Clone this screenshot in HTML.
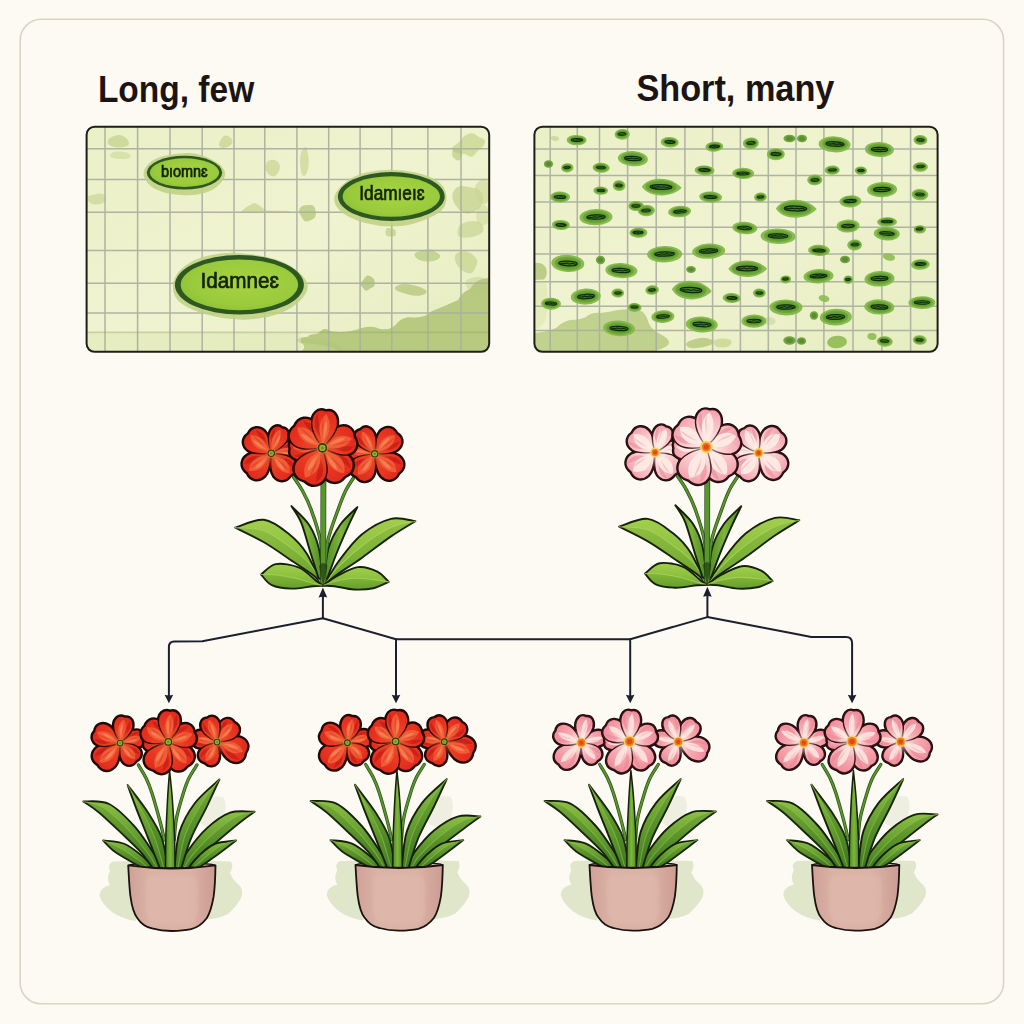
<!DOCTYPE html>
<html><head><meta charset="utf-8"><title>Long, few / Short, many</title>
<style>
html,body{margin:0;padding:0;background:#fdfaf4;}
body{width:1024px;height:1024px;overflow:hidden;font-family:"Liberation Sans",sans-serif;}
svg{display:block}
.ttl{font-family:"Liberation Sans",sans-serif;font-weight:bold;font-size:36px;fill:#1c1412;}
.lbl{font-family:"Liberation Sans",sans-serif;font-weight:normal;fill:#14230c;stroke:#14230c;stroke-width:0.7px;}
</style></head><body>
<svg width="1024" height="1024" viewBox="0 0 1024 1024">
<defs>
<clipPath id="clipL"><rect x="86.6" y="126.7" width="402.6" height="225.1" rx="8" ry="8"/></clipPath>
<clipPath id="clipR"><rect x="534.4" y="126.7" width="403.2" height="225.1" rx="8" ry="8"/></clipPath>
<filter id="soft" x="-20%" y="-20%" width="140%" height="140%"><feGaussianBlur stdDeviation="0.7"/></filter>
<filter id="soft2" x="-20%" y="-20%" width="140%" height="140%"><feGaussianBlur stdDeviation="1.4"/></filter>
<radialGradient id="egrad" cx="0.55" cy="0.45" r="0.75"><stop offset="0" stop-color="#a6d341"/><stop offset="0.6" stop-color="#9acb3c"/><stop offset="1" stop-color="#84b833"/></radialGradient>
<linearGradient id="pgradL" x1="0" y1="0" x2="1" y2="1"><stop offset="0" stop-color="#eaf0c6"/><stop offset="0.5" stop-color="#f0f3d0"/><stop offset="1" stop-color="#e6edc0"/></linearGradient>
<filter id="softS" x="-5%" y="-5%" width="110%" height="110%"><feGaussianBlur stdDeviation="0.35"/></filter>
<linearGradient id="pr" x1="0" y1="1" x2="0" y2="0"><stop offset="0" stop-color="#d92a1b"/><stop offset="0.45" stop-color="#ea3a23"/><stop offset="1" stop-color="#e12a1c"/></linearGradient>
<linearGradient id="pp" x1="0" y1="1" x2="0" y2="0"><stop offset="0" stop-color="#fde6e1"/><stop offset="0.55" stop-color="#f9c5c8"/><stop offset="1" stop-color="#f3a2ad"/></linearGradient>
<linearGradient id="pq" x1="0" y1="1" x2="0" y2="0"><stop offset="0" stop-color="#fbd3d0"/><stop offset="0.5" stop-color="#f6a9b0"/><stop offset="1" stop-color="#f08c9a"/></linearGradient>
<linearGradient id="lfA" x1="0" y1="0" x2="0" y2="1"><stop offset="0" stop-color="#a2cf4d"/><stop offset="0.55" stop-color="#8abf3c"/><stop offset="1" stop-color="#6ea830"/></linearGradient>
<linearGradient id="lfB" x1="0" y1="0" x2="0" y2="1"><stop offset="0" stop-color="#8cc043"/><stop offset="0.5" stop-color="#659f30"/><stop offset="1" stop-color="#447c24"/></linearGradient>
<linearGradient id="lfC" x1="0" y1="0" x2="1" y2="0"><stop offset="0" stop-color="#4d8a27"/><stop offset="0.5" stop-color="#7fb53a"/><stop offset="1" stop-color="#4d8a27"/></linearGradient>
<linearGradient id="potg" x1="0" y1="0" x2="1" y2="0"><stop offset="0" stop-color="#cfa196"/><stop offset="0.25" stop-color="#dbb2a6"/><stop offset="0.7" stop-color="#dbb2a6"/><stop offset="1" stop-color="#cc9c92"/></linearGradient>
<radialGradient id="glowR"><stop offset="0" stop-color="#f47a3e" stop-opacity="0.75"/><stop offset="0.5" stop-color="#f2683a" stop-opacity="0.35"/><stop offset="1" stop-color="#f2683a" stop-opacity="0"/></radialGradient>
<radialGradient id="glowP"><stop offset="0" stop-color="#fdf0d8" stop-opacity="0.85"/><stop offset="0.5" stop-color="#fdeee6" stop-opacity="0.4"/><stop offset="1" stop-color="#fdeee6" stop-opacity="0"/></radialGradient>
</defs>
<rect width="1024" height="1024" fill="#fdfaf4"/>
<rect x="20.2" y="19.2" width="983.4" height="984.6" rx="21" ry="21" fill="none" stroke="#dbd4c4" stroke-width="1.6"/>
<text x="97.9" y="101.8" class="ttl" textLength="156.3" lengthAdjust="spacingAndGlyphs">Long, few</text>
<text x="636.4" y="101.1" class="ttl" textLength="198" lengthAdjust="spacingAndGlyphs">Short, many</text>
<rect x="86.6" y="126.7" width="402.6" height="225.1" rx="8" ry="8" fill="url(#pgradL)"/>
<g clip-path="url(#clipL)">
<g filter="url(#soft)">
<path d="M8.8,-1.6Q10.1,0.0 10.3,2.3Q10.6,4.6 6.5,5.7Q2.3,6.8 -1.5,5.8Q-5.4,4.8 -8.3,3.5Q-11.3,2.1 -11.1,0.0Q-11.0,-2.1 -8.7,-3.9Q-6.4,-5.7 -2.0,-6.3Q2.3,-6.9 4.9,-5.1Q7.5,-3.3 8.8,-1.6Z" transform="translate(118.5,141.5) rotate(-5)" fill="#c9d694" opacity="0.85"/>
<path d="M9.5,-1.5Q11.4,0.0 10.1,1.7Q8.7,3.5 5.0,3.5Q1.3,3.6 -1.3,3.4Q-3.9,3.2 -7.1,2.5Q-10.2,1.8 -10.0,0.0Q-9.9,-1.7 -7.5,-2.9Q-5.1,-4.2 -1.8,-4.1Q1.5,-4.1 4.6,-3.5Q7.6,-3.0 9.5,-1.5Z" transform="translate(120.0,155.5) rotate(0)" fill="#c9d694" opacity="0.55"/>
<path d="M6.3,-1.7Q7.1,0.0 6.7,2.0Q6.2,3.9 3.8,4.8Q1.3,5.6 -1.4,5.5Q-4.2,5.4 -6.1,3.8Q-7.9,2.2 -7.0,0.3Q-6.1,-1.7 -4.6,-2.9Q-3.1,-4.1 -0.8,-5.4Q1.6,-6.8 3.5,-5.1Q5.5,-3.4 6.3,-1.7Z" transform="translate(225.5,141.8) rotate(-20)" fill="#c9d694" opacity="0.80"/>
<path d="M7.4,-3.1Q7.5,0.0 6.4,2.3Q5.4,4.5 3.4,6.2Q1.4,8.0 -1.1,7.1Q-3.6,6.2 -5.0,4.3Q-6.5,2.4 -7.1,-0.2Q-7.6,-2.8 -6.3,-5.7Q-5.0,-8.7 -1.7,-9.1Q1.7,-9.5 4.5,-7.8Q7.3,-6.1 7.4,-3.1Z" transform="translate(272.5,169.0) rotate(0)" fill="#c9d694" opacity="0.75"/>
<path d="M8.9,-2.1Q9.5,0.0 8.6,2.0Q7.6,3.9 4.7,5.0Q1.8,6.1 -1.8,5.9Q-5.4,5.7 -7.4,3.9Q-9.3,2.1 -9.7,-0.1Q-10.0,-2.2 -6.8,-3.0Q-3.6,-3.8 -1.0,-4.6Q1.5,-5.3 4.9,-4.8Q8.2,-4.2 8.9,-2.1Z" transform="translate(97.0,198.5) rotate(0)" fill="#c9d694" opacity="0.70"/>
<path d="M241,211.5 Q247,206 254,203 Q260,204.5 265,210.5 L290,211 L290,212.6 L241,212.6Z" fill="#c9d694" opacity="0.8"/>
<path d="M4.3,-4.6Q5.2,0.0 4.6,5.5Q4.0,11.0 2.4,12.8Q0.8,14.7 -0.6,13.2Q-2.1,11.6 -2.7,7.8Q-3.4,4.0 -4.0,-0.7Q-4.6,-5.5 -3.5,-9.2Q-2.3,-12.8 -0.7,-14.6Q0.9,-16.5 2.1,-12.8Q3.3,-9.1 4.3,-4.6Z" transform="translate(304.0,162.0) rotate(4)" fill="#c9d694" opacity="0.70"/>
<path d="M7.7,-2.4Q9.2,0.0 7.9,2.6Q6.5,5.2 4.2,7.6Q1.9,10.0 -1.1,8.3Q-4.1,6.7 -6.8,5.0Q-9.5,3.3 -9.2,0.1Q-8.8,-3.1 -6.4,-4.8Q-4.0,-6.6 -1.1,-8.0Q1.7,-9.4 3.9,-7.1Q6.1,-4.9 7.7,-2.4Z" transform="translate(308.0,212.5) rotate(30)" fill="#b3c77a" opacity="0.75"/>
<path d="M5.3,-1.6Q5.5,0.0 5.6,1.8Q5.7,3.6 3.3,3.7Q0.9,3.8 -1.2,4.1Q-3.4,4.3 -4.1,2.8Q-4.8,1.3 -5.0,-0.1Q-5.2,-1.4 -4.5,-3.1Q-3.8,-4.9 -1.4,-4.4Q0.9,-4.0 3.0,-3.5Q5.0,-3.1 5.3,-1.6Z" transform="translate(390.5,232.5) rotate(0)" fill="#c9d694" opacity="0.90"/>
<path d="M13.5,-2.2Q16.6,0.0 14.9,2.7Q13.2,5.5 9.4,6.7Q5.5,7.8 1.3,10.6Q-3.0,13.3 -5.4,9.6Q-7.8,5.9 -12.1,4.5Q-16.3,3.1 -18.3,-0.4Q-20.2,-3.8 -14.3,-5.0Q-8.3,-6.2 -5.4,-8.7Q-2.5,-11.2 2.5,-11.0Q7.6,-10.7 9.0,-7.5Q10.4,-4.3 13.5,-2.2Z" transform="translate(470.0,145.0) rotate(-20)" fill="#c9d694" opacity="0.80"/>
<path d="M4.5,-2.3Q5.2,0.0 4.4,2.2Q3.7,4.4 2.3,5.7Q0.9,7.1 -0.6,6.2Q-2.2,5.3 -3.8,4.0Q-5.3,2.7 -5.4,-0.0Q-5.4,-2.7 -4.0,-4.6Q-2.7,-6.5 -1.0,-6.2Q0.7,-5.9 2.3,-5.2Q3.9,-4.5 4.5,-2.3Z" transform="translate(457.5,154.0) rotate(0)" fill="#b3c77a" opacity="0.60"/>
<path d="M14.3,-5.0Q16.5,0.0 14.5,5.1Q12.5,10.3 6.2,13.9Q0.0,17.6 -5.9,13.6Q-11.8,9.7 -14.4,4.8Q-17.1,0.0 -14.9,-5.2Q-12.7,-10.4 -6.3,-10.9Q-0.0,-11.4 6.1,-10.7Q12.1,-10.0 14.3,-5.0Z" transform="translate(468.0,198.0) rotate(10)" fill="#c9d694" opacity="0.85"/>
<path d="M8.2,-4.5Q8.9,0.0 8.1,4.5Q7.4,8.9 4.5,11.3Q1.7,13.7 -1.1,11.6Q-3.8,9.5 -5.2,6.5Q-6.6,3.5 -7.3,-0.4Q-8.0,-4.2 -6.0,-7.2Q-4.1,-10.1 -1.1,-12.3Q1.8,-14.6 4.6,-11.8Q7.5,-9.1 8.2,-4.5Z" transform="translate(482.0,192.0) rotate(0)" fill="#c9d694" opacity="0.60"/>
<path d="M11.6,-2.7Q13.7,0.0 13.1,3.5Q12.6,7.1 6.3,8.5Q0.0,10.0 -6.8,8.8Q-13.7,7.7 -13.3,3.8Q-13.0,0.0 -11.2,-2.7Q-9.5,-5.3 -4.7,-6.2Q-0.0,-7.1 4.7,-6.2Q9.4,-5.3 11.6,-2.7Z" transform="translate(470.0,228.0) rotate(-10)" fill="#c9d694" opacity="0.75"/>
<path d="M6.1,-2.9Q6.6,0.0 6.6,3.5Q6.7,7.0 4.1,8.8Q1.5,10.5 -1.6,10.4Q-4.8,10.3 -5.8,6.7Q-6.8,3.1 -6.7,0.0Q-6.7,-3.1 -5.6,-6.3Q-4.4,-9.6 -1.5,-10.0Q1.5,-10.5 3.5,-8.2Q5.6,-5.9 6.1,-2.9Z" transform="translate(483.0,215.0) rotate(0)" fill="#c9d694" opacity="0.50"/>
<path d="M6.9,-2.8Q8.0,0.0 6.0,1.9Q4.0,3.8 2.6,6.0Q1.3,8.3 -0.8,6.9Q-2.8,5.6 -5.2,4.4Q-7.5,3.2 -6.2,0.6Q-4.9,-2.0 -4.4,-4.9Q-3.9,-7.7 -1.3,-7.9Q1.2,-8.1 3.5,-6.9Q5.9,-5.7 6.9,-2.8Z" transform="translate(367.5,283.5) rotate(20)" fill="#b3c77a" opacity="0.85"/>
<path d="M10.8,-1.7Q13.1,0.0 11.9,2.1Q10.6,4.2 6.5,5.2Q2.3,6.3 -2.2,5.9Q-6.8,5.6 -9.7,3.9Q-12.6,2.2 -13.4,-0.1Q-14.1,-2.4 -10.2,-3.8Q-6.3,-5.1 -1.8,-6.0Q2.6,-6.9 5.5,-5.1Q8.4,-3.3 10.8,-1.7Z" transform="translate(428.0,255.5) rotate(0)" fill="#b3c77a" opacity="0.70"/>
<path d="M12.9,-1.4Q16.2,0.0 15.0,2.0Q13.9,4.1 8.6,5.4Q3.3,6.6 -2.0,5.5Q-7.3,4.4 -12.0,3.3Q-16.8,2.1 -16.6,0.0Q-16.4,-2.1 -12.5,-3.6Q-8.6,-5.2 -3.1,-4.9Q2.3,-4.6 6.0,-3.7Q9.7,-2.9 12.9,-1.4Z" transform="translate(411.5,289.5) rotate(5)" fill="#b3c77a" opacity="0.75"/>
<path d="M10.5,-3.8Q11.3,0.0 11.1,4.3Q10.9,8.5 5.4,9.2Q0.0,9.9 -4.1,8.1Q-8.1,6.4 -11.0,3.2Q-13.9,0.0 -11.9,-3.9Q-9.9,-7.8 -4.9,-9.3Q-0.0,-10.9 4.8,-9.2Q9.7,-7.6 10.5,-3.8Z" transform="translate(466.0,262.0) rotate(30)" fill="#c9d694" opacity="0.80"/>
<path d="M10.6,-2.9Q12.9,0.0 11.6,3.6Q10.3,7.2 6.2,8.6Q2.1,9.9 -2.0,9.3Q-6.0,8.7 -8.4,6.0Q-10.7,3.3 -12.2,-0.5Q-13.7,-4.2 -9.6,-6.0Q-5.4,-7.9 -1.8,-8.1Q1.8,-8.3 5.0,-7.0Q8.2,-5.8 10.6,-2.9Z" transform="translate(478.0,285.0) rotate(0)" fill="#c9d694" opacity="0.60"/>
<path d="M296,340 Q305,335 318,333.5 Q324,326 330,331 Q345,334 362,328 Q372,325 380,329 Q392,331 398,322 Q404,316 414,317.5 Q425,318 432,311 Q445,306 458,300 Q462,292 470,289 Q476,278 489.5,278 L489.5,352 L340,352 Q330,344 300,343Z" fill="#b3c77a" opacity="0.92"/>
<path d="M296,340 Q315,337 332,342 Q345,346 340,352 L300,352 Q310,346 296,340Z" fill="#b3c77a" opacity="0.8"/>
<path d="M8.9,-0.7Q10.6,0.0 9.0,0.8Q7.5,1.5 4.6,2.0Q1.7,2.4 -1.8,2.3Q-5.3,2.2 -6.4,1.5Q-7.6,0.7 -8.3,-0.1Q-9.0,-0.8 -7.1,-1.5Q-5.3,-2.2 -1.7,-2.4Q1.8,-2.5 4.5,-2.0Q7.1,-1.5 8.9,-0.7Z" transform="translate(432.0,306.5) rotate(-8)" fill="#e6edc0" opacity="0.80"/>
<path d="M5.7,-0.5Q6.0,0.0 5.9,0.6Q5.8,1.1 3.5,1.4Q1.3,1.7 -1.1,1.5Q-3.5,1.4 -4.6,0.9Q-5.8,0.5 -6.6,-0.1Q-7.4,-0.6 -5.7,-1.1Q-4.0,-1.6 -1.4,-1.6Q1.2,-1.6 3.3,-1.3Q5.4,-1.0 5.7,-0.5Z" transform="translate(303.0,335.8) rotate(-5)" fill="#eef2cc" opacity="0.90"/>
</g>
<rect x="86" y="332" width="215" height="21" fill="#dfe8b4" opacity="0.55"/>
<g stroke="#aab0a0" stroke-width="1.5" opacity="0.95"><line x1="105.0" y1="126.7" x2="105.0" y2="351.8"/><line x1="137.6" y1="126.7" x2="137.6" y2="351.8"/><line x1="170.0" y1="126.7" x2="170.0" y2="351.8"/><line x1="202.2" y1="126.7" x2="202.2" y2="351.8"/><line x1="234.0" y1="126.7" x2="234.0" y2="351.8"/><line x1="264.8" y1="126.7" x2="264.8" y2="351.8"/><line x1="296.9" y1="126.7" x2="296.9" y2="351.8"/><line x1="328.7" y1="126.7" x2="328.7" y2="351.8"/><line x1="360.1" y1="126.7" x2="360.1" y2="351.8"/><line x1="391.8" y1="126.7" x2="391.8" y2="351.8"/><line x1="427.9" y1="126.7" x2="427.9" y2="351.8"/><line x1="461.0" y1="126.7" x2="461.0" y2="351.8"/><line x1="86.6" y1="148.8" x2="489.2" y2="148.8"/><line x1="86.6" y1="179.5" x2="489.2" y2="179.5"/><line x1="86.6" y1="212.3" x2="489.2" y2="212.3"/><line x1="86.6" y1="250.4" x2="489.2" y2="250.4"/><line x1="86.6" y1="283.2" x2="489.2" y2="283.2"/><line x1="86.6" y1="312.9" x2="489.2" y2="312.9"/></g><line x1="86.6" y1="332.4" x2="489.2" y2="332.4" stroke="#8f9a70" stroke-width="1.6" opacity="0.35"/>
<g filter="url(#soft)"><path d="M39.9,-4.5Q42.5,0.0 39.9,4.5Q37.3,9.0 32.3,13.1Q27.2,17.2 18.5,19.3Q9.7,21.4 0.2,21.1Q-9.4,20.7 -18.0,18.8Q-26.7,16.8 -32.0,13.0Q-37.3,9.1 -39.4,4.5Q-41.5,0.0 -39.5,-4.6Q-37.5,-9.1 -32.1,-13.0Q-26.7,-16.9 -18.0,-18.6Q-9.2,-20.3 0.2,-20.9Q9.7,-21.5 17.7,-18.8Q25.6,-16.2 31.4,-12.6Q37.3,-9.0 39.9,-4.5Z" transform="translate(184.0,174.1) rotate(0)" fill="#bdd082" opacity="0.85"/></g>
<ellipse cx="184.5" cy="172.6" rx="37.7" ry="16.9" fill="#2d581f"/>
<ellipse cx="184.5" cy="172.6" rx="34.7" ry="14.3" fill="url(#egrad)"/>
<text x="160.9" y="176.8" class="lbl" font-size="15.6" textLength="46.8" lengthAdjust="spacingAndGlyphs">bıomnɛ</text>
<g filter="url(#soft)"><path d="M54.8,-6.4Q56.6,0.0 54.6,6.3Q52.7,12.6 44.0,17.3Q35.3,22.0 24.2,25.2Q13.1,28.5 0.0,28.4Q-13.0,28.3 -24.4,25.3Q-35.9,22.3 -44.3,17.5Q-52.7,12.6 -55.5,6.3Q-58.3,0.0 -54.4,-6.0Q-50.6,-12.1 -43.4,-17.3Q-36.2,-22.6 -24.6,-25.4Q-13.0,-28.3 -0.0,-28.2Q12.9,-28.1 25.0,-25.6Q37.1,-23.1 45.1,-17.9Q53.1,-12.7 54.8,-6.4Z" transform="translate(390.8,198.0) rotate(0)" fill="#bdd082" opacity="0.85"/></g>
<ellipse cx="391.3" cy="196.5" rx="53.4" ry="24.4" fill="#2d581f"/>
<ellipse cx="391.3" cy="196.5" rx="48.6" ry="20.2" fill="url(#egrad)"/>
<text x="359.3" y="200.4" class="lbl" font-size="19.3" textLength="65.3" lengthAdjust="spacingAndGlyphs">Idamıeıɛ</text>
<g filter="url(#soft)"><path d="M66.2,-7.3Q71.4,0.0 66.7,7.4Q62.1,14.8 52.9,21.0Q43.7,27.1 29.7,30.5Q15.6,33.9 0.3,33.3Q-15.1,32.7 -28.4,29.3Q-41.8,25.9 -52.3,20.4Q-62.7,14.9 -65.0,7.5Q-67.3,0.0 -64.5,-7.4Q-61.7,-14.7 -53.0,-21.1Q-44.3,-27.5 -30.0,-30.8Q-15.8,-34.2 -0.4,-33.3Q15.0,-32.5 28.4,-29.2Q41.8,-26.0 51.4,-20.3Q61.0,-14.6 66.2,-7.3Z" transform="translate(238.9,286.3) rotate(0)" fill="#bdd082" opacity="0.85"/></g>
<ellipse cx="239.4" cy="284.8" rx="64.5" ry="29.8" fill="#2d581f"/>
<ellipse cx="239.4" cy="284.8" rx="58.7" ry="25.4" fill="url(#egrad)"/>
<text x="200.6" y="288.2" class="lbl" font-size="22.0" textLength="78.4" lengthAdjust="spacingAndGlyphs">Idamneɛ</text>
</g>
<rect x="86.6" y="126.7" width="402.6" height="225.1" rx="8" ry="8" fill="none" stroke="#1d2016" stroke-width="2"/>
<rect x="534.4" y="126.7" width="403.2" height="225.1" rx="8" ry="8" fill="url(#pgradL)"/>
<g clip-path="url(#clipR)">
<g filter="url(#soft)">
<path d="M534,263 Q543,262 546,268 Q548.5,275 544,279.5 L534,280Z" fill="#b3c77a" opacity="0.85"/>
<path d="M534,283 L546,283 Q549,300 546,318 Q544,326 534,330Z" fill="#dfe8b4" opacity="0.7"/>
<path d="M534,333 Q548,332 556,328 Q562,322 570,320 Q580,320 586,317 Q592,312 600,313 Q610,312 618,310 Q630,308.5 640,310.5 Q646,313 648,321 Q650,329 660,334 Q672,340 668,345 Q664,349 650,352 L534,352Z" fill="#b3c77a" opacity="0.78"/>
<path d="M12.9,-1.4Q14.1,0.0 12.8,1.3Q11.4,2.7 7.2,3.7Q3.0,4.7 -3.4,4.7Q-9.7,4.7 -12.0,3.1Q-14.2,1.4 -14.1,0.0Q-14.0,-1.4 -11.0,-2.6Q-7.9,-3.8 -2.2,-4.7Q3.5,-5.5 7.6,-4.1Q11.6,-2.7 12.9,-1.4Z" transform="translate(700.0,343.0) rotate(-5)" fill="#b3c77a" opacity="0.80"/>
<path d="M8.5,-1.8Q8.1,0.0 7.4,1.4Q6.7,2.8 4.1,3.7Q1.6,4.5 -2.1,4.8Q-5.9,5.1 -7.6,3.4Q-9.4,1.7 -9.8,-0.1Q-10.3,-1.9 -7.2,-2.7Q-4.1,-3.6 -1.2,-4.3Q1.7,-4.9 5.3,-4.3Q8.8,-3.7 8.5,-1.8Z" transform="translate(723.0,343.0) rotate(5)" fill="#c9d694" opacity="0.80"/>
<path d="M3.7,-0.9Q4.1,0.0 3.7,0.9Q3.2,1.8 2.0,2.3Q0.8,2.9 -0.5,2.5Q-1.8,2.0 -2.9,1.5Q-4.0,0.9 -4.2,-0.0Q-4.4,-1.0 -3.4,-1.8Q-2.4,-2.7 -0.9,-2.4Q0.6,-2.2 1.9,-2.0Q3.3,-1.8 3.7,-0.9Z" transform="translate(555.0,138.5) rotate(0)" fill="#c9d694" opacity="0.80"/>
<path d="M5.1,-1.2Q6.1,0.0 5.4,1.3Q4.8,2.7 3.0,3.6Q1.2,4.5 -1.2,4.3Q-3.5,4.1 -5.1,2.8Q-6.6,1.6 -5.9,0.2Q-5.3,-1.3 -4.4,-2.7Q-3.6,-4.1 -1.3,-4.0Q1.0,-3.8 2.6,-3.1Q4.2,-2.4 5.1,-1.2Z" transform="translate(770.0,321.0) rotate(0)" fill="#c9d694" opacity="0.60"/>
</g>
<g stroke="#aab0a0" stroke-width="1.5" opacity="0.95"><line x1="550.2" y1="126.7" x2="550.2" y2="351.8"/><line x1="577.3" y1="126.7" x2="577.3" y2="351.8"/><line x1="599.5" y1="126.7" x2="599.5" y2="351.8"/><line x1="627.6" y1="126.7" x2="627.6" y2="351.8"/><line x1="656.2" y1="126.7" x2="656.2" y2="351.8"/><line x1="684.9" y1="126.7" x2="684.9" y2="351.8"/><line x1="712.6" y1="126.7" x2="712.6" y2="351.8"/><line x1="740.4" y1="126.7" x2="740.4" y2="351.8"/><line x1="768.3" y1="126.7" x2="768.3" y2="351.8"/><line x1="796.0" y1="126.7" x2="796.0" y2="351.8"/><line x1="823.9" y1="126.7" x2="823.9" y2="351.8"/><line x1="853.0" y1="126.7" x2="853.0" y2="351.8"/><line x1="881.9" y1="126.7" x2="881.9" y2="351.8"/><line x1="910.6" y1="126.7" x2="910.6" y2="351.8"/><line x1="534.4" y1="149.1" x2="937.6" y2="149.1"/><line x1="534.4" y1="175.4" x2="937.6" y2="175.4"/><line x1="534.4" y1="202.0" x2="937.6" y2="202.0"/><line x1="534.4" y1="227.3" x2="937.6" y2="227.3"/><line x1="534.4" y1="253.9" x2="937.6" y2="253.9"/><line x1="534.4" y1="281.8" x2="937.6" y2="281.8"/><line x1="534.4" y1="306.2" x2="937.6" y2="306.2"/><line x1="534.4" y1="330.6" x2="937.6" y2="330.6"/></g>
<g filter="url(#softS)"><g transform="rotate(1.1 577.0 140.0)"><ellipse cx="576.6" cy="140.1" rx="10.0" ry="5.2" fill="#83b748" opacity="0.95"/><ellipse cx="577.0" cy="140.0" rx="8.0" ry="4.1" fill="#6ca538"/><ellipse cx="577.0" cy="140.0" rx="6.8" ry="2.9" fill="#5f9b31" opacity="0.85"/><ellipse cx="577.0" cy="140.0" rx="5.6" ry="1.4" fill="#3f7d24" stroke="#10260c" stroke-width="1.05"/><path d="M572.5,140.1 L575.5,140.3 L578.5,139.7 L581.5,140.3" fill="none" stroke="#0f2a0c" stroke-width="0.89" stroke-linecap="round"/></g><g transform="rotate(-2.2 622.0 134.0)"><ellipse cx="622.2" cy="134.3" rx="7.6" ry="5.4" fill="#83b748" opacity="0.95"/><ellipse cx="622.0" cy="134.0" rx="6.1" ry="4.2" fill="#6ca538"/><ellipse cx="622.0" cy="134.0" rx="5.2" ry="3.0" fill="#5f9b31" opacity="0.85"/><ellipse cx="622.0" cy="134.0" rx="4.3" ry="1.5" fill="#3f7d24" stroke="#10260c" stroke-width="0.85"/><path d="M618.6,134.1 L622.0,134.3 L625.4,133.7" fill="none" stroke="#0f2a0c" stroke-width="0.72" stroke-linecap="round"/></g><g transform="rotate(3.1 670.0 142.0)"><ellipse cx="669.7" cy="142.2" rx="9.0" ry="5.2" fill="#83b748" opacity="0.95"/><ellipse cx="670.0" cy="142.0" rx="7.2" ry="4.1" fill="#6ca538"/><ellipse cx="670.0" cy="142.0" rx="6.1" ry="2.9" fill="#5f9b31" opacity="0.85"/><ellipse cx="670.0" cy="142.0" rx="5.0" ry="1.4" fill="#3f7d24" stroke="#10260c" stroke-width="1.05"/><path d="M666.0,142.1 L668.7,142.3 L671.3,141.7 L674.0,142.3" fill="none" stroke="#0f2a0c" stroke-width="0.89" stroke-linecap="round"/></g><g transform="rotate(-3.8 714.5 146.5)"><ellipse cx="714.3" cy="146.7" rx="9.0" ry="5.0" fill="#83b748" opacity="0.95"/><ellipse cx="714.5" cy="146.5" rx="7.2" ry="3.9" fill="#6ca538"/><ellipse cx="714.5" cy="146.5" rx="6.1" ry="2.8" fill="#5f9b31" opacity="0.85"/><ellipse cx="714.5" cy="146.5" rx="5.0" ry="1.4" fill="#3f7d24" stroke="#10260c" stroke-width="1.05"/><path d="M710.5,146.6 L713.2,146.8 L715.8,146.2 L718.5,146.8" fill="none" stroke="#0f2a0c" stroke-width="0.89" stroke-linecap="round"/></g><g transform="rotate(-3.8 751.0 143.0)"><ellipse cx="750.8" cy="143.3" rx="8.0" ry="5.8" fill="#83b748" opacity="0.95"/><ellipse cx="751.0" cy="143.0" rx="6.4" ry="4.5" fill="#6ca538"/><ellipse cx="751.0" cy="143.0" rx="5.4" ry="3.2" fill="#5f9b31" opacity="0.85"/><ellipse cx="751.0" cy="143.0" rx="4.5" ry="1.6" fill="#3f7d24" stroke="#10260c" stroke-width="0.85"/><path d="M747.4,143.1 L751.0,143.3 L754.6,142.7" fill="none" stroke="#0f2a0c" stroke-width="0.72" stroke-linecap="round"/></g><g transform="rotate(0.4 776.0 154.0)"><ellipse cx="775.8" cy="154.3" rx="9.0" ry="6.0" fill="#83b748" opacity="0.95"/><ellipse cx="776.0" cy="154.0" rx="7.2" ry="4.7" fill="#6ca538"/><ellipse cx="776.0" cy="154.0" rx="6.1" ry="3.3" fill="#5f9b31" opacity="0.85"/><ellipse cx="776.0" cy="154.0" rx="5.0" ry="1.6" fill="#3f7d24" stroke="#10260c" stroke-width="1.05"/><path d="M772.0,154.1 L774.7,154.3 L777.3,153.7 L780.0,154.3" fill="none" stroke="#0f2a0c" stroke-width="0.89" stroke-linecap="round"/></g><ellipse cx="789.5" cy="138.5" rx="6.0" ry="3.8" fill="#6e9f3b" opacity="0.95"/><ellipse cx="789.5" cy="138.5" rx="3.6" ry="2.3" fill="#5a8d30"/><ellipse cx="802.0" cy="138.5" rx="5.0" ry="3.8" fill="#6e9f3b" opacity="0.95"/><ellipse cx="802.0" cy="138.5" rx="3.0" ry="2.3" fill="#5a8d30"/><g transform="rotate(2.5 835.0 144.0)"><ellipse cx="834.6" cy="144.4" rx="16.0" ry="8.0" fill="#83b748" opacity="0.95"/><ellipse cx="835.0" cy="144.0" rx="12.8" ry="6.2" fill="#6ca538"/><ellipse cx="835.0" cy="144.0" rx="10.9" ry="4.4" fill="#5f9b31" opacity="0.85"/><ellipse cx="835.0" cy="144.0" rx="9.0" ry="2.2" fill="#3f7d24" stroke="#10260c" stroke-width="1.25"/><path d="M827.8,144.1 L830.7,144.3 L833.6,143.7 L836.4,144.3 L839.3,143.7 L842.2,144.3" fill="none" stroke="#0f2a0c" stroke-width="1.06" stroke-linecap="round"/></g><g transform="rotate(1.6 879.5 149.5)"><ellipse cx="879.4" cy="149.5" rx="14.5" ry="7.6" fill="#83b748" opacity="0.95"/><ellipse cx="879.5" cy="149.5" rx="11.6" ry="5.9" fill="#6ca538"/><ellipse cx="879.5" cy="149.5" rx="9.9" ry="4.2" fill="#5f9b31" opacity="0.85"/><ellipse cx="879.5" cy="149.5" rx="8.1" ry="2.1" fill="#3f7d24" stroke="#10260c" stroke-width="1.25"/><path d="M873.0,149.6 L875.6,149.8 L878.2,149.2 L880.8,149.8 L883.4,149.2 L886.0,149.8" fill="none" stroke="#0f2a0c" stroke-width="1.06" stroke-linecap="round"/></g><g transform="rotate(3.7 920.5 140.0)"><ellipse cx="920.4" cy="140.0" rx="7.0" ry="5.0" fill="#83b748" opacity="0.95"/><ellipse cx="920.5" cy="140.0" rx="5.6" ry="3.9" fill="#6ca538"/><ellipse cx="920.5" cy="140.0" rx="4.8" ry="2.8" fill="#5f9b31" opacity="0.85"/><ellipse cx="920.5" cy="140.0" rx="3.9" ry="1.4" fill="#3f7d24" stroke="#10260c" stroke-width="0.85"/><path d="M917.4,140.1 L920.5,140.3 L923.6,139.7" fill="none" stroke="#0f2a0c" stroke-width="0.72" stroke-linecap="round"/></g><ellipse cx="548.5" cy="164.0" rx="4.6" ry="3.8" fill="#6e9f3b" opacity="0.95"/><ellipse cx="548.5" cy="164.0" rx="2.8" ry="2.3" fill="#5a8d30"/><g transform="rotate(-3.2 567.0 167.5)"><ellipse cx="567.3" cy="167.8" rx="6.2" ry="4.6" fill="#83b748" opacity="0.95"/><ellipse cx="567.0" cy="167.5" rx="5.0" ry="3.6" fill="#6ca538"/><ellipse cx="567.0" cy="167.5" rx="4.2" ry="2.5" fill="#5f9b31" opacity="0.85"/><ellipse cx="567.0" cy="167.5" rx="3.5" ry="1.2" fill="#3f7d24" stroke="#10260c" stroke-width="0.85"/><path d="M564.2,167.6 L567.0,167.8 L569.8,167.2" fill="none" stroke="#0f2a0c" stroke-width="0.72" stroke-linecap="round"/></g><g transform="rotate(2.5 601.0 167.5)"><ellipse cx="601.2" cy="167.7" rx="8.6" ry="5.0" fill="#83b748" opacity="0.95"/><ellipse cx="601.0" cy="167.5" rx="6.9" ry="3.9" fill="#6ca538"/><ellipse cx="601.0" cy="167.5" rx="5.8" ry="2.8" fill="#5f9b31" opacity="0.85"/><ellipse cx="601.0" cy="167.5" rx="4.8" ry="1.4" fill="#3f7d24" stroke="#10260c" stroke-width="0.85"/><path d="M597.1,167.6 L599.7,167.8 L602.3,167.2 L604.9,167.8" fill="none" stroke="#0f2a0c" stroke-width="0.72" stroke-linecap="round"/></g><g transform="rotate(3.8 633.0 158.5)"><ellipse cx="632.9" cy="158.7" rx="15.0" ry="7.6" fill="#83b748" opacity="0.95"/><ellipse cx="633.0" cy="158.5" rx="12.0" ry="5.9" fill="#6ca538"/><ellipse cx="633.0" cy="158.5" rx="10.2" ry="4.2" fill="#5f9b31" opacity="0.85"/><ellipse cx="633.0" cy="158.5" rx="8.4" ry="2.1" fill="#3f7d24" stroke="#10260c" stroke-width="1.25"/><path d="M626.3,158.6 L629.0,158.8 L631.7,158.2 L634.3,158.8 L637.0,158.2 L639.7,158.8" fill="none" stroke="#0f2a0c" stroke-width="1.06" stroke-linecap="round"/></g><g transform="rotate(2.6 704.5 170.0)"><ellipse cx="704.6" cy="170.4" rx="10.0" ry="5.0" fill="#83b748" opacity="0.95"/><ellipse cx="704.5" cy="170.0" rx="8.0" ry="3.9" fill="#6ca538"/><ellipse cx="704.5" cy="170.0" rx="6.8" ry="2.8" fill="#5f9b31" opacity="0.85"/><ellipse cx="704.5" cy="170.0" rx="5.6" ry="1.4" fill="#3f7d24" stroke="#10260c" stroke-width="1.05"/><path d="M700.0,170.1 L703.0,170.3 L706.0,169.7 L709.0,170.3" fill="none" stroke="#0f2a0c" stroke-width="0.89" stroke-linecap="round"/></g><g transform="rotate(0.6 743.0 173.5)"><ellipse cx="743.2" cy="173.4" rx="11.0" ry="5.6" fill="#83b748" opacity="0.95"/><ellipse cx="743.0" cy="173.5" rx="8.8" ry="4.4" fill="#6ca538"/><ellipse cx="743.0" cy="173.5" rx="7.5" ry="3.1" fill="#5f9b31" opacity="0.85"/><ellipse cx="743.0" cy="173.5" rx="6.2" ry="1.5" fill="#3f7d24" stroke="#10260c" stroke-width="1.05"/><path d="M738.1,173.6 L741.4,173.8 L744.6,173.2 L747.9,173.8" fill="none" stroke="#0f2a0c" stroke-width="0.89" stroke-linecap="round"/></g><g transform="rotate(-2.2 815.0 180.0)"><ellipse cx="814.8" cy="179.9" rx="7.6" ry="5.4" fill="#83b748" opacity="0.95"/><ellipse cx="815.0" cy="180.0" rx="6.1" ry="4.2" fill="#6ca538"/><ellipse cx="815.0" cy="180.0" rx="5.2" ry="3.0" fill="#5f9b31" opacity="0.85"/><ellipse cx="815.0" cy="180.0" rx="4.3" ry="1.5" fill="#3f7d24" stroke="#10260c" stroke-width="0.85"/><path d="M811.6,180.1 L815.0,180.3 L818.4,179.7" fill="none" stroke="#0f2a0c" stroke-width="0.72" stroke-linecap="round"/></g><g transform="rotate(-2.1 832.5 170.0)"><ellipse cx="832.2" cy="170.1" rx="7.6" ry="4.6" fill="#83b748" opacity="0.95"/><ellipse cx="832.5" cy="170.0" rx="6.1" ry="3.6" fill="#6ca538"/><ellipse cx="832.5" cy="170.0" rx="5.2" ry="2.5" fill="#5f9b31" opacity="0.85"/><ellipse cx="832.5" cy="170.0" rx="4.3" ry="1.2" fill="#3f7d24" stroke="#10260c" stroke-width="0.85"/><path d="M829.1,170.1 L832.5,170.3 L835.9,169.7" fill="none" stroke="#0f2a0c" stroke-width="0.72" stroke-linecap="round"/></g><g transform="rotate(1.1 861.0 170.5)"><ellipse cx="860.9" cy="170.6" rx="6.2" ry="4.2" fill="#83b748" opacity="0.95"/><ellipse cx="861.0" cy="170.5" rx="5.0" ry="3.3" fill="#6ca538"/><ellipse cx="861.0" cy="170.5" rx="4.2" ry="2.3" fill="#5f9b31" opacity="0.85"/><ellipse cx="861.0" cy="170.5" rx="3.5" ry="1.2" fill="#3f7d24" stroke="#10260c" stroke-width="0.85"/><path d="M858.2,170.6 L861.0,170.8 L863.8,170.2" fill="none" stroke="#0f2a0c" stroke-width="0.72" stroke-linecap="round"/></g><g transform="rotate(-2.3 920.5 166.5)"><ellipse cx="920.3" cy="167.0" rx="7.6" ry="4.8" fill="#83b748" opacity="0.95"/><ellipse cx="920.5" cy="166.5" rx="6.1" ry="3.7" fill="#6ca538"/><ellipse cx="920.5" cy="166.5" rx="5.2" ry="2.6" fill="#5f9b31" opacity="0.85"/><ellipse cx="920.5" cy="166.5" rx="4.3" ry="1.3" fill="#3f7d24" stroke="#10260c" stroke-width="0.85"/><path d="M917.1,166.6 L920.5,166.8 L923.9,166.2" fill="none" stroke="#0f2a0c" stroke-width="0.72" stroke-linecap="round"/></g><g transform="rotate(1.2 560.0 197.0)"><ellipse cx="560.1" cy="197.0" rx="10.0" ry="5.6" fill="#83b748" opacity="0.95"/><ellipse cx="560.0" cy="197.0" rx="8.0" ry="4.4" fill="#6ca538"/><ellipse cx="560.0" cy="197.0" rx="6.8" ry="3.1" fill="#5f9b31" opacity="0.85"/><ellipse cx="560.0" cy="197.0" rx="5.6" ry="1.5" fill="#3f7d24" stroke="#10260c" stroke-width="1.05"/><path d="M555.5,197.1 L558.5,197.3 L561.5,196.7 L564.5,197.3" fill="none" stroke="#0f2a0c" stroke-width="0.89" stroke-linecap="round"/></g><g transform="rotate(1.8 601.0 190.5)"><ellipse cx="600.7" cy="190.6" rx="7.4" ry="4.2" fill="#83b748" opacity="0.95"/><ellipse cx="601.0" cy="190.5" rx="5.9" ry="3.3" fill="#6ca538"/><ellipse cx="601.0" cy="190.5" rx="5.0" ry="2.3" fill="#5f9b31" opacity="0.85"/><ellipse cx="601.0" cy="190.5" rx="4.1" ry="1.2" fill="#3f7d24" stroke="#10260c" stroke-width="0.85"/><path d="M597.7,190.6 L601.0,190.8 L604.3,190.2" fill="none" stroke="#0f2a0c" stroke-width="0.72" stroke-linecap="round"/></g><g transform="rotate(3.9 619.0 185.5)"><ellipse cx="619.1" cy="185.7" rx="6.4" ry="5.4" fill="#83b748" opacity="0.95"/><ellipse cx="619.0" cy="185.5" rx="5.1" ry="4.2" fill="#6ca538"/><ellipse cx="619.0" cy="185.5" rx="4.4" ry="3.0" fill="#5f9b31" opacity="0.85"/><ellipse cx="619.0" cy="185.5" rx="3.6" ry="1.5" fill="#3f7d24" stroke="#10260c" stroke-width="0.85"/><path d="M616.1,185.6 L619.0,185.8 L621.9,185.2" fill="none" stroke="#0f2a0c" stroke-width="0.72" stroke-linecap="round"/></g><g transform="rotate(1.5 661.0 187.0)"><path d="M641.9,187.3 C648.9,176.0 671.7,176.2 681.7,187.2 C671.7,198.2 648.9,198.2 641.9,187.3 Z" fill="#83b748" opacity="0.95"/><ellipse cx="661.0" cy="187.0" rx="15.6" ry="6.7" fill="#6ca538"/><ellipse cx="661.0" cy="187.0" rx="13.3" ry="4.7" fill="#5f9b31" opacity="0.85"/><ellipse cx="661.0" cy="187.0" rx="10.9" ry="2.3" fill="#3f7d24" stroke="#10260c" stroke-width="1.25"/><path d="M652.3,187.1 L655.2,187.3 L658.1,186.7 L661.0,187.3 L663.9,186.7 L666.8,187.3 L669.7,186.7" fill="none" stroke="#0f2a0c" stroke-width="1.06" stroke-linecap="round"/></g><g transform="rotate(2.7 710.5 197.0)"><ellipse cx="710.7" cy="197.0" rx="11.5" ry="5.6" fill="#83b748" opacity="0.95"/><ellipse cx="710.5" cy="197.0" rx="9.2" ry="4.4" fill="#6ca538"/><ellipse cx="710.5" cy="197.0" rx="7.8" ry="3.1" fill="#5f9b31" opacity="0.85"/><ellipse cx="710.5" cy="197.0" rx="6.4" ry="1.5" fill="#3f7d24" stroke="#10260c" stroke-width="1.05"/><path d="M705.3,197.1 L707.9,197.3 L710.5,196.7 L713.1,197.3 L715.7,196.7" fill="none" stroke="#0f2a0c" stroke-width="0.89" stroke-linecap="round"/></g><g transform="rotate(-3.7 760.5 197.0)"><ellipse cx="760.4" cy="197.1" rx="6.4" ry="4.6" fill="#83b748" opacity="0.95"/><ellipse cx="760.5" cy="197.0" rx="5.1" ry="3.6" fill="#6ca538"/><ellipse cx="760.5" cy="197.0" rx="4.4" ry="2.5" fill="#5f9b31" opacity="0.85"/><ellipse cx="760.5" cy="197.0" rx="3.6" ry="1.2" fill="#3f7d24" stroke="#10260c" stroke-width="0.85"/><path d="M757.6,197.1 L760.5,197.3 L763.4,196.7" fill="none" stroke="#0f2a0c" stroke-width="0.72" stroke-linecap="round"/></g><g transform="rotate(-2.3 850.0 201.0)"><ellipse cx="850.4" cy="201.4" rx="11.0" ry="6.0" fill="#83b748" opacity="0.95"/><ellipse cx="850.0" cy="201.0" rx="8.8" ry="4.7" fill="#6ca538"/><ellipse cx="850.0" cy="201.0" rx="7.5" ry="3.3" fill="#5f9b31" opacity="0.85"/><ellipse cx="850.0" cy="201.0" rx="6.2" ry="1.6" fill="#3f7d24" stroke="#10260c" stroke-width="1.05"/><path d="M845.1,201.1 L848.4,201.3 L851.6,200.7 L854.9,201.3" fill="none" stroke="#0f2a0c" stroke-width="0.89" stroke-linecap="round"/></g><g transform="rotate(-1.5 882.0 189.5)"><ellipse cx="882.1" cy="189.6" rx="15.0" ry="7.6" fill="#83b748" opacity="0.95"/><ellipse cx="882.0" cy="189.5" rx="12.0" ry="5.9" fill="#6ca538"/><ellipse cx="882.0" cy="189.5" rx="10.2" ry="4.2" fill="#5f9b31" opacity="0.85"/><ellipse cx="882.0" cy="189.5" rx="8.4" ry="2.1" fill="#3f7d24" stroke="#10260c" stroke-width="1.25"/><path d="M875.3,189.6 L878.0,189.8 L880.7,189.2 L883.3,189.8 L886.0,189.2 L888.7,189.8" fill="none" stroke="#0f2a0c" stroke-width="1.06" stroke-linecap="round"/></g><g transform="rotate(3.3 920.0 194.5)"><ellipse cx="920.0" cy="194.6" rx="8.4" ry="5.6" fill="#83b748" opacity="0.95"/><ellipse cx="920.0" cy="194.5" rx="6.7" ry="4.4" fill="#6ca538"/><ellipse cx="920.0" cy="194.5" rx="5.7" ry="3.1" fill="#5f9b31" opacity="0.85"/><ellipse cx="920.0" cy="194.5" rx="4.7" ry="1.5" fill="#3f7d24" stroke="#10260c" stroke-width="0.85"/><path d="M916.2,194.6 L920.0,194.8 L923.8,194.2" fill="none" stroke="#0f2a0c" stroke-width="0.72" stroke-linecap="round"/></g><g transform="rotate(-2.0 596.0 217.0)"><ellipse cx="596.0" cy="217.1" rx="16.5" ry="8.2" fill="#83b748" opacity="0.95"/><ellipse cx="596.0" cy="217.0" rx="13.2" ry="6.4" fill="#6ca538"/><ellipse cx="596.0" cy="217.0" rx="11.2" ry="4.5" fill="#5f9b31" opacity="0.85"/><ellipse cx="596.0" cy="217.0" rx="9.2" ry="2.2" fill="#3f7d24" stroke="#10260c" stroke-width="1.25"/><path d="M588.6,217.1 L591.6,217.3 L594.5,216.7 L597.5,217.3 L600.4,216.7 L603.4,217.3" fill="none" stroke="#0f2a0c" stroke-width="1.06" stroke-linecap="round"/></g><g transform="rotate(0.7 636.0 206.0)"><ellipse cx="636.3" cy="206.1" rx="8.0" ry="5.0" fill="#83b748" opacity="0.95"/><ellipse cx="636.0" cy="206.0" rx="6.4" ry="3.9" fill="#6ca538"/><ellipse cx="636.0" cy="206.0" rx="5.4" ry="2.8" fill="#5f9b31" opacity="0.85"/><ellipse cx="636.0" cy="206.0" rx="4.5" ry="1.4" fill="#3f7d24" stroke="#10260c" stroke-width="0.85"/><path d="M632.4,206.1 L636.0,206.3 L639.6,205.7" fill="none" stroke="#0f2a0c" stroke-width="0.72" stroke-linecap="round"/></g><g transform="rotate(-2.2 646.0 210.5)"><ellipse cx="646.4" cy="210.7" rx="8.6" ry="5.6" fill="#83b748" opacity="0.95"/><ellipse cx="646.0" cy="210.5" rx="6.9" ry="4.4" fill="#6ca538"/><ellipse cx="646.0" cy="210.5" rx="5.8" ry="3.1" fill="#5f9b31" opacity="0.85"/><ellipse cx="646.0" cy="210.5" rx="4.8" ry="1.5" fill="#3f7d24" stroke="#10260c" stroke-width="0.85"/><path d="M642.1,210.6 L644.7,210.8 L647.3,210.2 L649.9,210.8" fill="none" stroke="#0f2a0c" stroke-width="0.72" stroke-linecap="round"/></g><g transform="rotate(-3.3 680.0 211.5)"><ellipse cx="679.6" cy="211.5" rx="11.5" ry="5.8" fill="#83b748" opacity="0.95"/><ellipse cx="680.0" cy="211.5" rx="9.2" ry="4.5" fill="#6ca538"/><ellipse cx="680.0" cy="211.5" rx="7.8" ry="3.2" fill="#5f9b31" opacity="0.85"/><ellipse cx="680.0" cy="211.5" rx="6.4" ry="1.6" fill="#3f7d24" stroke="#10260c" stroke-width="1.05"/><path d="M674.8,211.6 L677.4,211.8 L680.0,211.2 L682.6,211.8 L685.2,211.2" fill="none" stroke="#0f2a0c" stroke-width="0.89" stroke-linecap="round"/></g><g transform="rotate(1.0 795.5 208.5)"><path d="M775.9,208.8 C783.1,196.5 806.5,196.7 816.7,208.7 C806.5,220.7 783.1,220.7 775.9,208.8 Z" fill="#83b748" opacity="0.95"/><ellipse cx="795.5" cy="208.5" rx="16.0" ry="7.3" fill="#6ca538"/><ellipse cx="795.5" cy="208.5" rx="13.6" ry="5.2" fill="#5f9b31" opacity="0.85"/><ellipse cx="795.5" cy="208.5" rx="11.2" ry="2.5" fill="#3f7d24" stroke="#10260c" stroke-width="1.25"/><path d="M786.5,208.6 L789.1,208.8 L791.7,208.2 L794.2,208.8 L796.8,208.2 L799.3,208.8 L801.9,208.2 L804.5,208.8" fill="none" stroke="#0f2a0c" stroke-width="1.06" stroke-linecap="round"/></g><g transform="rotate(2.3 561.0 225.0)"><ellipse cx="560.9" cy="224.9" rx="9.0" ry="5.0" fill="#83b748" opacity="0.95"/><ellipse cx="561.0" cy="225.0" rx="7.2" ry="3.9" fill="#6ca538"/><ellipse cx="561.0" cy="225.0" rx="6.1" ry="2.8" fill="#5f9b31" opacity="0.85"/><ellipse cx="561.0" cy="225.0" rx="5.0" ry="1.4" fill="#3f7d24" stroke="#10260c" stroke-width="1.05"/><path d="M557.0,225.1 L559.7,225.3 L562.3,224.7 L565.0,225.3" fill="none" stroke="#0f2a0c" stroke-width="0.89" stroke-linecap="round"/></g><g transform="rotate(-0.9 638.0 232.5)"><ellipse cx="638.4" cy="232.7" rx="9.0" ry="5.0" fill="#83b748" opacity="0.95"/><ellipse cx="638.0" cy="232.5" rx="7.2" ry="3.9" fill="#6ca538"/><ellipse cx="638.0" cy="232.5" rx="6.1" ry="2.8" fill="#5f9b31" opacity="0.85"/><ellipse cx="638.0" cy="232.5" rx="5.0" ry="1.4" fill="#3f7d24" stroke="#10260c" stroke-width="1.05"/><path d="M634.0,232.6 L636.7,232.8 L639.3,232.2 L642.0,232.8" fill="none" stroke="#0f2a0c" stroke-width="0.89" stroke-linecap="round"/></g><g transform="rotate(3.8 744.5 228.0)"><ellipse cx="744.8" cy="227.9" rx="12.5" ry="6.2" fill="#83b748" opacity="0.95"/><ellipse cx="744.5" cy="228.0" rx="10.0" ry="4.8" fill="#6ca538"/><ellipse cx="744.5" cy="228.0" rx="8.5" ry="3.4" fill="#5f9b31" opacity="0.85"/><ellipse cx="744.5" cy="228.0" rx="7.0" ry="1.7" fill="#3f7d24" stroke="#10260c" stroke-width="1.05"/><path d="M738.9,228.1 L741.7,228.3 L744.5,227.7 L747.3,228.3 L750.1,227.7" fill="none" stroke="#0f2a0c" stroke-width="0.89" stroke-linecap="round"/></g><g transform="rotate(1.8 778.0 236.0)"><ellipse cx="778.1" cy="236.2" rx="17.5" ry="7.8" fill="#83b748" opacity="0.95"/><ellipse cx="778.0" cy="236.0" rx="14.0" ry="6.1" fill="#6ca538"/><ellipse cx="778.0" cy="236.0" rx="11.9" ry="4.3" fill="#5f9b31" opacity="0.85"/><ellipse cx="778.0" cy="236.0" rx="9.8" ry="2.1" fill="#3f7d24" stroke="#10260c" stroke-width="1.25"/><path d="M770.2,236.1 L772.8,236.3 L775.4,235.7 L778.0,236.3 L780.6,235.7 L783.2,236.3 L785.8,235.7" fill="none" stroke="#0f2a0c" stroke-width="1.06" stroke-linecap="round"/></g><g transform="rotate(-1.9 848.0 226.0)"><ellipse cx="848.1" cy="226.0" rx="11.5" ry="6.6" fill="#83b748" opacity="0.95"/><ellipse cx="848.0" cy="226.0" rx="9.2" ry="5.1" fill="#6ca538"/><ellipse cx="848.0" cy="226.0" rx="7.8" ry="3.6" fill="#5f9b31" opacity="0.85"/><ellipse cx="848.0" cy="226.0" rx="6.4" ry="1.8" fill="#3f7d24" stroke="#10260c" stroke-width="1.05"/><path d="M842.8,226.1 L845.4,226.3 L848.0,225.7 L850.6,226.3 L853.2,225.7" fill="none" stroke="#0f2a0c" stroke-width="0.89" stroke-linecap="round"/></g><g transform="rotate(-0.5 887.0 221.5)"><ellipse cx="887.0" cy="222.0" rx="10.0" ry="4.8" fill="#83b748" opacity="0.95"/><ellipse cx="887.0" cy="221.5" rx="8.0" ry="3.7" fill="#6ca538"/><ellipse cx="887.0" cy="221.5" rx="6.8" ry="2.6" fill="#5f9b31" opacity="0.85"/><ellipse cx="887.0" cy="221.5" rx="5.6" ry="1.3" fill="#3f7d24" stroke="#10260c" stroke-width="1.05"/><path d="M882.5,221.6 L885.5,221.8 L888.5,221.2 L891.5,221.8" fill="none" stroke="#0f2a0c" stroke-width="0.89" stroke-linecap="round"/></g><g transform="rotate(3.0 887.0 233.5)"><ellipse cx="886.8" cy="233.7" rx="13.0" ry="6.8" fill="#83b748" opacity="0.95"/><ellipse cx="887.0" cy="233.5" rx="10.4" ry="5.3" fill="#6ca538"/><ellipse cx="887.0" cy="233.5" rx="8.8" ry="3.7" fill="#5f9b31" opacity="0.85"/><ellipse cx="887.0" cy="233.5" rx="7.3" ry="1.8" fill="#3f7d24" stroke="#10260c" stroke-width="1.05"/><path d="M881.2,233.6 L884.1,233.8 L887.0,233.2 L889.9,233.8 L892.8,233.2" fill="none" stroke="#0f2a0c" stroke-width="0.89" stroke-linecap="round"/></g><g transform="rotate(-2.6 919.5 229.0)"><ellipse cx="919.8" cy="229.4" rx="6.2" ry="4.2" fill="#83b748" opacity="0.95"/><ellipse cx="919.5" cy="229.0" rx="5.0" ry="3.3" fill="#6ca538"/><ellipse cx="919.5" cy="229.0" rx="4.2" ry="2.3" fill="#5f9b31" opacity="0.85"/><ellipse cx="919.5" cy="229.0" rx="3.5" ry="1.2" fill="#3f7d24" stroke="#10260c" stroke-width="0.85"/><path d="M916.7,229.1 L919.5,229.3 L922.3,228.7" fill="none" stroke="#0f2a0c" stroke-width="0.72" stroke-linecap="round"/></g><g transform="rotate(-1.6 664.5 254.0)"><ellipse cx="664.6" cy="254.3" rx="17.5" ry="8.2" fill="#83b748" opacity="0.95"/><ellipse cx="664.5" cy="254.0" rx="14.0" ry="6.4" fill="#6ca538"/><ellipse cx="664.5" cy="254.0" rx="11.9" ry="4.5" fill="#5f9b31" opacity="0.85"/><ellipse cx="664.5" cy="254.0" rx="9.8" ry="2.2" fill="#3f7d24" stroke="#10260c" stroke-width="1.25"/><path d="M656.7,254.1 L659.3,254.3 L661.9,253.7 L664.5,254.3 L667.1,253.7 L669.7,254.3 L672.3,253.7" fill="none" stroke="#0f2a0c" stroke-width="1.06" stroke-linecap="round"/></g><g transform="rotate(-2.8 708.5 251.0)"><ellipse cx="708.7" cy="251.2" rx="16.5" ry="7.6" fill="#83b748" opacity="0.95"/><ellipse cx="708.5" cy="251.0" rx="13.2" ry="5.9" fill="#6ca538"/><ellipse cx="708.5" cy="251.0" rx="11.2" ry="4.2" fill="#5f9b31" opacity="0.85"/><ellipse cx="708.5" cy="251.0" rx="9.2" ry="2.1" fill="#3f7d24" stroke="#10260c" stroke-width="1.25"/><path d="M701.1,251.1 L704.1,251.3 L707.0,250.7 L710.0,251.3 L712.9,250.7 L715.9,251.3" fill="none" stroke="#0f2a0c" stroke-width="1.06" stroke-linecap="round"/></g><g transform="rotate(2.2 819.0 250.5)"><ellipse cx="819.0" cy="250.4" rx="11.0" ry="5.6" fill="#83b748" opacity="0.95"/><ellipse cx="819.0" cy="250.5" rx="8.8" ry="4.4" fill="#6ca538"/><ellipse cx="819.0" cy="250.5" rx="7.5" ry="3.1" fill="#5f9b31" opacity="0.85"/><ellipse cx="819.0" cy="250.5" rx="6.2" ry="1.5" fill="#3f7d24" stroke="#10260c" stroke-width="1.05"/><path d="M814.1,250.6 L817.4,250.8 L820.6,250.2 L823.9,250.8" fill="none" stroke="#0f2a0c" stroke-width="0.89" stroke-linecap="round"/></g><g transform="rotate(-1.4 855.0 244.5)"><ellipse cx="854.6" cy="245.0" rx="7.4" ry="5.4" fill="#83b748" opacity="0.95"/><ellipse cx="855.0" cy="244.5" rx="5.9" ry="4.2" fill="#6ca538"/><ellipse cx="855.0" cy="244.5" rx="5.0" ry="3.0" fill="#5f9b31" opacity="0.85"/><ellipse cx="855.0" cy="244.5" rx="4.1" ry="1.5" fill="#3f7d24" stroke="#10260c" stroke-width="0.85"/><path d="M851.7,244.6 L855.0,244.8 L858.3,244.2" fill="none" stroke="#0f2a0c" stroke-width="0.72" stroke-linecap="round"/></g><ellipse cx="845.0" cy="259.5" rx="5.0" ry="3.8" fill="#6e9f3b" opacity="0.95"/><ellipse cx="845.0" cy="259.5" rx="3.0" ry="2.3" fill="#5a8d30"/><ellipse cx="889.0" cy="257.0" rx="6.2" ry="3.6" fill="#8fbb52" opacity="0.9" transform="rotate(12 889.0 257.0)"/><g transform="rotate(2.7 568.0 263.5)"><ellipse cx="567.8" cy="263.4" rx="16.5" ry="8.6" fill="#83b748" opacity="0.95"/><ellipse cx="568.0" cy="263.5" rx="13.2" ry="6.7" fill="#6ca538"/><ellipse cx="568.0" cy="263.5" rx="11.2" ry="4.7" fill="#5f9b31" opacity="0.85"/><ellipse cx="568.0" cy="263.5" rx="9.2" ry="2.3" fill="#3f7d24" stroke="#10260c" stroke-width="1.25"/><path d="M560.6,263.6 L563.6,263.9 L566.5,263.1 L569.5,263.9 L572.4,263.1 L575.4,263.9" fill="none" stroke="#0f2a0c" stroke-width="1.06" stroke-linecap="round"/></g><ellipse cx="600.5" cy="260.0" rx="4.6" ry="4.2" fill="#6e9f3b" opacity="0.95"/><ellipse cx="600.5" cy="260.0" rx="2.8" ry="2.5" fill="#5a8d30"/><g transform="rotate(3.0 621.0 270.5)"><ellipse cx="621.4" cy="270.5" rx="16.0" ry="7.6" fill="#83b748" opacity="0.95"/><ellipse cx="621.0" cy="270.5" rx="12.8" ry="5.9" fill="#6ca538"/><ellipse cx="621.0" cy="270.5" rx="10.9" ry="4.2" fill="#5f9b31" opacity="0.85"/><ellipse cx="621.0" cy="270.5" rx="9.0" ry="2.1" fill="#3f7d24" stroke="#10260c" stroke-width="1.25"/><path d="M613.8,270.6 L616.7,270.9 L619.6,270.1 L622.4,270.9 L625.3,270.1 L628.2,270.9" fill="none" stroke="#0f2a0c" stroke-width="1.06" stroke-linecap="round"/></g><ellipse cx="691.0" cy="269.5" rx="4.8" ry="3.4" fill="#6e9f3b" opacity="0.95"/><ellipse cx="691.0" cy="269.5" rx="2.9" ry="2.0" fill="#5a8d30"/><g transform="rotate(-0.1 747.0 268.5)"><path d="M728.4,268.8 C735.2,257.5 757.5,257.7 767.1,268.7 C757.5,279.7 735.2,279.7 728.4,268.8 Z" fill="#83b748" opacity="0.95"/><ellipse cx="747.0" cy="268.5" rx="15.2" ry="6.7" fill="#6ca538"/><ellipse cx="747.0" cy="268.5" rx="12.9" ry="4.7" fill="#5f9b31" opacity="0.85"/><ellipse cx="747.0" cy="268.5" rx="10.6" ry="2.3" fill="#3f7d24" stroke="#10260c" stroke-width="1.25"/><path d="M738.5,268.6 L741.3,268.9 L744.2,268.1 L747.0,268.9 L749.8,268.1 L752.7,268.9 L755.5,268.1" fill="none" stroke="#0f2a0c" stroke-width="1.06" stroke-linecap="round"/></g><g transform="rotate(-3.4 785.5 279.0)"><ellipse cx="785.7" cy="279.4" rx="5.4" ry="4.0" fill="#83b748" opacity="0.95"/><ellipse cx="785.5" cy="279.0" rx="4.3" ry="3.1" fill="#6ca538"/><ellipse cx="785.5" cy="279.0" rx="3.7" ry="2.2" fill="#5f9b31" opacity="0.85"/><ellipse cx="785.5" cy="279.0" rx="3.0" ry="1.2" fill="#3f7d24" stroke="#10260c" stroke-width="0.85"/><path d="M783.1,279.1 L785.5,279.4 L787.9,278.6" fill="none" stroke="#0f2a0c" stroke-width="0.72" stroke-linecap="round"/></g><g transform="rotate(-3.0 818.5 276.0)"><ellipse cx="818.5" cy="276.2" rx="15.0" ry="7.2" fill="#83b748" opacity="0.95"/><ellipse cx="818.5" cy="276.0" rx="12.0" ry="5.6" fill="#6ca538"/><ellipse cx="818.5" cy="276.0" rx="10.2" ry="4.0" fill="#5f9b31" opacity="0.85"/><ellipse cx="818.5" cy="276.0" rx="8.4" ry="1.9" fill="#3f7d24" stroke="#10260c" stroke-width="1.25"/><path d="M811.8,276.1 L814.5,276.4 L817.2,275.6 L819.8,276.4 L822.5,275.6 L825.2,276.4" fill="none" stroke="#0f2a0c" stroke-width="1.06" stroke-linecap="round"/></g><g transform="rotate(-1.9 848.0 279.5)"><ellipse cx="848.3" cy="279.7" rx="4.8" ry="4.2" fill="#83b748" opacity="0.95"/><ellipse cx="848.0" cy="279.5" rx="3.8" ry="3.3" fill="#6ca538"/><ellipse cx="848.0" cy="279.5" rx="3.3" ry="2.3" fill="#5f9b31" opacity="0.85"/><ellipse cx="848.0" cy="279.5" rx="2.7" ry="1.2" fill="#3f7d24" stroke="#10260c" stroke-width="0.85"/><path d="M845.8,279.6 L848.0,279.9 L850.2,279.1" fill="none" stroke="#0f2a0c" stroke-width="0.72" stroke-linecap="round"/></g><g transform="rotate(-2.3 879.5 278.5)"><ellipse cx="879.5" cy="278.8" rx="15.0" ry="7.8" fill="#83b748" opacity="0.95"/><ellipse cx="879.5" cy="278.5" rx="12.0" ry="6.1" fill="#6ca538"/><ellipse cx="879.5" cy="278.5" rx="10.2" ry="4.3" fill="#5f9b31" opacity="0.85"/><ellipse cx="879.5" cy="278.5" rx="8.4" ry="2.1" fill="#3f7d24" stroke="#10260c" stroke-width="1.25"/><path d="M872.8,278.6 L875.5,278.9 L878.2,278.1 L880.8,278.9 L883.5,278.1 L886.2,278.9" fill="none" stroke="#0f2a0c" stroke-width="1.06" stroke-linecap="round"/></g><g transform="rotate(-2.4 920.5 264.0)"><ellipse cx="920.3" cy="264.5" rx="9.4" ry="5.2" fill="#83b748" opacity="0.95"/><ellipse cx="920.5" cy="264.0" rx="7.5" ry="4.1" fill="#6ca538"/><ellipse cx="920.5" cy="264.0" rx="6.4" ry="2.9" fill="#5f9b31" opacity="0.85"/><ellipse cx="920.5" cy="264.0" rx="5.3" ry="1.4" fill="#3f7d24" stroke="#10260c" stroke-width="1.05"/><path d="M916.3,264.1 L919.1,264.4 L921.9,263.6 L924.7,264.4" fill="none" stroke="#0f2a0c" stroke-width="0.89" stroke-linecap="round"/></g><g transform="rotate(1.2 551.0 303.5)"><ellipse cx="551.0" cy="303.7" rx="10.0" ry="6.0" fill="#83b748" opacity="0.95"/><ellipse cx="551.0" cy="303.5" rx="8.0" ry="4.7" fill="#6ca538"/><ellipse cx="551.0" cy="303.5" rx="6.8" ry="3.3" fill="#5f9b31" opacity="0.85"/><ellipse cx="551.0" cy="303.5" rx="5.6" ry="1.6" fill="#3f7d24" stroke="#10260c" stroke-width="1.05"/><path d="M546.5,303.6 L549.5,303.9 L552.5,303.1 L555.5,303.9" fill="none" stroke="#0f2a0c" stroke-width="0.89" stroke-linecap="round"/></g><g transform="rotate(-3.0 586.0 296.5)"><ellipse cx="585.8" cy="296.6" rx="15.0" ry="8.0" fill="#83b748" opacity="0.95"/><ellipse cx="586.0" cy="296.5" rx="12.0" ry="6.2" fill="#6ca538"/><ellipse cx="586.0" cy="296.5" rx="10.2" ry="4.4" fill="#5f9b31" opacity="0.85"/><ellipse cx="586.0" cy="296.5" rx="8.4" ry="2.2" fill="#3f7d24" stroke="#10260c" stroke-width="1.25"/><path d="M579.3,296.6 L582.0,296.9 L584.7,296.1 L587.3,296.9 L590.0,296.1 L592.7,296.9" fill="none" stroke="#0f2a0c" stroke-width="1.06" stroke-linecap="round"/></g><g transform="rotate(0.7 618.0 293.0)"><ellipse cx="617.8" cy="293.0" rx="6.4" ry="4.4" fill="#83b748" opacity="0.95"/><ellipse cx="618.0" cy="293.0" rx="5.1" ry="3.4" fill="#6ca538"/><ellipse cx="618.0" cy="293.0" rx="4.4" ry="2.4" fill="#5f9b31" opacity="0.85"/><ellipse cx="618.0" cy="293.0" rx="3.6" ry="1.2" fill="#3f7d24" stroke="#10260c" stroke-width="0.85"/><path d="M615.1,293.1 L618.0,293.4 L620.9,292.6" fill="none" stroke="#0f2a0c" stroke-width="0.72" stroke-linecap="round"/></g><g transform="rotate(-3.4 652.0 290.0)"><ellipse cx="652.1" cy="290.0" rx="6.8" ry="4.8" fill="#83b748" opacity="0.95"/><ellipse cx="652.0" cy="290.0" rx="5.4" ry="3.7" fill="#6ca538"/><ellipse cx="652.0" cy="290.0" rx="4.6" ry="2.6" fill="#5f9b31" opacity="0.85"/><ellipse cx="652.0" cy="290.0" rx="3.8" ry="1.3" fill="#3f7d24" stroke="#10260c" stroke-width="0.85"/><path d="M649.0,290.1 L652.0,290.4 L655.0,289.6" fill="none" stroke="#0f2a0c" stroke-width="0.72" stroke-linecap="round"/></g><g transform="rotate(3.2 691.0 290.0)"><path d="M671.9,290.3 C678.9,277.7 701.7,277.9 711.7,290.2 C701.7,302.5 678.9,302.5 671.9,290.3 Z" fill="#83b748" opacity="0.95"/><ellipse cx="691.0" cy="290.0" rx="15.6" ry="7.5" fill="#6ca538"/><ellipse cx="691.0" cy="290.0" rx="13.3" ry="5.3" fill="#5f9b31" opacity="0.85"/><ellipse cx="691.0" cy="290.0" rx="10.9" ry="2.6" fill="#3f7d24" stroke="#10260c" stroke-width="1.25"/><path d="M682.3,290.1 L685.2,290.4 L688.1,289.6 L691.0,290.4 L693.9,289.6 L696.8,290.4 L699.7,289.6" fill="none" stroke="#0f2a0c" stroke-width="1.06" stroke-linecap="round"/></g><g transform="rotate(2.9 732.0 298.0)"><ellipse cx="731.7" cy="298.0" rx="9.0" ry="5.0" fill="#83b748" opacity="0.95"/><ellipse cx="732.0" cy="298.0" rx="7.2" ry="3.9" fill="#6ca538"/><ellipse cx="732.0" cy="298.0" rx="6.1" ry="2.8" fill="#5f9b31" opacity="0.85"/><ellipse cx="732.0" cy="298.0" rx="5.0" ry="1.4" fill="#3f7d24" stroke="#10260c" stroke-width="1.05"/><path d="M728.0,298.1 L730.7,298.4 L733.3,297.6 L736.0,298.4" fill="none" stroke="#0f2a0c" stroke-width="0.89" stroke-linecap="round"/></g><g transform="rotate(1.4 759.5 293.0)"><ellipse cx="759.3" cy="293.0" rx="6.4" ry="4.6" fill="#83b748" opacity="0.95"/><ellipse cx="759.5" cy="293.0" rx="5.1" ry="3.6" fill="#6ca538"/><ellipse cx="759.5" cy="293.0" rx="4.4" ry="2.5" fill="#5f9b31" opacity="0.85"/><ellipse cx="759.5" cy="293.0" rx="3.6" ry="1.2" fill="#3f7d24" stroke="#10260c" stroke-width="0.85"/><path d="M756.6,293.1 L759.5,293.4 L762.4,292.6" fill="none" stroke="#0f2a0c" stroke-width="0.72" stroke-linecap="round"/></g><ellipse cx="824.0" cy="298.5" rx="5.4" ry="3.4" fill="#8fbb52" opacity="0.9" transform="rotate(13 824.0 298.5)"/><g transform="rotate(0.6 786.0 307.0)"><ellipse cx="786.0" cy="307.4" rx="16.5" ry="8.0" fill="#83b748" opacity="0.95"/><ellipse cx="786.0" cy="307.0" rx="13.2" ry="6.2" fill="#6ca538"/><ellipse cx="786.0" cy="307.0" rx="11.2" ry="4.4" fill="#5f9b31" opacity="0.85"/><ellipse cx="786.0" cy="307.0" rx="9.2" ry="2.2" fill="#3f7d24" stroke="#10260c" stroke-width="1.25"/><path d="M778.6,307.1 L781.6,307.4 L784.5,306.6 L787.5,307.4 L790.4,306.6 L793.4,307.4" fill="none" stroke="#0f2a0c" stroke-width="1.06" stroke-linecap="round"/></g><g transform="rotate(2.5 879.5 307.0)"><ellipse cx="879.3" cy="307.0" rx="15.0" ry="7.6" fill="#83b748" opacity="0.95"/><ellipse cx="879.5" cy="307.0" rx="12.0" ry="5.9" fill="#6ca538"/><ellipse cx="879.5" cy="307.0" rx="10.2" ry="4.2" fill="#5f9b31" opacity="0.85"/><ellipse cx="879.5" cy="307.0" rx="8.4" ry="2.1" fill="#3f7d24" stroke="#10260c" stroke-width="1.25"/><path d="M872.8,307.1 L875.5,307.4 L878.2,306.6 L880.8,307.4 L883.5,306.6 L886.2,307.4" fill="none" stroke="#0f2a0c" stroke-width="1.06" stroke-linecap="round"/></g><g transform="rotate(-0.6 922.0 302.5)"><ellipse cx="921.9" cy="302.7" rx="13.5" ry="6.4" fill="#83b748" opacity="0.95"/><ellipse cx="922.0" cy="302.5" rx="10.8" ry="5.0" fill="#6ca538"/><ellipse cx="922.0" cy="302.5" rx="9.2" ry="3.5" fill="#5f9b31" opacity="0.85"/><ellipse cx="922.0" cy="302.5" rx="7.6" ry="1.7" fill="#3f7d24" stroke="#10260c" stroke-width="1.05"/><path d="M916.0,302.6 L919.0,302.9 L922.0,302.1 L925.0,302.9 L928.0,302.1" fill="none" stroke="#0f2a0c" stroke-width="0.89" stroke-linecap="round"/></g><g transform="rotate(1.8 634.5 307.0)"><ellipse cx="634.6" cy="307.5" rx="7.0" ry="4.4" fill="#83b748" opacity="0.95"/><ellipse cx="634.5" cy="307.0" rx="5.6" ry="3.4" fill="#6ca538"/><ellipse cx="634.5" cy="307.0" rx="4.8" ry="2.4" fill="#5f9b31" opacity="0.85"/><ellipse cx="634.5" cy="307.0" rx="3.9" ry="1.2" fill="#3f7d24" stroke="#10260c" stroke-width="0.85"/><path d="M631.4,307.1 L634.5,307.4 L637.6,306.6" fill="none" stroke="#0f2a0c" stroke-width="0.72" stroke-linecap="round"/></g><g transform="rotate(-3.2 663.0 316.5)"><ellipse cx="662.9" cy="316.6" rx="11.5" ry="6.4" fill="#83b748" opacity="0.95"/><ellipse cx="663.0" cy="316.5" rx="9.2" ry="5.0" fill="#6ca538"/><ellipse cx="663.0" cy="316.5" rx="7.8" ry="3.5" fill="#5f9b31" opacity="0.85"/><ellipse cx="663.0" cy="316.5" rx="6.4" ry="1.7" fill="#3f7d24" stroke="#10260c" stroke-width="1.05"/><path d="M657.8,316.6 L660.4,316.9 L663.0,316.1 L665.6,316.9 L668.2,316.1" fill="none" stroke="#0f2a0c" stroke-width="0.89" stroke-linecap="round"/></g><g transform="rotate(2.9 702.0 324.5)"><ellipse cx="701.8" cy="324.5" rx="16.0" ry="8.0" fill="#83b748" opacity="0.95"/><ellipse cx="702.0" cy="324.5" rx="12.8" ry="6.2" fill="#6ca538"/><ellipse cx="702.0" cy="324.5" rx="10.9" ry="4.4" fill="#5f9b31" opacity="0.85"/><ellipse cx="702.0" cy="324.5" rx="9.0" ry="2.2" fill="#3f7d24" stroke="#10260c" stroke-width="1.25"/><path d="M694.8,324.6 L697.7,324.9 L700.6,324.1 L703.4,324.9 L706.3,324.1 L709.2,324.9" fill="none" stroke="#0f2a0c" stroke-width="1.06" stroke-linecap="round"/></g><g transform="rotate(-0.4 754.0 321.0)"><ellipse cx="753.9" cy="321.1" rx="12.5" ry="6.6" fill="#83b748" opacity="0.95"/><ellipse cx="754.0" cy="321.0" rx="10.0" ry="5.1" fill="#6ca538"/><ellipse cx="754.0" cy="321.0" rx="8.5" ry="3.6" fill="#5f9b31" opacity="0.85"/><ellipse cx="754.0" cy="321.0" rx="7.0" ry="1.8" fill="#3f7d24" stroke="#10260c" stroke-width="1.05"/><path d="M748.4,321.1 L751.2,321.4 L754.0,320.6 L756.8,321.4 L759.6,320.6" fill="none" stroke="#0f2a0c" stroke-width="0.89" stroke-linecap="round"/></g><ellipse cx="814.0" cy="315.5" rx="4.2" ry="4.2" fill="#6e9f3b" opacity="0.95"/><ellipse cx="814.0" cy="315.5" rx="2.5" ry="2.5" fill="#5a8d30"/><g transform="rotate(-2.0 835.5 317.0)"><ellipse cx="835.8" cy="317.2" rx="16.0" ry="8.4" fill="#83b748" opacity="0.95"/><ellipse cx="835.5" cy="317.0" rx="12.8" ry="6.6" fill="#6ca538"/><ellipse cx="835.5" cy="317.0" rx="10.9" ry="4.6" fill="#5f9b31" opacity="0.85"/><ellipse cx="835.5" cy="317.0" rx="9.0" ry="2.3" fill="#3f7d24" stroke="#10260c" stroke-width="1.25"/><path d="M828.3,317.1 L831.2,317.4 L834.1,316.6 L836.9,317.4 L839.8,316.6 L842.7,317.4" fill="none" stroke="#0f2a0c" stroke-width="1.06" stroke-linecap="round"/></g><g transform="rotate(2.9 619.0 328.5)"><ellipse cx="619.0" cy="328.4" rx="16.0" ry="7.8" fill="#83b748" opacity="0.95"/><ellipse cx="619.0" cy="328.5" rx="12.8" ry="6.1" fill="#6ca538"/><ellipse cx="619.0" cy="328.5" rx="10.9" ry="4.3" fill="#5f9b31" opacity="0.85"/><ellipse cx="619.0" cy="328.5" rx="9.0" ry="2.1" fill="#3f7d24" stroke="#10260c" stroke-width="1.25"/><path d="M611.8,328.6 L614.7,328.9 L617.6,328.1 L620.4,328.9 L623.3,328.1 L626.2,328.9" fill="none" stroke="#0f2a0c" stroke-width="1.06" stroke-linecap="round"/></g><ellipse cx="789.5" cy="340.5" rx="6.2" ry="4.2" fill="#6e9f3b" opacity="0.95"/><ellipse cx="789.5" cy="340.5" rx="3.7" ry="2.5" fill="#5a8d30"/><ellipse cx="801.5" cy="341.0" rx="4.6" ry="3.8" fill="#6e9f3b" opacity="0.95"/><ellipse cx="801.5" cy="341.0" rx="2.8" ry="2.3" fill="#5a8d30"/><g transform="rotate(4.0 884.5 341.0)"><ellipse cx="884.8" cy="341.5" rx="8.0" ry="5.2" fill="#83b748" opacity="0.95"/><ellipse cx="884.5" cy="341.0" rx="6.4" ry="4.1" fill="#6ca538"/><ellipse cx="884.5" cy="341.0" rx="5.4" ry="2.9" fill="#5f9b31" opacity="0.85"/><ellipse cx="884.5" cy="341.0" rx="4.5" ry="1.4" fill="#3f7d24" stroke="#10260c" stroke-width="0.85"/><path d="M880.9,341.1 L884.5,341.4 L888.1,340.6" fill="none" stroke="#0f2a0c" stroke-width="0.72" stroke-linecap="round"/></g><g transform="rotate(3.4 919.5 340.0)"><ellipse cx="919.8" cy="340.0" rx="7.0" ry="4.8" fill="#83b748" opacity="0.95"/><ellipse cx="919.5" cy="340.0" rx="5.6" ry="3.7" fill="#6ca538"/><ellipse cx="919.5" cy="340.0" rx="4.8" ry="2.6" fill="#5f9b31" opacity="0.85"/><ellipse cx="919.5" cy="340.0" rx="3.9" ry="1.3" fill="#3f7d24" stroke="#10260c" stroke-width="0.85"/><path d="M916.4,340.1 L919.5,340.4 L922.6,339.6" fill="none" stroke="#0f2a0c" stroke-width="0.72" stroke-linecap="round"/></g><ellipse cx="872.0" cy="336.5" rx="4.6" ry="3.4" fill="#8fbb52" opacity="0.9" transform="rotate(2 872.0 336.5)"/><ellipse cx="837.0" cy="342.0" rx="10.0" ry="6.2" fill="#8fbb52" opacity="0.9" transform="rotate(-5 837.0 342.0)"/></g>
</g>
<rect x="534.4" y="126.7" width="403.2" height="225.1" rx="8" ry="8" fill="none" stroke="#1d2016" stroke-width="2"/>
<g fill="none" stroke="#1b1f2e" stroke-width="2" stroke-linejoin="round" stroke-linecap="round"><path d="M322.9,596 L322.9,618.2"/><path d="M322.9,618.2 L202.3,641.2 L174,641.4 Q169,641.6 168.9,646.6 L168.9,696"/><path d="M322.9,618.2 L396,639.2 L396,696"/><path d="M396,639.2 L630.2,639.2"/><path d="M707.4,596 L707.4,617.1"/><path d="M707.4,617.1 L630.2,639.2 L630.2,696"/><path d="M707.4,617.1 L811.3,636.9 L846,636.9 Q852,637 852.1,643 L852.1,696"/></g><path d="M322.9,587.6 L318.6,597.6 Q322.9,596.0 327.2,597.6 Z" fill="#1b1f2e"/><path d="M707.4,586.8 L703.1,596.8 Q707.4,595.2 711.7,596.8 Z" fill="#1b1f2e"/><path d="M168.9,703.2 L164.6,694.8 Q168.9,696.4 173.2,694.8 Z" fill="#1b1f2e"/><path d="M396.0,703.2 L391.7,694.8 Q396.0,696.4 400.3,694.8 Z" fill="#1b1f2e"/><path d="M630.2,703.2 L625.9,694.8 Q630.2,696.4 634.5,694.8 Z" fill="#1b1f2e"/><path d="M852.1,703.2 L847.8,694.8 Q852.1,696.4 856.4,694.8 Z" fill="#1b1f2e"/>
<g transform="translate(0.0,0.0)"><path d="M321.0,584.0C318.7,579.0 312.2,562.2 307.0,554.0C301.8,545.8 296.7,540.2 289.5,534.5C282.3,528.8 273.1,520.9 264.0,519.8C254.9,518.6 240.0,526.3 235.2,527.6C240.0,530.0 254.3,536.6 264.0,542.3C273.7,548.0 284.9,556.1 293.4,561.8C301.9,567.5 310.0,572.4 314.8,576.4C319.6,580.4 320.8,584.0 322.0,585.5Z" fill="url(#lfA)" stroke="#16210c" stroke-width="1.9" stroke-linejoin="round"/><path d="M321.5,584.8C319.7,581.5 315.9,571.3 310.9,565.2C305.9,559.1 299.3,553.8 291.4,548.1C283.6,542.5 273.4,534.5 264.0,531.0C254.6,527.6 240.0,528.2 235.2,527.6" fill="none" stroke="#b4d966" stroke-width="1.1" opacity="0.75" stroke-linecap="round"/><path d="M321.5,584.8C319.7,581.5 315.9,571.3 310.9,565.2C305.9,559.1 299.3,553.8 291.4,548.1C283.6,542.5 273.4,534.5 264.0,531.0C254.6,527.6 240.0,528.2 235.2,527.6C240.0,530.0 254.3,536.6 264.0,542.3C273.7,548.0 284.9,556.1 293.4,561.8C301.9,567.5 310.0,572.4 314.8,576.4C319.6,580.4 320.8,584.0 322.0,585.5Z" fill="#2f5f18" opacity="0.13"/><path d="M325.0,584.0C327.2,580.3 332.2,570.0 338.3,561.8C344.4,553.5 352.9,541.7 361.7,534.5C370.5,527.3 382.1,521.0 391.0,518.8C399.9,516.6 411.3,520.8 415.4,521.2C411.3,523.7 399.9,530.3 391.0,536.4C382.1,542.5 371.1,551.2 361.7,557.9C352.3,564.6 340.6,571.8 334.4,576.4C328.2,581.0 326.1,584.0 324.5,585.5Z" fill="url(#lfA)" stroke="#16210c" stroke-width="1.9" stroke-linejoin="round"/><path d="M324.8,584.8C326.7,582.1 330.2,575.5 336.4,569.1C342.5,562.7 352.6,553.1 361.7,546.2C370.8,539.3 382.1,531.8 391.0,527.6C399.9,523.4 411.3,522.3 415.4,521.2" fill="none" stroke="#b4d966" stroke-width="1.1" opacity="0.75" stroke-linecap="round"/><path d="M324.8,584.8C326.7,582.1 330.2,575.5 336.4,569.1C342.5,562.7 352.6,553.1 361.7,546.2C370.8,539.3 382.1,531.8 391.0,527.6C399.9,523.4 411.3,522.3 415.4,521.2C411.3,523.7 399.9,530.3 391.0,536.4C382.1,542.5 371.1,551.2 361.7,557.9C352.3,564.6 340.6,571.8 334.4,576.4C328.2,581.0 326.1,584.0 324.5,585.5Z" fill="#2f5f18" opacity="0.13"/><path d="M318.5,578.0C317.2,574.0 313.8,563.2 310.9,554.0C308.0,544.8 304.4,530.7 301.2,522.7C297.9,514.7 293.0,508.9 291.4,506.1C294.3,509.2 304.4,517.7 309.0,524.7C313.6,531.7 316.6,538.9 318.8,548.1C321.1,557.3 321.9,574.7 322.5,580.0Z" fill="url(#lfC)" stroke="#16210c" stroke-width="1.9" stroke-linejoin="round"/><path d="M324.0,580.0C324.8,574.7 325.8,557.3 328.5,548.1C331.2,538.9 335.4,531.5 340.2,524.7C345.0,517.9 354.5,510.0 357.4,507.1C355.8,510.4 351.5,518.8 348.0,526.6C344.5,534.4 339.7,545.4 336.3,554.0C332.9,562.6 329.0,574.0 327.5,578.0Z" fill="url(#lfC)" stroke="#16210c" stroke-width="1.9" stroke-linejoin="round"/><path d="M293.4,476.8C294.8,479.0 299.1,484.6 302.0,490.0C304.9,495.4 307.8,500.3 310.9,509.0C314.0,517.7 318.8,530.8 320.7,542.3C322.6,553.8 322.0,572.0 322.3,578.0" fill="none" stroke="#2a4f17" stroke-width="3.4" stroke-linecap="round"/><path d="M293.4,476.8C294.8,479.0 299.1,484.6 302.0,490.0C304.9,495.4 307.8,500.3 310.9,509.0C314.0,517.7 318.8,530.8 320.7,542.3C322.6,553.8 322.0,572.0 322.3,578.0" fill="none" stroke="#5a962e" stroke-width="2.0" stroke-linecap="round"/><path d="M354.9,475.9C353.4,478.2 348.8,484.5 346.0,490.0C343.2,495.5 341.4,500.3 338.3,509.0C335.2,517.7 329.8,530.8 327.5,542.3C325.2,553.8 324.8,572.0 324.3,578.0" fill="none" stroke="#2a4f17" stroke-width="3.4" stroke-linecap="round"/><path d="M354.9,475.9C353.4,478.2 348.8,484.5 346.0,490.0C343.2,495.5 341.4,500.3 338.3,509.0C335.2,517.7 329.8,530.8 327.5,542.3C325.2,553.8 324.8,572.0 324.3,578.0" fill="none" stroke="#5a962e" stroke-width="2.0" stroke-linecap="round"/><path d="M323.4,480.0C323.4,488.3 323.3,513.0 323.3,530.0C323.3,547.0 323.2,573.3 323.2,582.0" fill="none" stroke="#2a4f17" stroke-width="5.8" stroke-linecap="round"/><path d="M323.4,480.0C323.4,488.3 323.3,513.0 323.3,530.0C323.3,547.0 323.2,573.3 323.2,582.0" fill="none" stroke="#5a962e" stroke-width="4.4" stroke-linecap="round"/><path d="M321.5,584.5C320.7,584.0 320.5,584.1 316.8,581.3C313.1,578.5 306.0,570.6 299.2,567.7C292.4,564.8 282.1,563.0 275.8,564.1C269.5,565.2 263.6,572.8 261.1,574.5C262.9,576.3 266.8,582.9 271.9,585.2C276.9,587.6 284.6,588.4 291.4,588.6C298.2,588.8 307.7,586.7 312.9,586.2C318.1,585.7 320.9,585.9 322.5,585.8Z" fill="url(#lfA)" stroke="#16210c" stroke-width="1.9" stroke-linejoin="round"/><path d="M322.0,585.1C320.8,584.9 319.3,584.9 314.9,583.8C310.4,582.6 302.1,579.7 295.3,578.2C288.5,576.6 279.6,575.3 273.9,574.7C268.2,574.0 263.2,574.5 261.1,574.5" fill="none" stroke="#b4d966" stroke-width="1.1" opacity="0.75" stroke-linecap="round"/><path d="M322.0,585.1C320.8,584.9 319.3,584.9 314.9,583.8C310.4,582.6 302.1,579.7 295.3,578.2C288.5,576.6 279.6,575.3 273.9,574.7C268.2,574.0 263.2,574.5 261.1,574.5C262.9,576.3 266.8,582.9 271.9,585.2C276.9,587.6 284.6,588.4 291.4,588.6C298.2,588.8 307.7,586.7 312.9,586.2C318.1,585.7 320.9,585.9 322.5,585.8Z" fill="#2f5f18" opacity="0.13"/><path d="M324.5,584.5C326.5,583.1 330.8,579.3 336.3,576.4C341.9,573.5 351.0,567.9 357.8,567.1C364.6,566.3 372.2,569.1 377.3,571.6C382.4,574.1 386.8,580.2 388.7,581.9C386.1,583.0 379.2,586.9 373.4,588.2C367.6,589.5 360.4,589.8 353.9,589.5C347.4,589.2 339.5,586.8 334.4,586.2C329.3,585.6 325.3,585.9 323.5,585.8Z" fill="url(#lfA)" stroke="#16210c" stroke-width="1.9" stroke-linejoin="round"/><path d="M324.0,585.1C325.9,584.5 330.0,582.4 335.4,581.3C340.7,580.2 349.2,578.5 355.9,578.3C362.5,578.1 369.9,579.3 375.4,579.9C380.8,580.5 386.5,581.6 388.7,581.9" fill="none" stroke="#b4d966" stroke-width="1.1" opacity="0.75" stroke-linecap="round"/><path d="M324.0,585.1C325.9,584.5 330.0,582.4 335.4,581.3C340.7,580.2 349.2,578.5 355.9,578.3C362.5,578.1 369.9,579.3 375.4,579.9C380.8,580.5 386.5,581.6 388.7,581.9C386.1,583.0 379.2,586.9 373.4,588.2C367.6,589.5 360.4,589.8 353.9,589.5C347.4,589.2 339.5,586.8 334.4,586.2C329.3,585.6 325.3,585.9 323.5,585.8Z" fill="#2f5f18" opacity="0.13"/><path d="M319,566 L323.2,586.5 L327.4,566 Q323,560 319,566Z" fill="#24400f" opacity="0.75"/><g transform="translate(271.2,453.3)"><g fill="#190d0a" stroke="#190d0a" stroke-width="3.4" stroke-linejoin="round"><path d="M0,0 C-1.62,-2.70 -8.77,-8.10 -9.75,-16.74 C-10.23,-23.22 -6.43,-28.62 0.00,-26.59 C6.43,-28.62 10.23,-23.22 9.75,-16.74 C8.77,-8.10 1.62,-2.70 0.00,0.00 Z" transform="rotate(85)"/><path d="M0,0 C-1.80,-3.00 -11.80,-9.00 -13.11,-18.60 C-13.77,-25.80 -8.65,-31.80 0.00,-29.55 C8.65,-31.80 13.77,-25.80 13.11,-18.60 C11.80,-9.00 1.80,-3.00 0.00,0.00 Z" transform="rotate(139)"/><path d="M0,0 C-1.89,-3.15 -12.39,-9.45 -13.77,-19.53 C-14.45,-27.09 -9.09,-33.39 0.00,-31.03 C9.09,-33.39 14.45,-27.09 13.77,-19.53 C12.39,-9.45 1.89,-3.15 0.00,0.00 Z" transform="rotate(231)"/><path d="M0,0 C-1.84,-3.06 -11.51,-9.18 -12.79,-18.97 C-13.43,-26.32 -8.44,-32.44 0.00,-30.14 C8.44,-32.44 13.43,-26.32 12.79,-18.97 C11.51,-9.18 1.84,-3.06 0.00,0.00 Z" transform="rotate(-50)"/><path d="M0,0 C-1.69,-2.82 -8.68,-8.46 -9.64,-17.48 C-10.13,-24.25 -6.37,-29.89 0.00,-27.78 C6.37,-29.89 10.13,-24.25 9.64,-17.48 C8.68,-8.46 1.69,-2.82 0.00,0.00 Z" transform="rotate(23)"/></g><g transform="rotate(85)"><path d="M0,0 C-1.62,-2.70 -8.77,-8.10 -9.75,-16.74 C-10.23,-23.22 -6.43,-28.62 0.00,-26.59 C6.43,-28.62 10.23,-23.22 9.75,-16.74 C8.77,-8.10 1.62,-2.70 0.00,0.00 Z" fill="url(#pr)" stroke="#2a0705" stroke-width="1.4"/><path d="M-1.21,-6.75 C-8.19,-12.36 -8.62,-19.00 -6.04,-23.76 C-3.90,-19.00 -4.11,-12.36 -1.21,-6.75 Z" fill="#c21a16" opacity="0.7"/><path d="M0.03,-3.24 C-4.72,-10.19 -5.70,-18.40 0.15,-24.30 C5.02,-18.40 4.54,-10.19 0.03,-3.24 Z" fill="#f0603a" opacity="0.9"/><path d="M0.23,-5.40 C-0.39,-10.03 -0.70,-15.51 1.17,-19.44 C2.73,-15.51 2.57,-10.03 0.23,-5.40 Z" fill="#f7895a" opacity="0.8"/><path d="M-0.27,-8.10 C-2.05,-13.09 -2.18,-18.99 -1.36,-23.22 C-0.68,-18.99 -0.75,-13.09 -0.27,-8.10 Z" fill="#e3301f" opacity="0.55"/></g><g transform="rotate(139)"><path d="M0,0 C-1.80,-3.00 -11.80,-9.00 -13.11,-18.60 C-13.77,-25.80 -8.65,-31.80 0.00,-29.55 C8.65,-31.80 13.77,-25.80 13.11,-18.60 C11.80,-9.00 1.80,-3.00 0.00,0.00 Z" fill="url(#pr)" stroke="#2a0705" stroke-width="1.4"/><path d="M-1.63,-7.50 C-11.01,-13.74 -11.59,-21.11 -8.13,-26.40 C-5.24,-21.11 -5.53,-13.74 -1.63,-7.50 Z" fill="#c21a16" opacity="0.7"/><path d="M-0.12,-3.60 C-7.14,-11.32 -8.45,-20.45 -0.59,-27.00 C5.97,-20.45 5.31,-11.32 -0.12,-3.60 Z" fill="#f0603a" opacity="0.9"/><path d="M0.31,-6.00 C-0.52,-11.15 -0.94,-17.23 1.57,-21.60 C3.67,-17.23 3.46,-11.15 0.31,-6.00 Z" fill="#f7895a" opacity="0.8"/><path d="M-0.37,-9.00 C-2.75,-14.54 -2.94,-21.10 -1.84,-25.80 C-0.92,-21.10 -1.01,-14.54 -0.37,-9.00 Z" fill="#e3301f" opacity="0.55"/></g><g transform="rotate(231)"><path d="M0,0 C-1.89,-3.15 -12.39,-9.45 -13.77,-19.53 C-14.45,-27.09 -9.09,-33.39 0.00,-31.03 C9.09,-33.39 14.45,-27.09 13.77,-19.53 C12.39,-9.45 1.89,-3.15 0.00,0.00 Z" fill="url(#pr)" stroke="#2a0705" stroke-width="1.4"/><path d="M1.71,-7.88 C5.51,-14.42 4.90,-22.16 8.53,-27.72 C11.56,-22.16 11.26,-14.42 1.71,-7.88 Z" fill="#c21a16" opacity="0.7"/><path d="M0.13,-3.78 C-6.23,-11.89 -7.60,-21.47 0.66,-28.35 C7.54,-21.47 6.85,-11.89 0.13,-3.78 Z" fill="#f0603a" opacity="0.9"/><path d="M-0.33,-6.30 C-3.85,-11.71 -4.29,-18.09 -1.65,-22.68 C0.55,-18.09 0.33,-11.71 -0.33,-6.30 Z" fill="#f7895a" opacity="0.8"/><path d="M0.39,-9.45 C0.96,-15.27 0.77,-22.15 1.93,-27.09 C2.89,-22.15 2.79,-15.27 0.39,-9.45 Z" fill="#e3301f" opacity="0.55"/></g><g transform="rotate(-50)"><path d="M0,0 C-1.84,-3.06 -11.51,-9.18 -12.79,-18.97 C-13.43,-26.32 -8.44,-32.44 0.00,-30.14 C8.44,-32.44 13.43,-26.32 12.79,-18.97 C11.51,-9.18 1.84,-3.06 0.00,0.00 Z" fill="url(#pr)" stroke="#2a0705" stroke-width="1.4"/><path d="M1.59,-7.65 C5.12,-14.01 4.55,-21.53 7.93,-26.93 C10.74,-21.53 10.46,-14.01 1.59,-7.65 Z" fill="#c21a16" opacity="0.7"/><path d="M0.07,-3.67 C-6.02,-11.55 -7.30,-20.86 0.37,-27.54 C6.77,-20.86 6.13,-11.55 0.07,-3.67 Z" fill="#f0603a" opacity="0.9"/><path d="M-0.31,-6.12 C-3.58,-11.37 -3.99,-17.58 -1.53,-22.03 C0.51,-17.58 0.31,-11.37 -0.31,-6.12 Z" fill="#f7895a" opacity="0.8"/><path d="M0.36,-9.18 C0.90,-14.83 0.72,-21.52 1.79,-26.32 C2.69,-21.52 2.60,-14.83 0.36,-9.18 Z" fill="#e3301f" opacity="0.55"/></g><g transform="rotate(23)"><path d="M0,0 C-1.69,-2.82 -8.68,-8.46 -9.64,-17.48 C-10.13,-24.25 -6.37,-29.89 0.00,-27.78 C6.37,-29.89 10.13,-24.25 9.64,-17.48 C8.68,-8.46 1.69,-2.82 0.00,0.00 Z" fill="url(#pr)" stroke="#2a0705" stroke-width="1.4"/><path d="M-1.20,-7.05 C-8.10,-12.91 -8.53,-19.84 -5.98,-24.82 C-3.86,-19.84 -4.07,-12.91 -1.20,-7.05 Z" fill="#c21a16" opacity="0.7"/><path d="M-0.18,-3.38 C-5.74,-10.64 -6.70,-19.22 -0.92,-25.38 C3.91,-19.22 3.42,-10.64 -0.18,-3.38 Z" fill="#f0603a" opacity="0.9"/><path d="M0.23,-5.64 C-0.39,-10.48 -0.69,-16.20 1.16,-20.30 C2.70,-16.20 2.55,-10.48 0.23,-5.64 Z" fill="#f7895a" opacity="0.8"/><path d="M-0.27,-8.46 C-2.03,-13.67 -2.16,-19.83 -1.35,-24.25 C-0.68,-19.83 -0.74,-13.67 -0.27,-8.46 Z" fill="#e3301f" opacity="0.55"/></g><circle r="16.5" fill="url(#glowR)"/><circle r="4.5" fill="#f0a23c" opacity="0.55"/><circle r="3.8" fill="#2f3812"/><circle r="2.6" fill="#9bb02e"/><circle r="1.2" fill="#6f8a22"/></g><g transform="translate(374.7,453.8)"><g fill="#190d0a" stroke="#190d0a" stroke-width="3.4" stroke-linejoin="round"><path d="M0,0 C-1.62,-2.70 -8.77,-8.10 -9.75,-16.74 C-10.23,-23.22 -6.43,-28.62 0.00,-26.59 C6.43,-28.62 10.23,-23.22 9.75,-16.74 C8.77,-8.10 1.62,-2.70 0.00,0.00 Z" transform="rotate(275)"/><path d="M0,0 C-1.80,-3.00 -11.80,-9.00 -13.11,-18.60 C-13.77,-25.80 -8.65,-31.80 0.00,-29.55 C8.65,-31.80 13.77,-25.80 13.11,-18.60 C11.80,-9.00 1.80,-3.00 0.00,0.00 Z" transform="rotate(219)"/><path d="M0,0 C-1.89,-3.15 -12.39,-9.45 -13.77,-19.53 C-14.45,-27.09 -9.09,-33.39 0.00,-31.03 C9.09,-33.39 14.45,-27.09 13.77,-19.53 C12.39,-9.45 1.89,-3.15 0.00,0.00 Z" transform="rotate(129)"/><path d="M0,0 C-1.84,-3.06 -11.51,-9.18 -12.79,-18.97 C-13.43,-26.32 -8.44,-32.44 0.00,-30.14 C8.44,-32.44 13.43,-26.32 12.79,-18.97 C11.51,-9.18 1.84,-3.06 0.00,0.00 Z" transform="rotate(47)"/><path d="M0,0 C-1.71,-2.85 -9.02,-8.55 -10.02,-17.67 C-10.52,-24.51 -6.61,-30.21 0.00,-28.07 C6.61,-30.21 10.52,-24.51 10.02,-17.67 C9.02,-8.55 1.71,-2.85 0.00,0.00 Z" transform="rotate(-30)"/></g><g transform="rotate(275)"><path d="M0,0 C-1.62,-2.70 -8.77,-8.10 -9.75,-16.74 C-10.23,-23.22 -6.43,-28.62 0.00,-26.59 C6.43,-28.62 10.23,-23.22 9.75,-16.74 C8.77,-8.10 1.62,-2.70 0.00,0.00 Z" fill="url(#pr)" stroke="#2a0705" stroke-width="1.4"/><path d="M-1.21,-6.75 C-8.19,-12.36 -8.62,-19.00 -6.04,-23.76 C-3.90,-19.00 -4.11,-12.36 -1.21,-6.75 Z" fill="#c21a16" opacity="0.7"/><path d="M0.17,-3.24 C-4.02,-10.19 -5.00,-18.40 0.85,-24.30 C5.72,-18.40 5.24,-10.19 0.17,-3.24 Z" fill="#f0603a" opacity="0.9"/><path d="M0.23,-5.40 C-0.39,-10.03 -0.70,-15.51 1.17,-19.44 C2.73,-15.51 2.57,-10.03 0.23,-5.40 Z" fill="#f7895a" opacity="0.8"/><path d="M-0.27,-8.10 C-2.05,-13.09 -2.18,-18.99 -1.36,-23.22 C-0.68,-18.99 -0.75,-13.09 -0.27,-8.10 Z" fill="#e3301f" opacity="0.55"/></g><g transform="rotate(219)"><path d="M0,0 C-1.80,-3.00 -11.80,-9.00 -13.11,-18.60 C-13.77,-25.80 -8.65,-31.80 0.00,-29.55 C8.65,-31.80 13.77,-25.80 13.11,-18.60 C11.80,-9.00 1.80,-3.00 0.00,0.00 Z" fill="url(#pr)" stroke="#2a0705" stroke-width="1.4"/><path d="M1.63,-7.50 C5.24,-13.74 4.67,-21.11 8.13,-26.40 C11.01,-21.11 10.72,-13.74 1.63,-7.50 Z" fill="#c21a16" opacity="0.7"/><path d="M-0.03,-3.60 C-6.72,-11.32 -8.03,-20.45 -0.16,-27.00 C6.39,-20.45 5.74,-11.32 -0.03,-3.60 Z" fill="#f0603a" opacity="0.9"/><path d="M-0.31,-6.00 C-3.67,-11.15 -4.09,-17.23 -1.57,-21.60 C0.52,-17.23 0.31,-11.15 -0.31,-6.00 Z" fill="#f7895a" opacity="0.8"/><path d="M0.37,-9.00 C0.92,-14.54 0.73,-21.10 1.84,-25.80 C2.75,-21.10 2.66,-14.54 0.37,-9.00 Z" fill="#e3301f" opacity="0.55"/></g><g transform="rotate(129)"><path d="M0,0 C-1.89,-3.15 -12.39,-9.45 -13.77,-19.53 C-14.45,-27.09 -9.09,-33.39 0.00,-31.03 C9.09,-33.39 14.45,-27.09 13.77,-19.53 C12.39,-9.45 1.89,-3.15 0.00,0.00 Z" fill="url(#pr)" stroke="#2a0705" stroke-width="1.4"/><path d="M-1.71,-7.88 C-11.56,-14.42 -12.17,-22.16 -8.53,-27.72 C-5.51,-22.16 -5.81,-14.42 -1.71,-7.88 Z" fill="#c21a16" opacity="0.7"/><path d="M0.10,-3.78 C-6.39,-11.89 -7.77,-21.47 0.49,-28.35 C7.38,-21.47 6.69,-11.89 0.10,-3.78 Z" fill="#f0603a" opacity="0.9"/><path d="M0.33,-6.30 C-0.55,-11.71 -0.99,-18.09 1.65,-22.68 C3.85,-18.09 3.63,-11.71 0.33,-6.30 Z" fill="#f7895a" opacity="0.8"/><path d="M-0.39,-9.45 C-2.89,-15.27 -3.08,-22.15 -1.93,-27.09 C-0.96,-22.15 -1.06,-15.27 -0.39,-9.45 Z" fill="#e3301f" opacity="0.55"/></g><g transform="rotate(47)"><path d="M0,0 C-1.84,-3.06 -11.51,-9.18 -12.79,-18.97 C-13.43,-26.32 -8.44,-32.44 0.00,-30.14 C8.44,-32.44 13.43,-26.32 12.79,-18.97 C11.51,-9.18 1.84,-3.06 0.00,0.00 Z" fill="url(#pr)" stroke="#2a0705" stroke-width="1.4"/><path d="M1.59,-7.65 C5.12,-14.01 4.55,-21.53 7.93,-26.93 C10.74,-21.53 10.46,-14.01 1.59,-7.65 Z" fill="#c21a16" opacity="0.7"/><path d="M0.11,-3.67 C-5.85,-11.55 -7.13,-20.86 0.54,-27.54 C6.94,-20.86 6.30,-11.55 0.11,-3.67 Z" fill="#f0603a" opacity="0.9"/><path d="M-0.31,-6.12 C-3.58,-11.37 -3.99,-17.58 -1.53,-22.03 C0.51,-17.58 0.31,-11.37 -0.31,-6.12 Z" fill="#f7895a" opacity="0.8"/><path d="M0.36,-9.18 C0.90,-14.83 0.72,-21.52 1.79,-26.32 C2.69,-21.52 2.60,-14.83 0.36,-9.18 Z" fill="#e3301f" opacity="0.55"/></g><g transform="rotate(-30)"><path d="M0,0 C-1.71,-2.85 -9.02,-8.55 -10.02,-17.67 C-10.52,-24.51 -6.61,-30.21 0.00,-28.07 C6.61,-30.21 10.52,-24.51 10.02,-17.67 C9.02,-8.55 1.71,-2.85 0.00,0.00 Z" fill="url(#pr)" stroke="#2a0705" stroke-width="1.4"/><path d="M-1.24,-7.12 C-8.41,-13.05 -8.86,-20.05 -6.21,-25.08 C-4.01,-20.05 -4.23,-13.05 -1.24,-7.12 Z" fill="#c21a16" opacity="0.7"/><path d="M0.04,-3.42 C-4.80,-10.76 -5.80,-19.43 0.21,-25.65 C5.22,-19.43 4.72,-10.76 0.04,-3.42 Z" fill="#f0603a" opacity="0.9"/><path d="M0.24,-5.70 C-0.40,-10.59 -0.72,-16.37 1.20,-20.52 C2.80,-16.37 2.64,-10.59 0.24,-5.70 Z" fill="#f7895a" opacity="0.8"/><path d="M-0.28,-8.55 C-2.10,-13.82 -2.24,-20.04 -1.40,-24.51 C-0.70,-20.04 -0.77,-13.82 -0.28,-8.55 Z" fill="#e3301f" opacity="0.55"/></g><circle r="16.5" fill="url(#glowR)"/><circle r="4.5" fill="#f0a23c" opacity="0.55"/><circle r="3.8" fill="#2f3812"/><circle r="2.6" fill="#9bb02e"/><circle r="1.2" fill="#6f8a22"/></g><g transform="translate(322.4,447.9)"><g fill="#190d0a" stroke="#190d0a" stroke-width="3.4" stroke-linejoin="round"><path d="M0,0 C-1.97,-3.29 -10.11,-9.86 -11.24,-20.37 C-11.80,-28.25 -7.42,-34.82 0.00,-32.36 C7.42,-34.82 11.80,-28.25 11.24,-20.37 C10.11,-9.86 1.97,-3.29 0.00,0.00 Z" transform="rotate(268)"/><path d="M0,0 C-2.22,-3.71 -14.57,-11.12 -16.19,-22.97 C-17.00,-31.87 -10.69,-39.28 0.00,-36.50 C10.69,-39.28 17.00,-31.87 16.19,-22.97 C14.57,-11.12 2.22,-3.71 0.00,0.00 Z" transform="rotate(142)"/><path d="M0,0 C-2.29,-3.82 -15.02,-11.46 -16.69,-23.68 C-17.53,-32.85 -11.02,-40.49 0.00,-37.63 C11.02,-40.49 17.53,-32.85 16.69,-23.68 C15.02,-11.46 2.29,-3.82 0.00,0.00 Z" transform="rotate(208)"/><path d="M0,0 C-2.06,-3.44 -13.23,-10.31 -14.70,-21.32 C-15.43,-29.57 -9.70,-36.44 0.00,-33.86 C9.70,-36.44 15.43,-29.57 14.70,-21.32 C13.23,-10.31 2.06,-3.44 0.00,0.00 Z" transform="rotate(71)"/><path d="M0,0 C-2.15,-3.59 -13.82,-10.77 -15.35,-22.26 C-16.12,-30.88 -10.13,-38.06 0.00,-35.37 C10.13,-38.06 16.12,-30.88 15.35,-22.26 C13.82,-10.77 2.15,-3.59 0.00,0.00 Z" transform="rotate(-52)"/><path d="M0,0 C-2.27,-3.78 -11.64,-11.35 -12.93,-23.45 C-13.58,-32.52 -8.54,-40.09 0.00,-37.25 C8.54,-40.09 13.58,-32.52 12.93,-23.45 C11.64,-11.35 2.27,-3.78 0.00,0.00 Z" transform="rotate(5)"/></g><g transform="rotate(268)"><path d="M0,0 C-1.97,-3.29 -10.11,-9.86 -11.24,-20.37 C-11.80,-28.25 -7.42,-34.82 0.00,-32.36 C7.42,-34.82 11.80,-28.25 11.24,-20.37 C10.11,-9.86 1.97,-3.29 0.00,0.00 Z" fill="url(#pr)" stroke="#2a0705" stroke-width="1.4"/><path d="M-1.39,-8.21 C-9.44,-15.04 -9.93,-23.11 -6.97,-28.91 C-4.49,-23.11 -4.74,-15.04 -1.39,-8.21 Z" fill="#c21a16" opacity="0.7"/><path d="M0.21,-3.94 C-4.56,-12.40 -5.69,-22.39 1.06,-29.57 C6.67,-22.39 6.11,-12.40 0.21,-3.94 Z" fill="#f0603a" opacity="0.9"/><path d="M0.27,-6.57 C-0.45,-12.21 -0.81,-18.87 1.35,-23.65 C3.15,-18.87 2.97,-12.21 0.27,-6.57 Z" fill="#f7895a" opacity="0.8"/><path d="M-0.31,-9.86 C-2.36,-15.93 -2.52,-23.10 -1.57,-28.25 C-0.79,-23.10 -0.87,-15.93 -0.31,-9.86 Z" fill="#e3301f" opacity="0.55"/></g><g transform="rotate(142)"><path d="M0,0 C-2.22,-3.71 -14.57,-11.12 -16.19,-22.97 C-17.00,-31.87 -10.69,-39.28 0.00,-36.50 C10.69,-39.28 17.00,-31.87 16.19,-22.97 C14.57,-11.12 2.22,-3.71 0.00,0.00 Z" fill="url(#pr)" stroke="#2a0705" stroke-width="1.4"/><path d="M-2.01,-9.26 C-13.60,-16.97 -14.31,-26.07 -10.04,-32.61 C-6.48,-26.07 -6.83,-16.97 -2.01,-9.26 Z" fill="#c21a16" opacity="0.7"/><path d="M-0.28,-4.45 C-9.51,-13.98 -11.13,-25.26 -1.42,-33.35 C6.68,-25.26 5.87,-13.98 -0.28,-4.45 Z" fill="#f0603a" opacity="0.9"/><path d="M0.39,-7.41 C-0.65,-13.77 -1.17,-21.28 1.94,-26.68 C4.53,-21.28 4.27,-13.77 0.39,-7.41 Z" fill="#f7895a" opacity="0.8"/><path d="M-0.45,-11.12 C-3.40,-17.96 -3.63,-26.06 -2.27,-31.87 C-1.13,-26.06 -1.25,-17.96 -0.45,-11.12 Z" fill="#e3301f" opacity="0.55"/></g><g transform="rotate(208)"><path d="M0,0 C-2.29,-3.82 -15.02,-11.46 -16.69,-23.68 C-17.53,-32.85 -11.02,-40.49 0.00,-37.63 C11.02,-40.49 17.53,-32.85 16.69,-23.68 C15.02,-11.46 2.29,-3.82 0.00,0.00 Z" fill="url(#pr)" stroke="#2a0705" stroke-width="1.4"/><path d="M-2.07,-9.55 C-14.02,-17.49 -14.76,-26.88 -10.35,-33.62 C-6.68,-26.88 -7.04,-17.49 -2.07,-9.55 Z" fill="#c21a16" opacity="0.7"/><path d="M0.27,-4.58 C-7.00,-14.42 -8.67,-26.04 1.34,-34.38 C9.69,-26.04 8.85,-14.42 0.27,-4.58 Z" fill="#f0603a" opacity="0.9"/><path d="M0.40,-7.64 C-0.67,-14.20 -1.20,-21.94 2.00,-27.50 C4.67,-21.94 4.41,-14.20 0.40,-7.64 Z" fill="#f7895a" opacity="0.8"/><path d="M-0.47,-11.46 C-3.51,-18.52 -3.74,-26.86 -2.34,-32.85 C-1.17,-26.86 -1.29,-18.52 -0.47,-11.46 Z" fill="#e3301f" opacity="0.55"/></g><g transform="rotate(71)"><path d="M0,0 C-2.06,-3.44 -13.23,-10.31 -14.70,-21.32 C-15.43,-29.57 -9.70,-36.44 0.00,-33.86 C9.70,-36.44 15.43,-29.57 14.70,-21.32 C13.23,-10.31 2.06,-3.44 0.00,0.00 Z" fill="url(#pr)" stroke="#2a0705" stroke-width="1.4"/><path d="M1.82,-8.60 C5.88,-15.74 5.23,-24.19 9.11,-30.25 C12.35,-24.19 12.02,-15.74 1.82,-8.60 Z" fill="#c21a16" opacity="0.7"/><path d="M0.10,-4.13 C-6.84,-12.98 -8.31,-23.43 0.51,-30.94 C7.86,-23.43 7.13,-12.98 0.10,-4.13 Z" fill="#f0603a" opacity="0.9"/><path d="M-0.35,-6.88 C-4.12,-12.78 -4.59,-19.75 -1.76,-24.75 C0.59,-19.75 0.35,-12.78 -0.35,-6.88 Z" fill="#f7895a" opacity="0.8"/><path d="M0.41,-10.31 C1.03,-16.67 0.82,-24.18 2.06,-29.57 C3.09,-24.18 2.98,-16.67 0.41,-10.31 Z" fill="#e3301f" opacity="0.55"/></g><g transform="rotate(-52)"><path d="M0,0 C-2.15,-3.59 -13.82,-10.77 -15.35,-22.26 C-16.12,-30.88 -10.13,-38.06 0.00,-35.37 C10.13,-38.06 16.12,-30.88 15.35,-22.26 C13.82,-10.77 2.15,-3.59 0.00,0.00 Z" fill="url(#pr)" stroke="#2a0705" stroke-width="1.4"/><path d="M1.90,-8.98 C6.14,-16.44 5.46,-25.26 9.52,-31.60 C12.89,-25.26 12.56,-16.44 1.90,-8.98 Z" fill="#c21a16" opacity="0.7"/><path d="M0.13,-4.31 C-7.03,-13.55 -8.56,-24.47 0.65,-32.32 C8.32,-24.47 7.56,-13.55 0.13,-4.31 Z" fill="#f0603a" opacity="0.9"/><path d="M-0.37,-7.18 C-4.30,-13.34 -4.79,-20.63 -1.84,-25.85 C0.61,-20.63 0.37,-13.34 -0.37,-7.18 Z" fill="#f7895a" opacity="0.8"/><path d="M0.43,-10.77 C1.07,-17.41 0.86,-25.25 2.15,-30.88 C3.22,-25.25 3.12,-17.41 0.43,-10.77 Z" fill="#e3301f" opacity="0.55"/></g><g transform="rotate(5)"><path d="M0,0 C-2.27,-3.78 -11.64,-11.35 -12.93,-23.45 C-13.58,-32.52 -8.54,-40.09 0.00,-37.25 C8.54,-40.09 13.58,-32.52 12.93,-23.45 C11.64,-11.35 2.27,-3.78 0.00,0.00 Z" fill="url(#pr)" stroke="#2a0705" stroke-width="1.4"/><path d="M-1.60,-9.45 C-10.86,-17.32 -11.43,-26.61 -8.02,-33.28 C-5.17,-26.61 -5.46,-17.32 -1.60,-9.45 Z" fill="#c21a16" opacity="0.7"/><path d="M0.16,-4.54 C-5.67,-14.27 -6.96,-25.78 0.80,-34.04 C7.26,-25.78 6.62,-14.27 0.16,-4.54 Z" fill="#f0603a" opacity="0.9"/><path d="M0.31,-7.56 C-0.52,-14.05 -0.93,-21.72 1.55,-27.23 C3.62,-21.72 3.41,-14.05 0.31,-7.56 Z" fill="#f7895a" opacity="0.8"/><path d="M-0.36,-11.35 C-2.72,-18.33 -2.90,-26.59 -1.81,-32.52 C-0.91,-26.59 -1.00,-18.33 -0.36,-11.35 Z" fill="#e3301f" opacity="0.55"/></g><circle r="21.0" fill="url(#glowR)"/><circle r="5.7" fill="#f0a23c" opacity="0.55"/><circle r="4.8" fill="#2f3812"/><circle r="3.2" fill="#9bb02e"/><circle r="1.5" fill="#6f8a22"/></g></g>
<g transform="translate(383.9,-0.9)"><path d="M321.0,584.0C318.7,579.0 312.2,562.2 307.0,554.0C301.8,545.8 296.7,540.2 289.5,534.5C282.3,528.8 273.1,520.9 264.0,519.8C254.9,518.6 240.0,526.3 235.2,527.6C240.0,530.0 254.3,536.6 264.0,542.3C273.7,548.0 284.9,556.1 293.4,561.8C301.9,567.5 310.0,572.4 314.8,576.4C319.6,580.4 320.8,584.0 322.0,585.5Z" fill="url(#lfA)" stroke="#16210c" stroke-width="1.9" stroke-linejoin="round"/><path d="M321.5,584.8C319.7,581.5 315.9,571.3 310.9,565.2C305.9,559.1 299.3,553.8 291.4,548.1C283.6,542.5 273.4,534.5 264.0,531.0C254.6,527.6 240.0,528.2 235.2,527.6" fill="none" stroke="#b4d966" stroke-width="1.1" opacity="0.75" stroke-linecap="round"/><path d="M321.5,584.8C319.7,581.5 315.9,571.3 310.9,565.2C305.9,559.1 299.3,553.8 291.4,548.1C283.6,542.5 273.4,534.5 264.0,531.0C254.6,527.6 240.0,528.2 235.2,527.6C240.0,530.0 254.3,536.6 264.0,542.3C273.7,548.0 284.9,556.1 293.4,561.8C301.9,567.5 310.0,572.4 314.8,576.4C319.6,580.4 320.8,584.0 322.0,585.5Z" fill="#2f5f18" opacity="0.13"/><path d="M325.0,584.0C327.2,580.3 332.2,570.0 338.3,561.8C344.4,553.5 352.9,541.7 361.7,534.5C370.5,527.3 382.1,521.0 391.0,518.8C399.9,516.6 411.3,520.8 415.4,521.2C411.3,523.7 399.9,530.3 391.0,536.4C382.1,542.5 371.1,551.2 361.7,557.9C352.3,564.6 340.6,571.8 334.4,576.4C328.2,581.0 326.1,584.0 324.5,585.5Z" fill="url(#lfA)" stroke="#16210c" stroke-width="1.9" stroke-linejoin="round"/><path d="M324.8,584.8C326.7,582.1 330.2,575.5 336.4,569.1C342.5,562.7 352.6,553.1 361.7,546.2C370.8,539.3 382.1,531.8 391.0,527.6C399.9,523.4 411.3,522.3 415.4,521.2" fill="none" stroke="#b4d966" stroke-width="1.1" opacity="0.75" stroke-linecap="round"/><path d="M324.8,584.8C326.7,582.1 330.2,575.5 336.4,569.1C342.5,562.7 352.6,553.1 361.7,546.2C370.8,539.3 382.1,531.8 391.0,527.6C399.9,523.4 411.3,522.3 415.4,521.2C411.3,523.7 399.9,530.3 391.0,536.4C382.1,542.5 371.1,551.2 361.7,557.9C352.3,564.6 340.6,571.8 334.4,576.4C328.2,581.0 326.1,584.0 324.5,585.5Z" fill="#2f5f18" opacity="0.13"/><path d="M318.5,578.0C317.2,574.0 313.8,563.2 310.9,554.0C308.0,544.8 304.4,530.7 301.2,522.7C297.9,514.7 293.0,508.9 291.4,506.1C294.3,509.2 304.4,517.7 309.0,524.7C313.6,531.7 316.6,538.9 318.8,548.1C321.1,557.3 321.9,574.7 322.5,580.0Z" fill="url(#lfC)" stroke="#16210c" stroke-width="1.9" stroke-linejoin="round"/><path d="M324.0,580.0C324.8,574.7 325.8,557.3 328.5,548.1C331.2,538.9 335.4,531.5 340.2,524.7C345.0,517.9 354.5,510.0 357.4,507.1C355.8,510.4 351.5,518.8 348.0,526.6C344.5,534.4 339.7,545.4 336.3,554.0C332.9,562.6 329.0,574.0 327.5,578.0Z" fill="url(#lfC)" stroke="#16210c" stroke-width="1.9" stroke-linejoin="round"/><path d="M293.4,476.8C294.8,479.0 299.1,484.6 302.0,490.0C304.9,495.4 307.8,500.3 310.9,509.0C314.0,517.7 318.8,530.8 320.7,542.3C322.6,553.8 322.0,572.0 322.3,578.0" fill="none" stroke="#2a4f17" stroke-width="3.4" stroke-linecap="round"/><path d="M293.4,476.8C294.8,479.0 299.1,484.6 302.0,490.0C304.9,495.4 307.8,500.3 310.9,509.0C314.0,517.7 318.8,530.8 320.7,542.3C322.6,553.8 322.0,572.0 322.3,578.0" fill="none" stroke="#5a962e" stroke-width="2.0" stroke-linecap="round"/><path d="M354.9,475.9C353.4,478.2 348.8,484.5 346.0,490.0C343.2,495.5 341.4,500.3 338.3,509.0C335.2,517.7 329.8,530.8 327.5,542.3C325.2,553.8 324.8,572.0 324.3,578.0" fill="none" stroke="#2a4f17" stroke-width="3.4" stroke-linecap="round"/><path d="M354.9,475.9C353.4,478.2 348.8,484.5 346.0,490.0C343.2,495.5 341.4,500.3 338.3,509.0C335.2,517.7 329.8,530.8 327.5,542.3C325.2,553.8 324.8,572.0 324.3,578.0" fill="none" stroke="#5a962e" stroke-width="2.0" stroke-linecap="round"/><path d="M323.4,480.0C323.4,488.3 323.3,513.0 323.3,530.0C323.3,547.0 323.2,573.3 323.2,582.0" fill="none" stroke="#2a4f17" stroke-width="5.8" stroke-linecap="round"/><path d="M323.4,480.0C323.4,488.3 323.3,513.0 323.3,530.0C323.3,547.0 323.2,573.3 323.2,582.0" fill="none" stroke="#5a962e" stroke-width="4.4" stroke-linecap="round"/><path d="M321.5,584.5C320.7,584.0 320.5,584.1 316.8,581.3C313.1,578.5 306.0,570.6 299.2,567.7C292.4,564.8 282.1,563.0 275.8,564.1C269.5,565.2 263.6,572.8 261.1,574.5C262.9,576.3 266.8,582.9 271.9,585.2C276.9,587.6 284.6,588.4 291.4,588.6C298.2,588.8 307.7,586.7 312.9,586.2C318.1,585.7 320.9,585.9 322.5,585.8Z" fill="url(#lfA)" stroke="#16210c" stroke-width="1.9" stroke-linejoin="round"/><path d="M322.0,585.1C320.8,584.9 319.3,584.9 314.9,583.8C310.4,582.6 302.1,579.7 295.3,578.2C288.5,576.6 279.6,575.3 273.9,574.7C268.2,574.0 263.2,574.5 261.1,574.5" fill="none" stroke="#b4d966" stroke-width="1.1" opacity="0.75" stroke-linecap="round"/><path d="M322.0,585.1C320.8,584.9 319.3,584.9 314.9,583.8C310.4,582.6 302.1,579.7 295.3,578.2C288.5,576.6 279.6,575.3 273.9,574.7C268.2,574.0 263.2,574.5 261.1,574.5C262.9,576.3 266.8,582.9 271.9,585.2C276.9,587.6 284.6,588.4 291.4,588.6C298.2,588.8 307.7,586.7 312.9,586.2C318.1,585.7 320.9,585.9 322.5,585.8Z" fill="#2f5f18" opacity="0.13"/><path d="M324.5,584.5C326.5,583.1 330.8,579.3 336.3,576.4C341.9,573.5 351.0,567.9 357.8,567.1C364.6,566.3 372.2,569.1 377.3,571.6C382.4,574.1 386.8,580.2 388.7,581.9C386.1,583.0 379.2,586.9 373.4,588.2C367.6,589.5 360.4,589.8 353.9,589.5C347.4,589.2 339.5,586.8 334.4,586.2C329.3,585.6 325.3,585.9 323.5,585.8Z" fill="url(#lfA)" stroke="#16210c" stroke-width="1.9" stroke-linejoin="round"/><path d="M324.0,585.1C325.9,584.5 330.0,582.4 335.4,581.3C340.7,580.2 349.2,578.5 355.9,578.3C362.5,578.1 369.9,579.3 375.4,579.9C380.8,580.5 386.5,581.6 388.7,581.9" fill="none" stroke="#b4d966" stroke-width="1.1" opacity="0.75" stroke-linecap="round"/><path d="M324.0,585.1C325.9,584.5 330.0,582.4 335.4,581.3C340.7,580.2 349.2,578.5 355.9,578.3C362.5,578.1 369.9,579.3 375.4,579.9C380.8,580.5 386.5,581.6 388.7,581.9C386.1,583.0 379.2,586.9 373.4,588.2C367.6,589.5 360.4,589.8 353.9,589.5C347.4,589.2 339.5,586.8 334.4,586.2C329.3,585.6 325.3,585.9 323.5,585.8Z" fill="#2f5f18" opacity="0.13"/><path d="M319,566 L323.2,586.5 L327.4,566 Q323,560 319,566Z" fill="#24400f" opacity="0.75"/><g transform="translate(271.2,453.3)"><g fill="#190d0a" stroke="#190d0a" stroke-width="3.4" stroke-linejoin="round"><path d="M0,0 C-1.62,-2.70 -8.77,-8.10 -9.75,-16.74 C-10.23,-23.22 -6.43,-28.62 0.00,-26.59 C6.43,-28.62 10.23,-23.22 9.75,-16.74 C8.77,-8.10 1.62,-2.70 0.00,0.00 Z" transform="rotate(85)"/><path d="M0,0 C-1.80,-3.00 -11.80,-9.00 -13.11,-18.60 C-13.77,-25.80 -8.65,-31.80 0.00,-29.55 C8.65,-31.80 13.77,-25.80 13.11,-18.60 C11.80,-9.00 1.80,-3.00 0.00,0.00 Z" transform="rotate(139)"/><path d="M0,0 C-1.89,-3.15 -12.39,-9.45 -13.77,-19.53 C-14.45,-27.09 -9.09,-33.39 0.00,-31.03 C9.09,-33.39 14.45,-27.09 13.77,-19.53 C12.39,-9.45 1.89,-3.15 0.00,0.00 Z" transform="rotate(231)"/><path d="M0,0 C-1.84,-3.06 -11.51,-9.18 -12.79,-18.97 C-13.43,-26.32 -8.44,-32.44 0.00,-30.14 C8.44,-32.44 13.43,-26.32 12.79,-18.97 C11.51,-9.18 1.84,-3.06 0.00,0.00 Z" transform="rotate(-50)"/><path d="M0,0 C-1.69,-2.82 -8.68,-8.46 -9.64,-17.48 C-10.13,-24.25 -6.37,-29.89 0.00,-27.78 C6.37,-29.89 10.13,-24.25 9.64,-17.48 C8.68,-8.46 1.69,-2.82 0.00,0.00 Z" transform="rotate(23)"/></g><g transform="rotate(85)"><path d="M0,0 C-1.62,-2.70 -8.77,-8.10 -9.75,-16.74 C-10.23,-23.22 -6.43,-28.62 0.00,-26.59 C6.43,-28.62 10.23,-23.22 9.75,-16.74 C8.77,-8.10 1.62,-2.70 0.00,0.00 Z" fill="url(#pp)" stroke="#3a1219" stroke-width="1.4"/><path d="M-1.29,-8.10 C-8.38,-13.45 -8.77,-19.76 -6.43,-24.30 C-4.48,-19.76 -4.68,-13.45 -1.29,-8.10 Z" fill="#ea7f90" opacity="0.5"/><path d="M-0.18,-3.24 C-6.54,-10.37 -7.67,-18.79 -0.88,-24.84 C4.77,-18.79 4.21,-10.37 -0.18,-3.24 Z" fill="#fdeae5" opacity="0.95"/><path d="M-0.39,-8.10 C-2.73,-13.27 -2.89,-19.38 -1.95,-23.76 C-1.17,-19.38 -1.25,-13.27 -0.39,-8.10 Z" fill="#f6b3b9" opacity="0.7"/></g><g transform="rotate(139)"><path d="M0,0 C-1.80,-3.00 -11.80,-9.00 -13.11,-18.60 C-13.77,-25.80 -8.65,-31.80 0.00,-29.55 C8.65,-31.80 13.77,-25.80 13.11,-18.60 C11.80,-9.00 1.80,-3.00 0.00,0.00 Z" fill="url(#pp)" stroke="#3a1219" stroke-width="1.4"/><path d="M1.73,-9.00 C6.03,-14.94 5.51,-21.96 8.65,-27.00 C11.27,-21.96 11.01,-14.94 1.73,-9.00 Z" fill="#ea7f90" opacity="0.5"/><path d="M0.16,-3.60 C-6.80,-11.52 -8.32,-20.88 0.81,-27.60 C8.41,-20.88 7.65,-11.52 0.16,-3.60 Z" fill="#fdeae5" opacity="0.95"/><path d="M0.52,-9.00 C1.57,-14.74 1.36,-21.53 2.62,-26.40 C3.67,-21.53 3.57,-14.74 0.52,-9.00 Z" fill="#f6b3b9" opacity="0.7"/></g><g transform="rotate(231)"><path d="M0,0 C-1.89,-3.15 -12.39,-9.45 -13.77,-19.53 C-14.45,-27.09 -9.09,-33.39 0.00,-31.03 C9.09,-33.39 14.45,-27.09 13.77,-19.53 C12.39,-9.45 1.89,-3.15 0.00,0.00 Z" fill="url(#pp)" stroke="#3a1219" stroke-width="1.4"/><path d="M1.82,-9.45 C6.33,-15.69 5.78,-23.06 9.09,-28.35 C11.84,-23.06 11.56,-15.69 1.82,-9.45 Z" fill="#ea7f90" opacity="0.5"/><path d="M-0.13,-3.78 C-8.61,-12.10 -10.21,-21.92 -0.63,-28.98 C7.36,-21.92 6.56,-12.10 -0.13,-3.78 Z" fill="#fdeae5" opacity="0.95"/><path d="M0.55,-9.45 C1.65,-15.48 1.43,-22.60 2.75,-27.72 C3.85,-22.60 3.74,-15.48 0.55,-9.45 Z" fill="#f6b3b9" opacity="0.7"/></g><g transform="rotate(-50)"><path d="M0,0 C-1.84,-3.06 -11.51,-9.18 -12.79,-18.97 C-13.43,-26.32 -8.44,-32.44 0.00,-30.14 C8.44,-32.44 13.43,-26.32 12.79,-18.97 C11.51,-9.18 1.84,-3.06 0.00,0.00 Z" fill="url(#pp)" stroke="#3a1219" stroke-width="1.4"/><path d="M-1.69,-9.18 C-11.00,-15.24 -11.51,-22.40 -8.44,-27.54 C-5.88,-22.40 -6.14,-15.24 -1.69,-9.18 Z" fill="#ea7f90" opacity="0.5"/><path d="M0.05,-3.67 C-7.16,-11.75 -8.64,-21.30 0.26,-28.15 C7.68,-21.30 6.94,-11.75 0.05,-3.67 Z" fill="#fdeae5" opacity="0.95"/><path d="M-0.51,-9.18 C-3.58,-15.04 -3.79,-21.96 -2.56,-26.93 C-1.53,-21.96 -1.64,-15.04 -0.51,-9.18 Z" fill="#f6b3b9" opacity="0.7"/></g><g transform="rotate(23)"><path d="M0,0 C-1.69,-2.82 -8.68,-8.46 -9.64,-17.48 C-10.13,-24.25 -6.37,-29.89 0.00,-27.78 C6.37,-29.89 10.13,-24.25 9.64,-17.48 C8.68,-8.46 1.69,-2.82 0.00,0.00 Z" fill="url(#pp)" stroke="#3a1219" stroke-width="1.4"/><path d="M-1.27,-8.46 C-8.29,-14.04 -8.68,-20.64 -6.37,-25.38 C-4.44,-20.64 -4.63,-14.04 -1.27,-8.46 Z" fill="#ea7f90" opacity="0.5"/><path d="M0.23,-3.38 C-4.47,-10.83 -5.59,-19.63 1.13,-25.94 C6.72,-19.63 6.16,-10.83 0.23,-3.38 Z" fill="#fdeae5" opacity="0.95"/><path d="M-0.39,-8.46 C-2.70,-13.86 -2.85,-20.24 -1.93,-24.82 C-1.16,-20.24 -1.23,-13.86 -0.39,-8.46 Z" fill="#f6b3b9" opacity="0.7"/></g><circle r="15.0" fill="url(#glowP)"/><circle r="5.0" fill="#f8d25a" opacity="0.9"/><circle r="3.5" fill="#ee7d1f"/><circle r="2.1" fill="#e4491c"/></g><g transform="translate(374.7,453.8)"><g fill="#190d0a" stroke="#190d0a" stroke-width="3.4" stroke-linejoin="round"><path d="M0,0 C-1.62,-2.70 -8.77,-8.10 -9.75,-16.74 C-10.23,-23.22 -6.43,-28.62 0.00,-26.59 C6.43,-28.62 10.23,-23.22 9.75,-16.74 C8.77,-8.10 1.62,-2.70 0.00,0.00 Z" transform="rotate(275)"/><path d="M0,0 C-1.80,-3.00 -11.80,-9.00 -13.11,-18.60 C-13.77,-25.80 -8.65,-31.80 0.00,-29.55 C8.65,-31.80 13.77,-25.80 13.11,-18.60 C11.80,-9.00 1.80,-3.00 0.00,0.00 Z" transform="rotate(219)"/><path d="M0,0 C-1.89,-3.15 -12.39,-9.45 -13.77,-19.53 C-14.45,-27.09 -9.09,-33.39 0.00,-31.03 C9.09,-33.39 14.45,-27.09 13.77,-19.53 C12.39,-9.45 1.89,-3.15 0.00,0.00 Z" transform="rotate(129)"/><path d="M0,0 C-1.84,-3.06 -11.51,-9.18 -12.79,-18.97 C-13.43,-26.32 -8.44,-32.44 0.00,-30.14 C8.44,-32.44 13.43,-26.32 12.79,-18.97 C11.51,-9.18 1.84,-3.06 0.00,0.00 Z" transform="rotate(47)"/><path d="M0,0 C-1.71,-2.85 -9.02,-8.55 -10.02,-17.67 C-10.52,-24.51 -6.61,-30.21 0.00,-28.07 C6.61,-30.21 10.52,-24.51 10.02,-17.67 C9.02,-8.55 1.71,-2.85 0.00,0.00 Z" transform="rotate(-30)"/></g><g transform="rotate(275)"><path d="M0,0 C-1.62,-2.70 -8.77,-8.10 -9.75,-16.74 C-10.23,-23.22 -6.43,-28.62 0.00,-26.59 C6.43,-28.62 10.23,-23.22 9.75,-16.74 C8.77,-8.10 1.62,-2.70 0.00,0.00 Z" fill="url(#pp)" stroke="#3a1219" stroke-width="1.4"/><path d="M1.29,-8.10 C4.48,-13.45 4.09,-19.76 6.43,-24.30 C8.38,-19.76 8.19,-13.45 1.29,-8.10 Z" fill="#ea7f90" opacity="0.5"/><path d="M0.13,-3.24 C-5.00,-10.37 -6.13,-18.79 0.66,-24.84 C6.31,-18.79 5.74,-10.37 0.13,-3.24 Z" fill="#fdeae5" opacity="0.95"/><path d="M0.39,-8.10 C1.17,-13.27 1.01,-19.38 1.95,-23.76 C2.73,-19.38 2.65,-13.27 0.39,-8.10 Z" fill="#f6b3b9" opacity="0.7"/></g><g transform="rotate(219)"><path d="M0,0 C-1.80,-3.00 -11.80,-9.00 -13.11,-18.60 C-13.77,-25.80 -8.65,-31.80 0.00,-29.55 C8.65,-31.80 13.77,-25.80 13.11,-18.60 C11.80,-9.00 1.80,-3.00 0.00,0.00 Z" fill="url(#pp)" stroke="#3a1219" stroke-width="1.4"/><path d="M1.73,-9.00 C6.03,-14.94 5.51,-21.96 8.65,-27.00 C11.27,-21.96 11.01,-14.94 1.73,-9.00 Z" fill="#ea7f90" opacity="0.5"/><path d="M0.02,-3.60 C-7.50,-11.52 -9.02,-20.88 0.11,-27.60 C7.71,-20.88 6.95,-11.52 0.02,-3.60 Z" fill="#fdeae5" opacity="0.95"/><path d="M0.52,-9.00 C1.57,-14.74 1.36,-21.53 2.62,-26.40 C3.67,-21.53 3.57,-14.74 0.52,-9.00 Z" fill="#f6b3b9" opacity="0.7"/></g><g transform="rotate(129)"><path d="M0,0 C-1.89,-3.15 -12.39,-9.45 -13.77,-19.53 C-14.45,-27.09 -9.09,-33.39 0.00,-31.03 C9.09,-33.39 14.45,-27.09 13.77,-19.53 C12.39,-9.45 1.89,-3.15 0.00,0.00 Z" fill="url(#pp)" stroke="#3a1219" stroke-width="1.4"/><path d="M1.82,-9.45 C6.33,-15.69 5.78,-23.06 9.09,-28.35 C11.84,-23.06 11.56,-15.69 1.82,-9.45 Z" fill="#ea7f90" opacity="0.5"/><path d="M0.00,-3.78 C-7.98,-12.10 -9.58,-21.92 0.01,-28.98 C7.99,-21.92 7.19,-12.10 0.00,-3.78 Z" fill="#fdeae5" opacity="0.95"/><path d="M0.55,-9.45 C1.65,-15.48 1.43,-22.60 2.75,-27.72 C3.85,-22.60 3.74,-15.48 0.55,-9.45 Z" fill="#f6b3b9" opacity="0.7"/></g><g transform="rotate(47)"><path d="M0,0 C-1.84,-3.06 -11.51,-9.18 -12.79,-18.97 C-13.43,-26.32 -8.44,-32.44 0.00,-30.14 C8.44,-32.44 13.43,-26.32 12.79,-18.97 C11.51,-9.18 1.84,-3.06 0.00,0.00 Z" fill="url(#pp)" stroke="#3a1219" stroke-width="1.4"/><path d="M-1.69,-9.18 C-11.00,-15.24 -11.51,-22.40 -8.44,-27.54 C-5.88,-22.40 -6.14,-15.24 -1.69,-9.18 Z" fill="#ea7f90" opacity="0.5"/><path d="M0.18,-3.67 C-6.51,-11.75 -7.99,-21.30 0.91,-28.15 C8.33,-21.30 7.59,-11.75 0.18,-3.67 Z" fill="#fdeae5" opacity="0.95"/><path d="M-0.51,-9.18 C-3.58,-15.04 -3.79,-21.96 -2.56,-26.93 C-1.53,-21.96 -1.64,-15.04 -0.51,-9.18 Z" fill="#f6b3b9" opacity="0.7"/></g><g transform="rotate(-30)"><path d="M0,0 C-1.71,-2.85 -9.02,-8.55 -10.02,-17.67 C-10.52,-24.51 -6.61,-30.21 0.00,-28.07 C6.61,-30.21 10.52,-24.51 10.02,-17.67 C9.02,-8.55 1.71,-2.85 0.00,0.00 Z" fill="url(#pp)" stroke="#3a1219" stroke-width="1.4"/><path d="M1.32,-8.55 C4.61,-14.19 4.21,-20.86 6.61,-25.65 C8.62,-20.86 8.41,-14.19 1.32,-8.55 Z" fill="#ea7f90" opacity="0.5"/><path d="M-0.02,-3.42 C-5.89,-10.94 -7.05,-19.84 -0.08,-26.22 C5.73,-19.84 5.15,-10.94 -0.02,-3.42 Z" fill="#fdeae5" opacity="0.95"/><path d="M0.40,-8.55 C1.20,-14.00 1.04,-20.45 2.00,-25.08 C2.80,-20.45 2.72,-14.00 0.40,-8.55 Z" fill="#f6b3b9" opacity="0.7"/></g><circle r="15.0" fill="url(#glowP)"/><circle r="5.0" fill="#f8d25a" opacity="0.9"/><circle r="3.5" fill="#ee7d1f"/><circle r="2.1" fill="#e4491c"/></g><g transform="translate(322.4,447.9)"><g fill="#190d0a" stroke="#190d0a" stroke-width="3.4" stroke-linejoin="round"><path d="M0,0 C-1.97,-3.29 -10.11,-9.86 -11.24,-20.37 C-11.80,-28.25 -7.42,-34.82 0.00,-32.36 C7.42,-34.82 11.80,-28.25 11.24,-20.37 C10.11,-9.86 1.97,-3.29 0.00,0.00 Z" transform="rotate(268)"/><path d="M0,0 C-2.22,-3.71 -14.57,-11.12 -16.19,-22.97 C-17.00,-31.87 -10.69,-39.28 0.00,-36.50 C10.69,-39.28 17.00,-31.87 16.19,-22.97 C14.57,-11.12 2.22,-3.71 0.00,0.00 Z" transform="rotate(142)"/><path d="M0,0 C-2.29,-3.82 -15.02,-11.46 -16.69,-23.68 C-17.53,-32.85 -11.02,-40.49 0.00,-37.63 C11.02,-40.49 17.53,-32.85 16.69,-23.68 C15.02,-11.46 2.29,-3.82 0.00,0.00 Z" transform="rotate(208)"/><path d="M0,0 C-2.06,-3.44 -13.23,-10.31 -14.70,-21.32 C-15.43,-29.57 -9.70,-36.44 0.00,-33.86 C9.70,-36.44 15.43,-29.57 14.70,-21.32 C13.23,-10.31 2.06,-3.44 0.00,0.00 Z" transform="rotate(71)"/><path d="M0,0 C-2.15,-3.59 -13.82,-10.77 -15.35,-22.26 C-16.12,-30.88 -10.13,-38.06 0.00,-35.37 C10.13,-38.06 16.12,-30.88 15.35,-22.26 C13.82,-10.77 2.15,-3.59 0.00,0.00 Z" transform="rotate(-52)"/><path d="M0,0 C-2.27,-3.78 -11.64,-11.35 -12.93,-23.45 C-13.58,-32.52 -8.54,-40.09 0.00,-37.25 C8.54,-40.09 13.58,-32.52 12.93,-23.45 C11.64,-11.35 2.27,-3.78 0.00,0.00 Z" transform="rotate(5)"/></g><g transform="rotate(268)"><path d="M0,0 C-1.97,-3.29 -10.11,-9.86 -11.24,-20.37 C-11.80,-28.25 -7.42,-34.82 0.00,-32.36 C7.42,-34.82 11.80,-28.25 11.24,-20.37 C10.11,-9.86 1.97,-3.29 0.00,0.00 Z" fill="url(#pp)" stroke="#3a1219" stroke-width="1.4"/><path d="M1.48,-9.86 C5.17,-16.36 4.72,-24.05 7.42,-29.57 C9.66,-24.05 9.44,-16.36 1.48,-9.86 Z" fill="#ea7f90" opacity="0.5"/><path d="M0.21,-3.94 C-5.44,-12.62 -6.75,-22.86 1.07,-30.22 C7.59,-22.86 6.94,-12.62 0.21,-3.94 Z" fill="#fdeae5" opacity="0.95"/><path d="M0.45,-9.86 C1.35,-16.14 1.17,-23.57 2.25,-28.91 C3.15,-23.57 3.06,-16.14 0.45,-9.86 Z" fill="#f6b3b9" opacity="0.7"/></g><g transform="rotate(142)"><path d="M0,0 C-2.22,-3.71 -14.57,-11.12 -16.19,-22.97 C-17.00,-31.87 -10.69,-39.28 0.00,-36.50 C10.69,-39.28 17.00,-31.87 16.19,-22.97 C14.57,-11.12 2.22,-3.71 0.00,0.00 Z" fill="url(#pp)" stroke="#3a1219" stroke-width="1.4"/><path d="M2.14,-11.12 C7.45,-18.45 6.80,-27.12 10.69,-33.35 C13.93,-27.12 13.60,-18.45 2.14,-11.12 Z" fill="#ea7f90" opacity="0.5"/><path d="M0.23,-4.45 C-8.23,-14.23 -10.11,-25.79 1.16,-34.09 C10.55,-25.79 9.61,-14.23 0.23,-4.45 Z" fill="#fdeae5" opacity="0.95"/><path d="M0.65,-11.12 C1.94,-18.21 1.68,-26.59 3.24,-32.61 C4.53,-26.59 4.40,-18.21 0.65,-11.12 Z" fill="#f6b3b9" opacity="0.7"/></g><g transform="rotate(208)"><path d="M0,0 C-2.29,-3.82 -15.02,-11.46 -16.69,-23.68 C-17.53,-32.85 -11.02,-40.49 0.00,-37.63 C11.02,-40.49 17.53,-32.85 16.69,-23.68 C15.02,-11.46 2.29,-3.82 0.00,0.00 Z" fill="url(#pp)" stroke="#3a1219" stroke-width="1.4"/><path d="M-2.20,-11.46 C-14.36,-19.02 -15.02,-27.96 -11.02,-34.38 C-7.68,-27.96 -8.01,-19.02 -2.20,-11.46 Z" fill="#ea7f90" opacity="0.5"/><path d="M0.04,-4.58 C-9.50,-14.67 -11.43,-26.59 0.18,-35.14 C9.87,-26.59 8.90,-14.67 0.04,-4.58 Z" fill="#fdeae5" opacity="0.95"/><path d="M-0.67,-11.46 C-4.67,-18.77 -4.94,-27.41 -3.34,-33.62 C-2.00,-27.41 -2.14,-18.77 -0.67,-11.46 Z" fill="#f6b3b9" opacity="0.7"/></g><g transform="rotate(71)"><path d="M0,0 C-2.06,-3.44 -13.23,-10.31 -14.70,-21.32 C-15.43,-29.57 -9.70,-36.44 0.00,-33.86 C9.70,-36.44 15.43,-29.57 14.70,-21.32 C13.23,-10.31 2.06,-3.44 0.00,0.00 Z" fill="url(#pp)" stroke="#3a1219" stroke-width="1.4"/><path d="M-1.94,-10.31 C-12.64,-17.12 -13.23,-25.17 -9.70,-30.94 C-6.76,-25.17 -7.05,-17.12 -1.94,-10.31 Z" fill="#ea7f90" opacity="0.5"/><path d="M-0.15,-4.13 C-9.27,-13.20 -10.97,-23.93 -0.74,-31.63 C7.78,-23.93 6.93,-13.20 -0.15,-4.13 Z" fill="#fdeae5" opacity="0.95"/><path d="M-0.59,-10.31 C-4.12,-16.89 -4.35,-24.67 -2.94,-30.25 C-1.76,-24.67 -1.88,-16.89 -0.59,-10.31 Z" fill="#f6b3b9" opacity="0.7"/></g><g transform="rotate(-52)"><path d="M0,0 C-2.15,-3.59 -13.82,-10.77 -15.35,-22.26 C-16.12,-30.88 -10.13,-38.06 0.00,-35.37 C10.13,-38.06 16.12,-30.88 15.35,-22.26 C13.82,-10.77 2.15,-3.59 0.00,0.00 Z" fill="url(#pp)" stroke="#3a1219" stroke-width="1.4"/><path d="M-2.03,-10.77 C-13.20,-17.88 -13.82,-26.28 -10.13,-32.32 C-7.06,-26.28 -7.37,-17.88 -2.03,-10.77 Z" fill="#ea7f90" opacity="0.5"/><path d="M-0.10,-4.31 C-9.41,-13.79 -11.19,-24.99 -0.50,-33.04 C8.40,-24.99 7.51,-13.79 -0.10,-4.31 Z" fill="#fdeae5" opacity="0.95"/><path d="M-0.61,-10.77 C-4.30,-17.65 -4.54,-25.77 -3.07,-31.60 C-1.84,-25.77 -1.96,-17.65 -0.61,-10.77 Z" fill="#f6b3b9" opacity="0.7"/></g><g transform="rotate(5)"><path d="M0,0 C-2.27,-3.78 -11.64,-11.35 -12.93,-23.45 C-13.58,-32.52 -8.54,-40.09 0.00,-37.25 C8.54,-40.09 13.58,-32.52 12.93,-23.45 C11.64,-11.35 2.27,-3.78 0.00,0.00 Z" fill="url(#pp)" stroke="#3a1219" stroke-width="1.4"/><path d="M-1.71,-11.35 C-11.12,-18.83 -11.64,-27.68 -8.54,-34.04 C-5.95,-27.68 -6.21,-18.83 -1.71,-11.35 Z" fill="#ea7f90" opacity="0.5"/><path d="M0.01,-4.54 C-7.47,-14.52 -8.97,-26.32 0.03,-34.79 C7.53,-26.32 6.78,-14.52 0.01,-4.54 Z" fill="#fdeae5" opacity="0.95"/><path d="M-0.52,-11.35 C-3.62,-18.58 -3.83,-27.14 -2.59,-33.28 C-1.55,-27.14 -1.66,-18.58 -0.52,-11.35 Z" fill="#f6b3b9" opacity="0.7"/></g><circle r="19.1" fill="url(#glowP)"/><circle r="6.3" fill="#f8d25a" opacity="0.9"/><circle r="4.5" fill="#ee7d1f"/><circle r="2.7" fill="#e4491c"/></g></g>
<g transform="translate(0.0,0.0)"><g filter="url(#soft)" fill="#dfe6ca"><path d="M134,861 L113,861.5 Q107,864 110,871 Q106,878 110,885 Q99,888 99.5,896 Q102,904 112,912 Q122,919 136,921 L140,900Z"/><path d="M210,861 L231,861.5 Q234,866 230,873 Q233,880 238,884 Q244,889 241.5,897 Q237,906 228,914 Q217,920 205,919 L204,900Z"/><path d="M205,800 Q212,795 223,797 Q227,802 225,812 Q224,822 217,827 Q206,830 200,822Z" fill="#eceede" opacity="0.9"/></g><ellipse cx="171.85" cy="865.6" rx="43.6" ry="3.0" fill="#e6c6bb" stroke="#1a1110" stroke-width="1.3"/><path d="M161.8,868.0C160.5,865.6 158.6,860.7 154.0,853.8C149.4,846.9 142.0,834.7 134.5,826.4C127.0,818.1 117.6,808.2 109.1,804.0C100.6,799.8 87.6,801.8 83.3,801.4C86.0,803.3 92.4,806.9 99.3,812.7C106.2,818.5 117.5,829.4 124.7,836.2C131.9,843.1 137.8,848.5 142.3,853.8C146.9,859.1 150.4,865.6 152.0,868.0Z" fill="url(#lfB)" stroke="#16210c" stroke-width="1.9" stroke-linejoin="round"/><path d="M156.9,868.0C155.4,865.6 152.7,859.9 148.2,853.8C143.6,847.7 136.9,838.9 129.6,831.3C122.3,823.7 111.9,813.3 104.2,808.4C96.5,803.4 86.8,802.6 83.3,801.4" fill="none" stroke="#8fc04a" stroke-width="1.1" opacity="0.75" stroke-linecap="round"/><path d="M156.9,868.0C155.4,865.6 152.7,859.9 148.2,853.8C143.6,847.7 136.9,838.9 129.6,831.3C122.3,823.7 111.9,813.3 104.2,808.4C96.5,803.4 86.8,802.6 83.3,801.4C86.0,803.3 92.4,806.9 99.3,812.7C106.2,818.5 117.5,829.4 124.7,836.2C131.9,843.1 137.8,848.5 142.3,853.8C146.9,859.1 150.4,865.6 152.0,868.0Z" fill="#2f5f18" opacity="0.22"/><path d="M179.4,868.0C180.7,865.3 182.6,858.4 187.2,851.8C191.8,845.2 199.5,834.9 206.7,828.4C213.9,821.9 222.2,815.5 230.2,812.7C238.2,809.9 250.5,811.9 254.6,811.8C252.2,813.6 246.2,817.5 239.9,822.5C233.6,827.5 223.7,835.8 216.5,842.0C209.3,848.2 201.6,855.3 197.0,859.6C192.4,863.9 190.4,866.6 189.1,868.0Z" fill="url(#lfB)" stroke="#16210c" stroke-width="1.9" stroke-linejoin="round"/><path d="M184.2,868.0C185.6,866.0 187.5,861.2 192.1,855.7C196.7,850.2 204.4,841.6 211.6,835.2C218.8,828.9 227.9,821.5 235.1,817.6C242.2,813.7 251.3,812.8 254.6,811.8" fill="none" stroke="#8fc04a" stroke-width="1.1" opacity="0.75" stroke-linecap="round"/><path d="M184.2,868.0C185.6,866.0 187.5,861.2 192.1,855.7C196.7,850.2 204.4,841.6 211.6,835.2C218.8,828.9 227.9,821.5 235.1,817.6C242.2,813.7 251.3,812.8 254.6,811.8C252.2,813.6 246.2,817.5 239.9,822.5C233.6,827.5 223.7,835.8 216.5,842.0C209.3,848.2 201.6,855.3 197.0,859.6C192.4,863.9 190.4,866.6 189.1,868.0Z" fill="#2f5f18" opacity="0.22"/><path d="M152.0,867.0C150.7,865.5 148.8,861.5 144.2,857.7C139.6,853.9 131.5,846.9 124.7,844.0C117.9,841.1 106.8,841.1 103.2,840.5C105.2,842.4 109.7,848.0 114.9,851.8C120.1,855.6 129.8,860.8 134.5,863.5C139.2,866.2 141.6,867.2 143.0,868.0Z" fill="url(#lfB)" stroke="#16210c" stroke-width="1.9" stroke-linejoin="round"/><path d="M147.5,867.5C146.1,866.4 144.0,863.9 139.3,860.6C134.7,857.3 125.8,851.2 119.8,847.9C113.8,844.5 106.0,841.7 103.2,840.5" fill="none" stroke="#8fc04a" stroke-width="1.1" opacity="0.75" stroke-linecap="round"/><path d="M147.5,867.5C146.1,866.4 144.0,863.9 139.3,860.6C134.7,857.3 125.8,851.2 119.8,847.9C113.8,844.5 106.0,841.7 103.2,840.5C105.2,842.4 109.7,848.0 114.9,851.8C120.1,855.6 129.8,860.8 134.5,863.5C139.2,866.2 141.6,867.2 143.0,868.0Z" fill="#2f5f18" opacity="0.22"/><path d="M189.1,867.0C190.7,865.1 194.7,859.5 198.9,855.7C203.1,851.9 208.3,846.5 214.5,844.0C220.7,841.5 232.4,841.1 236.0,840.5C234.4,841.7 230.5,844.7 226.3,847.9C222.1,851.1 215.3,856.2 210.6,859.6C205.9,863.0 200.1,866.6 198.0,868.0Z" fill="url(#lfB)" stroke="#16210c" stroke-width="1.9" stroke-linejoin="round"/><path d="M193.6,867.5C195.4,865.9 200.3,861.2 204.8,857.7C209.2,854.1 215.2,848.8 220.4,846.0C225.6,843.1 233.4,841.4 236.0,840.5" fill="none" stroke="#8fc04a" stroke-width="1.1" opacity="0.75" stroke-linecap="round"/><path d="M193.6,867.5C195.4,865.9 200.3,861.2 204.8,857.7C209.2,854.1 215.2,848.8 220.4,846.0C225.6,843.1 233.4,841.4 236.0,840.5C234.4,841.7 230.5,844.7 226.3,847.9C222.1,851.1 215.3,856.2 210.6,859.6C205.9,863.0 200.1,866.6 198.0,868.0Z" fill="#2f5f18" opacity="0.22"/><path d="M159.8,868.0C157.9,863.0 152.0,848.0 148.1,838.1C144.2,828.2 139.8,817.6 136.4,808.8C133.0,799.9 129.1,789.0 127.6,785.0C131.0,789.6 142.4,803.9 148.1,812.7C153.8,821.6 158.5,828.9 161.8,838.1C165.1,847.3 166.7,863.0 167.7,868.0Z" fill="url(#lfB)" stroke="#16210c" stroke-width="1.9" stroke-linejoin="round"/><path d="M163.8,868.0C162.3,863.0 158.5,847.6 154.9,838.1C151.4,828.6 146.8,819.6 142.2,810.8C137.7,801.9 130.0,789.3 127.6,785.0" fill="none" stroke="#8fc04a" stroke-width="1.1" opacity="0.75" stroke-linecap="round"/><path d="M163.8,868.0C162.3,863.0 158.5,847.6 154.9,838.1C151.4,828.6 146.8,819.6 142.2,810.8C137.7,801.9 130.0,789.3 127.6,785.0C131.0,789.6 142.4,803.9 148.1,812.7C153.8,821.6 158.5,828.9 161.8,838.1C165.1,847.3 166.7,863.0 167.7,868.0Z" fill="#2f5f18" opacity="0.22"/><path d="M174.5,868.0C175.3,862.0 176.0,843.1 179.4,832.3C182.8,821.5 188.3,811.8 195.0,803.0C201.7,794.2 215.3,783.4 219.4,779.5C217.3,784.1 211.4,797.1 206.7,806.9C202.0,816.7 195.3,827.9 191.1,838.1C186.9,848.3 182.9,863.0 181.3,868.0Z" fill="url(#lfB)" stroke="#16210c" stroke-width="1.9" stroke-linejoin="round"/><path d="M177.9,868.0C179.1,862.5 181.4,845.7 185.2,835.2C189.1,824.7 195.2,814.2 200.8,805.0C206.5,795.7 216.3,783.7 219.4,779.5" fill="none" stroke="#8fc04a" stroke-width="1.1" opacity="0.75" stroke-linecap="round"/><path d="M177.9,868.0C179.1,862.5 181.4,845.7 185.2,835.2C189.1,824.7 195.2,814.2 200.8,805.0C206.5,795.7 216.3,783.7 219.4,779.5C217.3,784.1 211.4,797.1 206.7,806.9C202.0,816.7 195.3,827.9 191.1,838.1C186.9,848.3 182.9,863.0 181.3,868.0Z" fill="#2f5f18" opacity="0.22"/><path d="M138.4,764.9C139.7,767.1 143.7,773.3 146.0,778.0C148.3,782.7 149.7,786.1 152.0,793.2C154.3,800.3 157.7,812.7 159.8,820.5C161.9,828.3 163.7,836.8 164.5,840.0" fill="none" stroke="#2a4f17" stroke-width="3.3" stroke-linecap="round"/><path d="M138.4,764.9C139.7,767.1 143.7,773.3 146.0,778.0C148.3,782.7 149.7,786.1 152.0,793.2C154.3,800.3 157.7,812.7 159.8,820.5C161.9,828.3 163.7,836.8 164.5,840.0" fill="none" stroke="#5a962e" stroke-width="1.9" stroke-linecap="round"/><path d="M197.0,764.9C195.7,767.1 191.3,773.3 189.0,778.0C186.7,782.7 185.4,786.4 183.3,793.2C181.2,800.0 177.9,810.8 176.4,818.6C174.9,826.4 174.6,836.4 174.2,840.0" fill="none" stroke="#2a4f17" stroke-width="3.3" stroke-linecap="round"/><path d="M197.0,764.9C195.7,767.1 191.3,773.3 189.0,778.0C186.7,782.7 185.4,786.4 183.3,793.2C181.2,800.0 177.9,810.8 176.4,818.6C174.9,826.4 174.6,836.4 174.2,840.0" fill="none" stroke="#5a962e" stroke-width="1.9" stroke-linecap="round"/><path d="M165.5,868.0C165.6,863.0 165.5,849.3 165.8,838.0C166.1,826.7 166.9,811.2 167.5,800.0C168.1,788.8 169.2,775.8 169.6,771.0C170.1,775.8 171.6,788.8 172.4,800.0C173.2,811.2 174.2,826.7 174.6,838.0C175.0,849.3 174.9,863.0 175.0,868.0Z" fill="url(#lfC)" stroke="#16210c" stroke-width="1.5" stroke-linejoin="round"/><path d="M128.2,865.4 Q172,871.6 215.5,865.4 C215.3,878 214.8,888 213.6,896.7 C212,906 210,913 206.7,918.2 C203,923 198,927.4 191.1,929.2 C185,930.6 178,931 171.6,931 C166,931 160,930.6 152,928.4 C147,927.4 142,925 137.4,918.2 C134,914 132,908 130.5,896.7 C129.5,890 129,880 128.2,865.4 Z" fill="url(#potg)" stroke="#1a1110" stroke-width="1.8" stroke-linejoin="round"/><path d="M148,877 Q170,873 196,877 Q200,890 197,900 Q201,910 194,922 Q172,928 150,922 Q143,908 146,898 Q143,886 148,877Z" fill="#e0b9ad" opacity="0.6" filter="url(#soft2)"/><g transform="translate(120.1,743.1)"><g fill="#190d0a" stroke="#190d0a" stroke-width="3.4" stroke-linejoin="round"><path d="M0,0 C-1.47,-2.45 -7.95,-7.34 -8.84,-15.18 C-9.28,-21.05 -5.83,-25.95 0.00,-24.11 C5.83,-25.95 9.28,-21.05 8.84,-15.18 C7.95,-7.34 1.47,-2.45 0.00,0.00 Z" transform="rotate(75)"/><path d="M0,0 C-1.47,-2.45 -9.63,-7.34 -10.70,-15.18 C-11.23,-21.05 -7.06,-25.95 0.00,-24.11 C7.06,-25.95 11.23,-21.05 10.70,-15.18 C9.63,-7.34 1.47,-2.45 0.00,0.00 Z" transform="rotate(138)"/><path d="M0,0 C-1.89,-3.16 -11.87,-9.47 -13.19,-19.56 C-13.85,-27.13 -8.70,-33.45 0.00,-31.08 C8.70,-33.45 13.85,-27.13 13.19,-19.56 C11.87,-9.47 1.89,-3.16 0.00,0.00 Z" transform="rotate(226)"/><path d="M0,0 C-1.71,-2.86 -10.26,-8.57 -11.40,-17.71 C-11.97,-24.56 -7.52,-30.27 0.00,-28.13 C7.52,-30.27 11.97,-24.56 11.40,-17.71 C10.26,-8.57 1.71,-2.86 0.00,0.00 Z" transform="rotate(-65)"/><path d="M0,0 C-1.62,-2.69 -8.75,-8.08 -9.72,-16.70 C-10.21,-23.16 -6.42,-28.54 0.00,-26.52 C6.42,-28.54 10.21,-23.16 9.72,-16.70 C8.75,-8.08 1.62,-2.69 0.00,0.00 Z" transform="rotate(10)"/></g><g transform="rotate(75)"><path d="M0,0 C-1.47,-2.45 -7.95,-7.34 -8.84,-15.18 C-9.28,-21.05 -5.83,-25.95 0.00,-24.11 C5.83,-25.95 9.28,-21.05 8.84,-15.18 C7.95,-7.34 1.47,-2.45 0.00,0.00 Z" fill="url(#pr)" stroke="#2a0705" stroke-width="1.4"/><path d="M-1.10,-6.12 C-7.42,-11.21 -7.81,-17.22 -5.48,-21.54 C-3.53,-17.22 -3.73,-11.21 -1.10,-6.12 Z" fill="#c21a16" opacity="0.7"/><path d="M0.04,-2.94 C-4.24,-9.24 -5.12,-16.69 0.18,-22.03 C4.60,-16.69 4.16,-9.24 0.04,-2.94 Z" fill="#f0603a" opacity="0.9"/><path d="M0.21,-4.90 C-0.35,-9.10 -0.64,-14.06 1.06,-17.63 C2.47,-14.06 2.33,-9.10 0.21,-4.90 Z" fill="#f7895a" opacity="0.8"/><path d="M-0.25,-7.34 C-1.86,-11.87 -1.98,-17.21 -1.24,-21.05 C-0.62,-17.21 -0.68,-11.87 -0.25,-7.34 Z" fill="#e3301f" opacity="0.55"/></g><g transform="rotate(138)"><path d="M0,0 C-1.47,-2.45 -9.63,-7.34 -10.70,-15.18 C-11.23,-21.05 -7.06,-25.95 0.00,-24.11 C7.06,-25.95 11.23,-21.05 10.70,-15.18 C9.63,-7.34 1.47,-2.45 0.00,0.00 Z" fill="url(#pr)" stroke="#2a0705" stroke-width="1.4"/><path d="M-1.33,-6.12 C-8.99,-11.21 -9.46,-17.22 -6.63,-21.54 C-4.28,-17.22 -4.51,-11.21 -1.33,-6.12 Z" fill="#c21a16" opacity="0.7"/><path d="M-0.05,-2.94 C-5.60,-9.24 -6.67,-16.69 -0.25,-22.03 C5.09,-16.69 4.56,-9.24 -0.05,-2.94 Z" fill="#f0603a" opacity="0.9"/><path d="M0.26,-4.90 C-0.43,-9.10 -0.77,-14.06 1.28,-17.63 C3.00,-14.06 2.82,-9.10 0.26,-4.90 Z" fill="#f7895a" opacity="0.8"/><path d="M-0.30,-7.34 C-2.25,-11.87 -2.40,-17.21 -1.50,-21.05 C-0.75,-17.21 -0.82,-11.87 -0.30,-7.34 Z" fill="#e3301f" opacity="0.55"/></g><g transform="rotate(226)"><path d="M0,0 C-1.89,-3.16 -11.87,-9.47 -13.19,-19.56 C-13.85,-27.13 -8.70,-33.45 0.00,-31.08 C8.70,-33.45 13.85,-27.13 13.19,-19.56 C11.87,-9.47 1.89,-3.16 0.00,0.00 Z" fill="url(#pr)" stroke="#2a0705" stroke-width="1.4"/><path d="M1.64,-7.89 C5.28,-14.45 4.70,-22.20 8.18,-27.77 C11.08,-22.20 10.79,-14.45 1.64,-7.89 Z" fill="#c21a16" opacity="0.7"/><path d="M0.06,-3.79 C-6.28,-11.91 -7.60,-21.51 0.32,-28.40 C6.91,-21.51 6.25,-11.91 0.06,-3.79 Z" fill="#f0603a" opacity="0.9"/><path d="M-0.32,-6.31 C-3.69,-11.72 -4.11,-18.12 -1.58,-22.72 C0.53,-18.12 0.32,-11.72 -0.32,-6.31 Z" fill="#f7895a" opacity="0.8"/><path d="M0.37,-9.47 C0.92,-15.30 0.74,-22.19 1.85,-27.13 C2.77,-22.19 2.68,-15.30 0.37,-9.47 Z" fill="#e3301f" opacity="0.55"/></g><g transform="rotate(-65)"><path d="M0,0 C-1.71,-2.86 -10.26,-8.57 -11.40,-17.71 C-11.97,-24.56 -7.52,-30.27 0.00,-28.13 C7.52,-30.27 11.97,-24.56 11.40,-17.71 C10.26,-8.57 1.71,-2.86 0.00,0.00 Z" fill="url(#pr)" stroke="#2a0705" stroke-width="1.4"/><path d="M-1.41,-7.14 C-9.57,-13.08 -10.07,-20.09 -7.07,-25.13 C-4.56,-20.09 -4.81,-13.08 -1.41,-7.14 Z" fill="#c21a16" opacity="0.7"/><path d="M0.05,-3.43 C-5.46,-10.78 -6.60,-19.47 0.24,-25.70 C5.94,-19.47 5.37,-10.78 0.05,-3.43 Z" fill="#f0603a" opacity="0.9"/><path d="M0.27,-5.71 C-0.46,-10.61 -0.82,-16.40 1.37,-20.56 C3.19,-16.40 3.01,-10.61 0.27,-5.71 Z" fill="#f7895a" opacity="0.8"/><path d="M-0.32,-8.57 C-2.39,-13.85 -2.55,-20.08 -1.60,-24.56 C-0.80,-20.08 -0.88,-13.85 -0.32,-8.57 Z" fill="#e3301f" opacity="0.55"/></g><g transform="rotate(10)"><path d="M0,0 C-1.62,-2.69 -8.75,-8.08 -9.72,-16.70 C-10.21,-23.16 -6.42,-28.54 0.00,-26.52 C6.42,-28.54 10.21,-23.16 9.72,-16.70 C8.75,-8.08 1.62,-2.69 0.00,0.00 Z" fill="url(#pr)" stroke="#2a0705" stroke-width="1.4"/><path d="M1.21,-6.73 C3.89,-12.33 3.46,-18.95 6.03,-23.70 C8.17,-18.95 7.95,-12.33 1.21,-6.73 Z" fill="#c21a16" opacity="0.7"/><path d="M-0.10,-3.23 C-5.38,-10.16 -6.35,-18.35 -0.52,-24.24 C4.34,-18.35 3.86,-10.16 -0.10,-3.23 Z" fill="#f0603a" opacity="0.9"/><path d="M-0.23,-5.39 C-2.72,-10.01 -3.03,-15.47 -1.17,-19.39 C0.39,-15.47 0.23,-10.01 -0.23,-5.39 Z" fill="#f7895a" opacity="0.8"/><path d="M0.27,-8.08 C0.68,-13.05 0.54,-18.94 1.36,-23.16 C2.04,-18.94 1.97,-13.05 0.27,-8.08 Z" fill="#e3301f" opacity="0.55"/></g><circle r="15.0" fill="url(#glowR)"/><circle r="4.1" fill="#f0a23c" opacity="0.55"/><circle r="3.4" fill="#2f3812"/><circle r="2.3" fill="#9bb02e"/><circle r="1.1" fill="#6f8a22"/></g><g transform="translate(217.0,742.1)"><g fill="#190d0a" stroke="#190d0a" stroke-width="3.4" stroke-linejoin="round"><path d="M0,0 C-1.47,-2.45 -7.95,-7.34 -8.84,-15.18 C-9.28,-21.05 -5.83,-25.95 0.00,-24.11 C5.83,-25.95 9.28,-21.05 8.84,-15.18 C7.95,-7.34 1.47,-2.45 0.00,0.00 Z" transform="rotate(280)"/><path d="M0,0 C-1.47,-2.45 -9.63,-7.34 -10.70,-15.18 C-11.23,-21.05 -7.06,-25.95 0.00,-24.11 C7.06,-25.95 11.23,-21.05 10.70,-15.18 C9.63,-7.34 1.47,-2.45 0.00,0.00 Z" transform="rotate(210)"/><path d="M0,0 C-1.86,-3.10 -11.67,-9.30 -12.96,-19.22 C-13.61,-26.67 -8.55,-32.87 0.00,-30.54 C8.55,-32.87 13.61,-26.67 12.96,-19.22 C11.67,-9.30 1.86,-3.10 0.00,0.00 Z" transform="rotate(111)"/><path d="M0,0 C-1.60,-2.67 -9.57,-8.00 -10.64,-16.53 C-11.17,-22.92 -7.02,-28.26 0.00,-26.26 C7.02,-28.26 11.17,-22.92 10.64,-16.53 C9.57,-8.00 1.60,-2.67 0.00,0.00 Z" transform="rotate(42)"/><path d="M0,0 C-1.58,-2.64 -8.57,-7.92 -9.52,-16.36 C-10.00,-22.69 -6.29,-27.97 0.00,-25.99 C6.29,-27.97 10.00,-22.69 9.52,-16.36 C8.57,-7.92 1.58,-2.64 0.00,0.00 Z" transform="rotate(-22)"/></g><g transform="rotate(280)"><path d="M0,0 C-1.47,-2.45 -7.95,-7.34 -8.84,-15.18 C-9.28,-21.05 -5.83,-25.95 0.00,-24.11 C5.83,-25.95 9.28,-21.05 8.84,-15.18 C7.95,-7.34 1.47,-2.45 0.00,0.00 Z" fill="url(#pr)" stroke="#2a0705" stroke-width="1.4"/><path d="M-1.10,-6.12 C-7.42,-11.21 -7.81,-17.22 -5.48,-21.54 C-3.53,-17.22 -3.73,-11.21 -1.10,-6.12 Z" fill="#c21a16" opacity="0.7"/><path d="M-0.12,-2.94 C-5.02,-9.24 -5.91,-16.69 -0.60,-22.03 C3.81,-16.69 3.37,-9.24 -0.12,-2.94 Z" fill="#f0603a" opacity="0.9"/><path d="M0.21,-4.90 C-0.35,-9.10 -0.64,-14.06 1.06,-17.63 C2.47,-14.06 2.33,-9.10 0.21,-4.90 Z" fill="#f7895a" opacity="0.8"/><path d="M-0.25,-7.34 C-1.86,-11.87 -1.98,-17.21 -1.24,-21.05 C-0.62,-17.21 -0.68,-11.87 -0.25,-7.34 Z" fill="#e3301f" opacity="0.55"/></g><g transform="rotate(210)"><path d="M0,0 C-1.47,-2.45 -9.63,-7.34 -10.70,-15.18 C-11.23,-21.05 -7.06,-25.95 0.00,-24.11 C7.06,-25.95 11.23,-21.05 10.70,-15.18 C9.63,-7.34 1.47,-2.45 0.00,0.00 Z" fill="url(#pr)" stroke="#2a0705" stroke-width="1.4"/><path d="M1.33,-6.12 C4.28,-11.21 3.81,-17.22 6.63,-21.54 C8.99,-17.22 8.75,-11.21 1.33,-6.12 Z" fill="#c21a16" opacity="0.7"/><path d="M0.02,-2.94 C-5.27,-9.24 -6.34,-16.69 0.08,-22.03 C5.43,-16.69 4.89,-9.24 0.02,-2.94 Z" fill="#f0603a" opacity="0.9"/><path d="M-0.26,-4.90 C-3.00,-9.10 -3.34,-14.06 -1.28,-17.63 C0.43,-14.06 0.26,-9.10 -0.26,-4.90 Z" fill="#f7895a" opacity="0.8"/><path d="M0.30,-7.34 C0.75,-11.87 0.60,-17.21 1.50,-21.05 C2.25,-17.21 2.17,-11.87 0.30,-7.34 Z" fill="#e3301f" opacity="0.55"/></g><g transform="rotate(111)"><path d="M0,0 C-1.86,-3.10 -11.67,-9.30 -12.96,-19.22 C-13.61,-26.67 -8.55,-32.87 0.00,-30.54 C8.55,-32.87 13.61,-26.67 12.96,-19.22 C11.67,-9.30 1.86,-3.10 0.00,0.00 Z" fill="url(#pr)" stroke="#2a0705" stroke-width="1.4"/><path d="M1.61,-7.75 C5.18,-14.20 4.61,-21.82 8.04,-27.29 C10.89,-21.82 10.60,-14.20 1.61,-7.75 Z" fill="#c21a16" opacity="0.7"/><path d="M-0.05,-3.72 C-6.74,-11.70 -8.03,-21.14 -0.26,-27.91 C6.23,-21.14 5.58,-11.70 -0.05,-3.72 Z" fill="#f0603a" opacity="0.9"/><path d="M-0.31,-6.20 C-3.63,-11.52 -4.04,-17.81 -1.56,-22.33 C0.52,-17.81 0.31,-11.52 -0.31,-6.20 Z" fill="#f7895a" opacity="0.8"/><path d="M0.36,-9.30 C0.91,-15.03 0.73,-21.80 1.81,-26.67 C2.72,-21.80 2.63,-15.03 0.36,-9.30 Z" fill="#e3301f" opacity="0.55"/></g><g transform="rotate(42)"><path d="M0,0 C-1.60,-2.67 -9.57,-8.00 -10.64,-16.53 C-11.17,-22.92 -7.02,-28.26 0.00,-26.26 C7.02,-28.26 11.17,-22.92 10.64,-16.53 C9.57,-8.00 1.60,-2.67 0.00,0.00 Z" fill="url(#pr)" stroke="#2a0705" stroke-width="1.4"/><path d="M-1.32,-6.66 C-8.93,-12.21 -9.40,-18.76 -6.59,-23.46 C-4.25,-18.76 -4.49,-12.21 -1.32,-6.66 Z" fill="#c21a16" opacity="0.7"/><path d="M-0.11,-3.20 C-5.89,-10.06 -6.95,-18.17 -0.57,-23.99 C4.75,-18.17 4.21,-10.06 -0.11,-3.20 Z" fill="#f0603a" opacity="0.9"/><path d="M0.26,-5.33 C-0.43,-9.91 -0.77,-15.31 1.28,-19.19 C2.98,-15.31 2.81,-9.91 0.26,-5.33 Z" fill="#f7895a" opacity="0.8"/><path d="M-0.30,-8.00 C-2.23,-12.92 -2.38,-18.74 -1.49,-22.92 C-0.74,-18.74 -0.82,-12.92 -0.30,-8.00 Z" fill="#e3301f" opacity="0.55"/></g><g transform="rotate(-22)"><path d="M0,0 C-1.58,-2.64 -8.57,-7.92 -9.52,-16.36 C-10.00,-22.69 -6.29,-27.97 0.00,-25.99 C6.29,-27.97 10.00,-22.69 9.52,-16.36 C8.57,-7.92 1.58,-2.64 0.00,0.00 Z" fill="url(#pr)" stroke="#2a0705" stroke-width="1.4"/><path d="M-1.18,-6.60 C-8.00,-12.08 -8.42,-18.56 -5.91,-23.22 C-3.81,-18.56 -4.02,-12.08 -1.18,-6.60 Z" fill="#c21a16" opacity="0.7"/><path d="M0.16,-3.17 C-3.99,-9.96 -4.94,-17.98 0.78,-23.75 C5.54,-17.98 5.06,-9.96 0.16,-3.17 Z" fill="#f0603a" opacity="0.9"/><path d="M0.23,-5.28 C-0.38,-9.80 -0.69,-15.15 1.14,-19.00 C2.67,-15.15 2.51,-9.80 0.23,-5.28 Z" fill="#f7895a" opacity="0.8"/><path d="M-0.27,-7.92 C-2.00,-12.79 -2.13,-18.55 -1.33,-22.69 C-0.67,-18.55 -0.73,-12.79 -0.27,-7.92 Z" fill="#e3301f" opacity="0.55"/></g><circle r="15.0" fill="url(#glowR)"/><circle r="4.1" fill="#f0a23c" opacity="0.55"/><circle r="3.4" fill="#2f3812"/><circle r="2.3" fill="#9bb02e"/><circle r="1.1" fill="#6f8a22"/></g><g transform="translate(168.3,741.9)"><g fill="#190d0a" stroke="#190d0a" stroke-width="3.4" stroke-linejoin="round"><path d="M0,0 C-1.50,-2.50 -7.68,-7.49 -8.54,-15.48 C-8.96,-21.47 -5.63,-26.46 0.00,-24.59 C5.63,-26.46 8.96,-21.47 8.54,-15.48 C7.68,-7.49 1.50,-2.50 0.00,0.00 Z" transform="rotate(268)"/><path d="M0,0 C-1.87,-3.12 -12.27,-9.36 -13.63,-19.34 C-14.32,-26.83 -9.00,-33.07 0.00,-30.73 C9.00,-33.07 14.32,-26.83 13.63,-19.34 C12.27,-9.36 1.87,-3.12 0.00,0.00 Z" transform="rotate(142)"/><path d="M0,0 C-1.95,-3.24 -12.76,-9.73 -14.18,-20.12 C-14.89,-27.91 -9.36,-34.39 0.00,-31.96 C9.36,-34.39 14.89,-27.91 14.18,-20.12 C12.76,-9.73 1.95,-3.24 0.00,0.00 Z" transform="rotate(208)"/><path d="M0,0 C-1.68,-2.81 -10.80,-8.42 -12.00,-17.41 C-12.60,-24.15 -7.92,-29.76 0.00,-27.66 C7.92,-29.76 12.60,-24.15 12.00,-17.41 C10.80,-8.42 1.68,-2.81 0.00,0.00 Z" transform="rotate(70)"/><path d="M0,0 C-1.72,-2.87 -11.29,-8.61 -12.54,-17.80 C-13.17,-24.69 -8.28,-30.43 0.00,-28.27 C8.28,-30.43 13.17,-24.69 12.54,-17.80 C11.29,-8.61 1.72,-2.87 0.00,0.00 Z" transform="rotate(-56)"/><path d="M0,0 C-1.87,-3.12 -9.87,-9.36 -10.97,-19.34 C-11.52,-26.83 -7.24,-33.07 0.00,-30.73 C7.24,-33.07 11.52,-26.83 10.97,-19.34 C9.87,-9.36 1.87,-3.12 0.00,0.00 Z" transform="rotate(3)"/></g><g transform="rotate(268)"><path d="M0,0 C-1.50,-2.50 -7.68,-7.49 -8.54,-15.48 C-8.96,-21.47 -5.63,-26.46 0.00,-24.59 C5.63,-26.46 8.96,-21.47 8.54,-15.48 C7.68,-7.49 1.50,-2.50 0.00,0.00 Z" fill="url(#pr)" stroke="#2a0705" stroke-width="1.4"/><path d="M1.06,-6.24 C3.41,-11.43 3.04,-17.56 5.29,-21.96 C7.17,-17.56 6.98,-11.43 1.06,-6.24 Z" fill="#c21a16" opacity="0.7"/><path d="M0.10,-3.00 C-3.79,-9.42 -4.64,-17.01 0.48,-22.46 C4.75,-17.01 4.32,-9.42 0.10,-3.00 Z" fill="#f0603a" opacity="0.9"/><path d="M-0.20,-4.99 C-2.39,-9.28 -2.66,-14.34 -1.02,-17.97 C0.34,-14.34 0.20,-9.28 -0.20,-4.99 Z" fill="#f7895a" opacity="0.8"/><path d="M0.24,-7.49 C0.60,-12.10 0.48,-17.55 1.20,-21.47 C1.79,-17.55 1.73,-12.10 0.24,-7.49 Z" fill="#e3301f" opacity="0.55"/></g><g transform="rotate(142)"><path d="M0,0 C-1.87,-3.12 -12.27,-9.36 -13.63,-19.34 C-14.32,-26.83 -9.00,-33.07 0.00,-30.73 C9.00,-33.07 14.32,-26.83 13.63,-19.34 C12.27,-9.36 1.87,-3.12 0.00,0.00 Z" fill="url(#pr)" stroke="#2a0705" stroke-width="1.4"/><path d="M-1.69,-7.80 C-11.45,-14.29 -12.05,-21.95 -8.45,-27.46 C-5.45,-21.95 -5.75,-14.29 -1.69,-7.80 Z" fill="#c21a16" opacity="0.7"/><path d="M-0.17,-3.74 C-7.67,-11.77 -9.03,-21.27 -0.85,-28.08 C5.97,-21.27 5.29,-11.77 -0.17,-3.74 Z" fill="#f0603a" opacity="0.9"/><path d="M0.33,-6.24 C-0.55,-11.59 -0.98,-17.92 1.64,-22.46 C3.82,-17.92 3.60,-11.59 0.33,-6.24 Z" fill="#f7895a" opacity="0.8"/><path d="M-0.38,-9.36 C-2.86,-15.13 -3.05,-21.94 -1.91,-26.83 C-0.95,-21.94 -1.05,-15.13 -0.38,-9.36 Z" fill="#e3301f" opacity="0.55"/></g><g transform="rotate(208)"><path d="M0,0 C-1.95,-3.24 -12.76,-9.73 -14.18,-20.12 C-14.89,-27.91 -9.36,-34.39 0.00,-31.96 C9.36,-34.39 14.89,-27.91 14.18,-20.12 C12.76,-9.73 1.95,-3.24 0.00,0.00 Z" fill="url(#pr)" stroke="#2a0705" stroke-width="1.4"/><path d="M-1.76,-8.11 C-11.91,-14.86 -12.53,-22.83 -8.79,-28.55 C-5.67,-22.83 -5.98,-14.86 -1.76,-8.11 Z" fill="#c21a16" opacity="0.7"/><path d="M-0.10,-3.89 C-7.61,-12.25 -9.02,-22.12 -0.52,-29.20 C6.57,-22.12 5.87,-12.25 -0.10,-3.89 Z" fill="#f0603a" opacity="0.9"/><path d="M0.34,-6.49 C-0.57,-12.06 -1.02,-18.64 1.70,-23.36 C3.97,-18.64 3.74,-12.06 0.34,-6.49 Z" fill="#f7895a" opacity="0.8"/><path d="M-0.40,-9.73 C-2.98,-15.73 -3.18,-22.82 -1.99,-27.91 C-0.99,-22.82 -1.09,-15.73 -0.40,-9.73 Z" fill="#e3301f" opacity="0.55"/></g><g transform="rotate(70)"><path d="M0,0 C-1.68,-2.81 -10.80,-8.42 -12.00,-17.41 C-12.60,-24.15 -7.92,-29.76 0.00,-27.66 C7.92,-29.76 12.60,-24.15 12.00,-17.41 C10.80,-8.42 1.68,-2.81 0.00,0.00 Z" fill="url(#pr)" stroke="#2a0705" stroke-width="1.4"/><path d="M-1.49,-7.02 C-10.08,-12.86 -10.61,-19.76 -7.44,-24.71 C-4.80,-19.76 -5.07,-12.86 -1.49,-7.02 Z" fill="#c21a16" opacity="0.7"/><path d="M0.15,-3.37 C-5.28,-10.60 -6.48,-19.14 0.73,-25.27 C6.73,-19.14 6.13,-10.60 0.15,-3.37 Z" fill="#f0603a" opacity="0.9"/><path d="M0.29,-5.62 C-0.48,-10.43 -0.86,-16.13 1.44,-20.22 C3.36,-16.13 3.17,-10.43 0.29,-5.62 Z" fill="#f7895a" opacity="0.8"/><path d="M-0.34,-8.42 C-2.52,-13.61 -2.69,-19.75 -1.68,-24.15 C-0.84,-19.75 -0.92,-13.61 -0.34,-8.42 Z" fill="#e3301f" opacity="0.55"/></g><g transform="rotate(-56)"><path d="M0,0 C-1.72,-2.87 -11.29,-8.61 -12.54,-17.80 C-13.17,-24.69 -8.28,-30.43 0.00,-28.27 C8.28,-30.43 13.17,-24.69 12.54,-17.80 C11.29,-8.61 1.72,-2.87 0.00,0.00 Z" fill="url(#pr)" stroke="#2a0705" stroke-width="1.4"/><path d="M1.56,-7.18 C5.02,-13.14 4.47,-20.20 7.78,-25.26 C10.54,-20.20 10.26,-13.14 1.56,-7.18 Z" fill="#c21a16" opacity="0.7"/><path d="M-0.01,-3.44 C-6.33,-10.83 -7.59,-19.56 -0.06,-25.83 C6.21,-19.56 5.58,-10.83 -0.01,-3.44 Z" fill="#f0603a" opacity="0.9"/><path d="M-0.30,-5.74 C-3.51,-10.67 -3.91,-16.49 -1.51,-20.67 C0.50,-16.49 0.30,-10.67 -0.30,-5.74 Z" fill="#f7895a" opacity="0.8"/><path d="M0.35,-8.61 C0.88,-13.92 0.70,-20.18 1.76,-24.69 C2.63,-20.18 2.55,-13.92 0.35,-8.61 Z" fill="#e3301f" opacity="0.55"/></g><g transform="rotate(3)"><path d="M0,0 C-1.87,-3.12 -9.87,-9.36 -10.97,-19.34 C-11.52,-26.83 -7.24,-33.07 0.00,-30.73 C7.24,-33.07 11.52,-26.83 10.97,-19.34 C9.87,-9.36 1.87,-3.12 0.00,0.00 Z" fill="url(#pr)" stroke="#2a0705" stroke-width="1.4"/><path d="M1.36,-7.80 C4.39,-14.29 3.90,-21.95 6.80,-27.46 C9.21,-21.95 8.97,-14.29 1.36,-7.80 Z" fill="#c21a16" opacity="0.7"/><path d="M0.11,-3.74 C-4.95,-11.77 -6.05,-21.27 0.53,-28.08 C6.02,-21.27 5.47,-11.77 0.11,-3.74 Z" fill="#f0603a" opacity="0.9"/><path d="M-0.26,-6.24 C-3.07,-11.59 -3.42,-17.92 -1.32,-22.46 C0.44,-17.92 0.26,-11.59 -0.26,-6.24 Z" fill="#f7895a" opacity="0.8"/><path d="M0.31,-9.36 C0.77,-15.13 0.61,-21.94 1.54,-26.83 C2.30,-21.94 2.23,-15.13 0.31,-9.36 Z" fill="#e3301f" opacity="0.55"/></g><circle r="17.2" fill="url(#glowR)"/><circle r="4.7" fill="#f0a23c" opacity="0.55"/><circle r="3.9" fill="#2f3812"/><circle r="2.7" fill="#9bb02e"/><circle r="1.2" fill="#6f8a22"/></g></g>
<g transform="translate(227.3,-0.4)"><g filter="url(#soft)" fill="#dfe6ca"><path d="M134,861 L113,861.5 Q107,864 110,871 Q106,878 110,885 Q99,888 99.5,896 Q102,904 112,912 Q122,919 136,921 L140,900Z"/><path d="M210,861 L231,861.5 Q234,866 230,873 Q233,880 238,884 Q244,889 241.5,897 Q237,906 228,914 Q217,920 205,919 L204,900Z"/><path d="M205,800 Q212,795 223,797 Q227,802 225,812 Q224,822 217,827 Q206,830 200,822Z" fill="#eceede" opacity="0.9"/></g><ellipse cx="171.85" cy="865.6" rx="43.6" ry="3.0" fill="#e6c6bb" stroke="#1a1110" stroke-width="1.3"/><path d="M161.8,868.0C160.5,865.6 158.6,860.7 154.0,853.8C149.4,846.9 142.0,834.7 134.5,826.4C127.0,818.1 117.6,808.2 109.1,804.0C100.6,799.8 87.6,801.8 83.3,801.4C86.0,803.3 92.4,806.9 99.3,812.7C106.2,818.5 117.5,829.4 124.7,836.2C131.9,843.1 137.8,848.5 142.3,853.8C146.9,859.1 150.4,865.6 152.0,868.0Z" fill="url(#lfB)" stroke="#16210c" stroke-width="1.9" stroke-linejoin="round"/><path d="M156.9,868.0C155.4,865.6 152.7,859.9 148.2,853.8C143.6,847.7 136.9,838.9 129.6,831.3C122.3,823.7 111.9,813.3 104.2,808.4C96.5,803.4 86.8,802.6 83.3,801.4" fill="none" stroke="#8fc04a" stroke-width="1.1" opacity="0.75" stroke-linecap="round"/><path d="M156.9,868.0C155.4,865.6 152.7,859.9 148.2,853.8C143.6,847.7 136.9,838.9 129.6,831.3C122.3,823.7 111.9,813.3 104.2,808.4C96.5,803.4 86.8,802.6 83.3,801.4C86.0,803.3 92.4,806.9 99.3,812.7C106.2,818.5 117.5,829.4 124.7,836.2C131.9,843.1 137.8,848.5 142.3,853.8C146.9,859.1 150.4,865.6 152.0,868.0Z" fill="#2f5f18" opacity="0.22"/><path d="M179.4,868.0C180.7,865.4 182.6,858.7 187.2,852.5C191.8,846.4 199.5,836.8 206.7,830.9C213.9,825.0 222.5,819.3 230.2,817.0C237.9,814.6 249.3,816.8 253.1,816.8C250.9,818.4 246.0,821.9 239.9,826.5C233.8,831.1 223.7,838.6 216.5,844.2C209.3,849.9 201.6,856.1 197.0,860.1C192.4,864.1 190.4,866.7 189.1,868.0Z" fill="url(#lfB)" stroke="#16210c" stroke-width="1.9" stroke-linejoin="round"/><path d="M184.2,868.0C185.6,866.1 187.5,861.4 192.1,856.3C196.7,851.3 204.4,843.3 211.6,837.6C218.8,831.8 228.1,825.2 235.1,821.7C242.0,818.3 250.1,817.6 253.1,816.8" fill="none" stroke="#8fc04a" stroke-width="1.1" opacity="0.75" stroke-linecap="round"/><path d="M184.2,868.0C185.6,866.1 187.5,861.4 192.1,856.3C196.7,851.3 204.4,843.3 211.6,837.6C218.8,831.8 228.1,825.2 235.1,821.7C242.0,818.3 250.1,817.6 253.1,816.8C250.9,818.4 246.0,821.9 239.9,826.5C233.8,831.1 223.7,838.6 216.5,844.2C209.3,849.9 201.6,856.1 197.0,860.1C192.4,864.1 190.4,866.7 189.1,868.0Z" fill="#2f5f18" opacity="0.22"/><path d="M152.0,867.0C150.7,865.5 148.8,861.5 144.2,857.7C139.6,853.9 131.5,846.9 124.7,844.0C117.9,841.1 106.8,841.1 103.2,840.5C105.2,842.4 109.7,848.0 114.9,851.8C120.1,855.6 129.8,860.8 134.5,863.5C139.2,866.2 141.6,867.2 143.0,868.0Z" fill="url(#lfB)" stroke="#16210c" stroke-width="1.9" stroke-linejoin="round"/><path d="M147.5,867.5C146.1,866.4 144.0,863.9 139.3,860.6C134.7,857.3 125.8,851.2 119.8,847.9C113.8,844.5 106.0,841.7 103.2,840.5" fill="none" stroke="#8fc04a" stroke-width="1.1" opacity="0.75" stroke-linecap="round"/><path d="M147.5,867.5C146.1,866.4 144.0,863.9 139.3,860.6C134.7,857.3 125.8,851.2 119.8,847.9C113.8,844.5 106.0,841.7 103.2,840.5C105.2,842.4 109.7,848.0 114.9,851.8C120.1,855.6 129.8,860.8 134.5,863.5C139.2,866.2 141.6,867.2 143.0,868.0Z" fill="#2f5f18" opacity="0.22"/><path d="M189.1,867.0C190.7,865.1 194.7,859.5 198.9,855.7C203.1,851.9 208.3,846.5 214.5,844.0C220.7,841.5 232.4,841.1 236.0,840.5C234.4,841.7 230.5,844.7 226.3,847.9C222.1,851.1 215.3,856.2 210.6,859.6C205.9,863.0 200.1,866.6 198.0,868.0Z" fill="url(#lfB)" stroke="#16210c" stroke-width="1.9" stroke-linejoin="round"/><path d="M193.6,867.5C195.4,865.9 200.3,861.2 204.8,857.7C209.2,854.1 215.2,848.8 220.4,846.0C225.6,843.1 233.4,841.4 236.0,840.5" fill="none" stroke="#8fc04a" stroke-width="1.1" opacity="0.75" stroke-linecap="round"/><path d="M193.6,867.5C195.4,865.9 200.3,861.2 204.8,857.7C209.2,854.1 215.2,848.8 220.4,846.0C225.6,843.1 233.4,841.4 236.0,840.5C234.4,841.7 230.5,844.7 226.3,847.9C222.1,851.1 215.3,856.2 210.6,859.6C205.9,863.0 200.1,866.6 198.0,868.0Z" fill="#2f5f18" opacity="0.22"/><path d="M159.8,868.0C157.9,863.0 152.0,848.0 148.1,838.1C144.2,828.2 139.8,817.6 136.4,808.8C133.0,799.9 129.1,789.0 127.6,785.0C131.0,789.6 142.4,803.9 148.1,812.7C153.8,821.6 158.5,828.9 161.8,838.1C165.1,847.3 166.7,863.0 167.7,868.0Z" fill="url(#lfB)" stroke="#16210c" stroke-width="1.9" stroke-linejoin="round"/><path d="M163.8,868.0C162.3,863.0 158.5,847.6 154.9,838.1C151.4,828.6 146.8,819.6 142.2,810.8C137.7,801.9 130.0,789.3 127.6,785.0" fill="none" stroke="#8fc04a" stroke-width="1.1" opacity="0.75" stroke-linecap="round"/><path d="M163.8,868.0C162.3,863.0 158.5,847.6 154.9,838.1C151.4,828.6 146.8,819.6 142.2,810.8C137.7,801.9 130.0,789.3 127.6,785.0C131.0,789.6 142.4,803.9 148.1,812.7C153.8,821.6 158.5,828.9 161.8,838.1C165.1,847.3 166.7,863.0 167.7,868.0Z" fill="#2f5f18" opacity="0.22"/><path d="M174.5,868.0C175.3,862.0 176.0,843.1 179.4,832.3C182.8,821.5 188.3,811.8 195.0,803.0C201.7,794.2 215.3,783.4 219.4,779.5C217.3,784.1 211.4,797.1 206.7,806.9C202.0,816.7 195.3,827.9 191.1,838.1C186.9,848.3 182.9,863.0 181.3,868.0Z" fill="url(#lfB)" stroke="#16210c" stroke-width="1.9" stroke-linejoin="round"/><path d="M177.9,868.0C179.1,862.5 181.4,845.7 185.2,835.2C189.1,824.7 195.2,814.2 200.8,805.0C206.5,795.7 216.3,783.7 219.4,779.5" fill="none" stroke="#8fc04a" stroke-width="1.1" opacity="0.75" stroke-linecap="round"/><path d="M177.9,868.0C179.1,862.5 181.4,845.7 185.2,835.2C189.1,824.7 195.2,814.2 200.8,805.0C206.5,795.7 216.3,783.7 219.4,779.5C217.3,784.1 211.4,797.1 206.7,806.9C202.0,816.7 195.3,827.9 191.1,838.1C186.9,848.3 182.9,863.0 181.3,868.0Z" fill="#2f5f18" opacity="0.22"/><path d="M138.4,764.9C139.7,767.1 143.7,773.3 146.0,778.0C148.3,782.7 149.7,786.1 152.0,793.2C154.3,800.3 157.7,812.7 159.8,820.5C161.9,828.3 163.7,836.8 164.5,840.0" fill="none" stroke="#2a4f17" stroke-width="3.3" stroke-linecap="round"/><path d="M138.4,764.9C139.7,767.1 143.7,773.3 146.0,778.0C148.3,782.7 149.7,786.1 152.0,793.2C154.3,800.3 157.7,812.7 159.8,820.5C161.9,828.3 163.7,836.8 164.5,840.0" fill="none" stroke="#5a962e" stroke-width="1.9" stroke-linecap="round"/><path d="M197.0,764.9C195.7,767.1 191.3,773.3 189.0,778.0C186.7,782.7 185.4,786.4 183.3,793.2C181.2,800.0 177.9,810.8 176.4,818.6C174.9,826.4 174.6,836.4 174.2,840.0" fill="none" stroke="#2a4f17" stroke-width="3.3" stroke-linecap="round"/><path d="M197.0,764.9C195.7,767.1 191.3,773.3 189.0,778.0C186.7,782.7 185.4,786.4 183.3,793.2C181.2,800.0 177.9,810.8 176.4,818.6C174.9,826.4 174.6,836.4 174.2,840.0" fill="none" stroke="#5a962e" stroke-width="1.9" stroke-linecap="round"/><path d="M165.5,868.0C165.6,863.0 165.5,849.3 165.8,838.0C166.1,826.7 166.9,811.2 167.5,800.0C168.1,788.8 169.2,775.8 169.6,771.0C170.1,775.8 171.6,788.8 172.4,800.0C173.2,811.2 174.2,826.7 174.6,838.0C175.0,849.3 174.9,863.0 175.0,868.0Z" fill="url(#lfC)" stroke="#16210c" stroke-width="1.5" stroke-linejoin="round"/><path d="M128.2,865.4 Q172,871.6 215.5,865.4 C215.3,878 214.8,888 213.6,896.7 C212,906 210,913 206.7,918.2 C203,923 198,927.4 191.1,929.2 C185,930.6 178,931 171.6,931 C166,931 160,930.6 152,928.4 C147,927.4 142,925 137.4,918.2 C134,914 132,908 130.5,896.7 C129.5,890 129,880 128.2,865.4 Z" fill="url(#potg)" stroke="#1a1110" stroke-width="1.8" stroke-linejoin="round"/><path d="M148,877 Q170,873 196,877 Q200,890 197,900 Q201,910 194,922 Q172,928 150,922 Q143,908 146,898 Q143,886 148,877Z" fill="#e0b9ad" opacity="0.6" filter="url(#soft2)"/><g transform="translate(120.1,743.1)"><g fill="#190d0a" stroke="#190d0a" stroke-width="3.4" stroke-linejoin="round"><path d="M0,0 C-1.47,-2.45 -7.95,-7.34 -8.84,-15.18 C-9.28,-21.05 -5.83,-25.95 0.00,-24.11 C5.83,-25.95 9.28,-21.05 8.84,-15.18 C7.95,-7.34 1.47,-2.45 0.00,0.00 Z" transform="rotate(75)"/><path d="M0,0 C-1.47,-2.45 -9.63,-7.34 -10.70,-15.18 C-11.23,-21.05 -7.06,-25.95 0.00,-24.11 C7.06,-25.95 11.23,-21.05 10.70,-15.18 C9.63,-7.34 1.47,-2.45 0.00,0.00 Z" transform="rotate(138)"/><path d="M0,0 C-1.89,-3.16 -11.87,-9.47 -13.19,-19.56 C-13.85,-27.13 -8.70,-33.45 0.00,-31.08 C8.70,-33.45 13.85,-27.13 13.19,-19.56 C11.87,-9.47 1.89,-3.16 0.00,0.00 Z" transform="rotate(226)"/><path d="M0,0 C-1.71,-2.86 -10.26,-8.57 -11.40,-17.71 C-11.97,-24.56 -7.52,-30.27 0.00,-28.13 C7.52,-30.27 11.97,-24.56 11.40,-17.71 C10.26,-8.57 1.71,-2.86 0.00,0.00 Z" transform="rotate(-65)"/><path d="M0,0 C-1.62,-2.69 -8.75,-8.08 -9.72,-16.70 C-10.21,-23.16 -6.42,-28.54 0.00,-26.52 C6.42,-28.54 10.21,-23.16 9.72,-16.70 C8.75,-8.08 1.62,-2.69 0.00,0.00 Z" transform="rotate(10)"/></g><g transform="rotate(75)"><path d="M0,0 C-1.47,-2.45 -7.95,-7.34 -8.84,-15.18 C-9.28,-21.05 -5.83,-25.95 0.00,-24.11 C5.83,-25.95 9.28,-21.05 8.84,-15.18 C7.95,-7.34 1.47,-2.45 0.00,0.00 Z" fill="url(#pr)" stroke="#2a0705" stroke-width="1.4"/><path d="M-1.10,-6.12 C-7.42,-11.21 -7.81,-17.22 -5.48,-21.54 C-3.53,-17.22 -3.73,-11.21 -1.10,-6.12 Z" fill="#c21a16" opacity="0.7"/><path d="M-0.08,-2.94 C-4.80,-9.24 -5.69,-16.69 -0.39,-22.03 C4.03,-16.69 3.59,-9.24 -0.08,-2.94 Z" fill="#f0603a" opacity="0.9"/><path d="M0.21,-4.90 C-0.35,-9.10 -0.64,-14.06 1.06,-17.63 C2.47,-14.06 2.33,-9.10 0.21,-4.90 Z" fill="#f7895a" opacity="0.8"/><path d="M-0.25,-7.34 C-1.86,-11.87 -1.98,-17.21 -1.24,-21.05 C-0.62,-17.21 -0.68,-11.87 -0.25,-7.34 Z" fill="#e3301f" opacity="0.55"/></g><g transform="rotate(138)"><path d="M0,0 C-1.47,-2.45 -9.63,-7.34 -10.70,-15.18 C-11.23,-21.05 -7.06,-25.95 0.00,-24.11 C7.06,-25.95 11.23,-21.05 10.70,-15.18 C9.63,-7.34 1.47,-2.45 0.00,0.00 Z" fill="url(#pr)" stroke="#2a0705" stroke-width="1.4"/><path d="M1.33,-6.12 C4.28,-11.21 3.81,-17.22 6.63,-21.54 C8.99,-17.22 8.75,-11.21 1.33,-6.12 Z" fill="#c21a16" opacity="0.7"/><path d="M-0.01,-2.94 C-5.39,-9.24 -6.46,-16.69 -0.04,-22.03 C5.31,-16.69 4.77,-9.24 -0.01,-2.94 Z" fill="#f0603a" opacity="0.9"/><path d="M-0.26,-4.90 C-3.00,-9.10 -3.34,-14.06 -1.28,-17.63 C0.43,-14.06 0.26,-9.10 -0.26,-4.90 Z" fill="#f7895a" opacity="0.8"/><path d="M0.30,-7.34 C0.75,-11.87 0.60,-17.21 1.50,-21.05 C2.25,-17.21 2.17,-11.87 0.30,-7.34 Z" fill="#e3301f" opacity="0.55"/></g><g transform="rotate(226)"><path d="M0,0 C-1.89,-3.16 -11.87,-9.47 -13.19,-19.56 C-13.85,-27.13 -8.70,-33.45 0.00,-31.08 C8.70,-33.45 13.85,-27.13 13.19,-19.56 C11.87,-9.47 1.89,-3.16 0.00,0.00 Z" fill="url(#pr)" stroke="#2a0705" stroke-width="1.4"/><path d="M-1.64,-7.89 C-11.08,-14.45 -11.66,-22.20 -8.18,-27.77 C-5.28,-22.20 -5.57,-14.45 -1.64,-7.89 Z" fill="#c21a16" opacity="0.7"/><path d="M-0.22,-3.79 C-7.69,-11.91 -9.01,-21.51 -1.09,-28.40 C5.50,-21.51 4.84,-11.91 -0.22,-3.79 Z" fill="#f0603a" opacity="0.9"/><path d="M0.32,-6.31 C-0.53,-11.72 -0.95,-18.12 1.58,-22.72 C3.69,-18.12 3.48,-11.72 0.32,-6.31 Z" fill="#f7895a" opacity="0.8"/><path d="M-0.37,-9.47 C-2.77,-15.30 -2.95,-22.19 -1.85,-27.13 C-0.92,-22.19 -1.02,-15.30 -0.37,-9.47 Z" fill="#e3301f" opacity="0.55"/></g><g transform="rotate(-65)"><path d="M0,0 C-1.71,-2.86 -10.26,-8.57 -11.40,-17.71 C-11.97,-24.56 -7.52,-30.27 0.00,-28.13 C7.52,-30.27 11.97,-24.56 11.40,-17.71 C10.26,-8.57 1.71,-2.86 0.00,0.00 Z" fill="url(#pr)" stroke="#2a0705" stroke-width="1.4"/><path d="M1.41,-7.14 C4.56,-13.08 4.06,-20.09 7.07,-25.13 C9.57,-20.09 9.32,-13.08 1.41,-7.14 Z" fill="#c21a16" opacity="0.7"/><path d="M0.02,-3.43 C-5.58,-10.78 -6.72,-19.47 0.11,-25.70 C5.81,-19.47 5.24,-10.78 0.02,-3.43 Z" fill="#f0603a" opacity="0.9"/><path d="M-0.27,-5.71 C-3.19,-10.61 -3.56,-16.40 -1.37,-20.56 C0.46,-16.40 0.27,-10.61 -0.27,-5.71 Z" fill="#f7895a" opacity="0.8"/><path d="M0.32,-8.57 C0.80,-13.85 0.64,-20.08 1.60,-24.56 C2.39,-20.08 2.31,-13.85 0.32,-8.57 Z" fill="#e3301f" opacity="0.55"/></g><g transform="rotate(10)"><path d="M0,0 C-1.62,-2.69 -8.75,-8.08 -9.72,-16.70 C-10.21,-23.16 -6.42,-28.54 0.00,-26.52 C6.42,-28.54 10.21,-23.16 9.72,-16.70 C8.75,-8.08 1.62,-2.69 0.00,0.00 Z" fill="url(#pr)" stroke="#2a0705" stroke-width="1.4"/><path d="M1.21,-6.73 C3.89,-12.33 3.46,-18.95 6.03,-23.70 C8.17,-18.95 7.95,-12.33 1.21,-6.73 Z" fill="#c21a16" opacity="0.7"/><path d="M0.13,-3.23 C-4.21,-10.16 -5.19,-18.35 0.65,-24.24 C5.51,-18.35 5.02,-10.16 0.13,-3.23 Z" fill="#f0603a" opacity="0.9"/><path d="M-0.23,-5.39 C-2.72,-10.01 -3.03,-15.47 -1.17,-19.39 C0.39,-15.47 0.23,-10.01 -0.23,-5.39 Z" fill="#f7895a" opacity="0.8"/><path d="M0.27,-8.08 C0.68,-13.05 0.54,-18.94 1.36,-23.16 C2.04,-18.94 1.97,-13.05 0.27,-8.08 Z" fill="#e3301f" opacity="0.55"/></g><circle r="15.0" fill="url(#glowR)"/><circle r="4.1" fill="#f0a23c" opacity="0.55"/><circle r="3.4" fill="#2f3812"/><circle r="2.3" fill="#9bb02e"/><circle r="1.1" fill="#6f8a22"/></g><g transform="translate(217.0,742.1)"><g fill="#190d0a" stroke="#190d0a" stroke-width="3.4" stroke-linejoin="round"><path d="M0,0 C-1.47,-2.45 -7.95,-7.34 -8.84,-15.18 C-9.28,-21.05 -5.83,-25.95 0.00,-24.11 C5.83,-25.95 9.28,-21.05 8.84,-15.18 C7.95,-7.34 1.47,-2.45 0.00,0.00 Z" transform="rotate(280)"/><path d="M0,0 C-1.47,-2.45 -9.63,-7.34 -10.70,-15.18 C-11.23,-21.05 -7.06,-25.95 0.00,-24.11 C7.06,-25.95 11.23,-21.05 10.70,-15.18 C9.63,-7.34 1.47,-2.45 0.00,0.00 Z" transform="rotate(210)"/><path d="M0,0 C-1.86,-3.10 -11.67,-9.30 -12.96,-19.22 C-13.61,-26.67 -8.55,-32.87 0.00,-30.54 C8.55,-32.87 13.61,-26.67 12.96,-19.22 C11.67,-9.30 1.86,-3.10 0.00,0.00 Z" transform="rotate(111)"/><path d="M0,0 C-1.60,-2.67 -9.57,-8.00 -10.64,-16.53 C-11.17,-22.92 -7.02,-28.26 0.00,-26.26 C7.02,-28.26 11.17,-22.92 10.64,-16.53 C9.57,-8.00 1.60,-2.67 0.00,0.00 Z" transform="rotate(42)"/><path d="M0,0 C-1.58,-2.64 -8.57,-7.92 -9.52,-16.36 C-10.00,-22.69 -6.29,-27.97 0.00,-25.99 C6.29,-27.97 10.00,-22.69 9.52,-16.36 C8.57,-7.92 1.58,-2.64 0.00,0.00 Z" transform="rotate(-22)"/></g><g transform="rotate(280)"><path d="M0,0 C-1.47,-2.45 -7.95,-7.34 -8.84,-15.18 C-9.28,-21.05 -5.83,-25.95 0.00,-24.11 C5.83,-25.95 9.28,-21.05 8.84,-15.18 C7.95,-7.34 1.47,-2.45 0.00,0.00 Z" fill="url(#pr)" stroke="#2a0705" stroke-width="1.4"/><path d="M-1.10,-6.12 C-7.42,-11.21 -7.81,-17.22 -5.48,-21.54 C-3.53,-17.22 -3.73,-11.21 -1.10,-6.12 Z" fill="#c21a16" opacity="0.7"/><path d="M-0.11,-2.94 C-4.96,-9.24 -5.85,-16.69 -0.54,-22.03 C3.87,-16.69 3.43,-9.24 -0.11,-2.94 Z" fill="#f0603a" opacity="0.9"/><path d="M0.21,-4.90 C-0.35,-9.10 -0.64,-14.06 1.06,-17.63 C2.47,-14.06 2.33,-9.10 0.21,-4.90 Z" fill="#f7895a" opacity="0.8"/><path d="M-0.25,-7.34 C-1.86,-11.87 -1.98,-17.21 -1.24,-21.05 C-0.62,-17.21 -0.68,-11.87 -0.25,-7.34 Z" fill="#e3301f" opacity="0.55"/></g><g transform="rotate(210)"><path d="M0,0 C-1.47,-2.45 -9.63,-7.34 -10.70,-15.18 C-11.23,-21.05 -7.06,-25.95 0.00,-24.11 C7.06,-25.95 11.23,-21.05 10.70,-15.18 C9.63,-7.34 1.47,-2.45 0.00,0.00 Z" fill="url(#pr)" stroke="#2a0705" stroke-width="1.4"/><path d="M1.33,-6.12 C4.28,-11.21 3.81,-17.22 6.63,-21.54 C8.99,-17.22 8.75,-11.21 1.33,-6.12 Z" fill="#c21a16" opacity="0.7"/><path d="M-0.09,-2.94 C-5.79,-9.24 -6.86,-16.69 -0.44,-22.03 C4.91,-16.69 4.38,-9.24 -0.09,-2.94 Z" fill="#f0603a" opacity="0.9"/><path d="M-0.26,-4.90 C-3.00,-9.10 -3.34,-14.06 -1.28,-17.63 C0.43,-14.06 0.26,-9.10 -0.26,-4.90 Z" fill="#f7895a" opacity="0.8"/><path d="M0.30,-7.34 C0.75,-11.87 0.60,-17.21 1.50,-21.05 C2.25,-17.21 2.17,-11.87 0.30,-7.34 Z" fill="#e3301f" opacity="0.55"/></g><g transform="rotate(111)"><path d="M0,0 C-1.86,-3.10 -11.67,-9.30 -12.96,-19.22 C-13.61,-26.67 -8.55,-32.87 0.00,-30.54 C8.55,-32.87 13.61,-26.67 12.96,-19.22 C11.67,-9.30 1.86,-3.10 0.00,0.00 Z" fill="url(#pr)" stroke="#2a0705" stroke-width="1.4"/><path d="M-1.61,-7.75 C-10.89,-14.20 -11.46,-21.82 -8.04,-27.29 C-5.18,-21.82 -5.47,-14.20 -1.61,-7.75 Z" fill="#c21a16" opacity="0.7"/><path d="M0.16,-3.72 C-5.67,-11.70 -6.97,-21.14 0.81,-27.91 C7.29,-21.14 6.64,-11.70 0.16,-3.72 Z" fill="#f0603a" opacity="0.9"/><path d="M0.31,-6.20 C-0.52,-11.52 -0.93,-17.81 1.56,-22.33 C3.63,-17.81 3.42,-11.52 0.31,-6.20 Z" fill="#f7895a" opacity="0.8"/><path d="M-0.36,-9.30 C-2.72,-15.03 -2.90,-21.80 -1.81,-26.67 C-0.91,-21.80 -1.00,-15.03 -0.36,-9.30 Z" fill="#e3301f" opacity="0.55"/></g><g transform="rotate(42)"><path d="M0,0 C-1.60,-2.67 -9.57,-8.00 -10.64,-16.53 C-11.17,-22.92 -7.02,-28.26 0.00,-26.26 C7.02,-28.26 11.17,-22.92 10.64,-16.53 C9.57,-8.00 1.60,-2.67 0.00,0.00 Z" fill="url(#pr)" stroke="#2a0705" stroke-width="1.4"/><path d="M1.32,-6.66 C4.25,-12.21 3.79,-18.76 6.59,-23.46 C8.93,-18.76 8.70,-12.21 1.32,-6.66 Z" fill="#c21a16" opacity="0.7"/><path d="M-0.12,-3.20 C-5.93,-10.06 -6.99,-18.17 -0.61,-23.99 C4.71,-18.17 4.18,-10.06 -0.12,-3.20 Z" fill="#f0603a" opacity="0.9"/><path d="M-0.26,-5.33 C-2.98,-9.91 -3.32,-15.31 -1.28,-19.19 C0.43,-15.31 0.26,-9.91 -0.26,-5.33 Z" fill="#f7895a" opacity="0.8"/><path d="M0.30,-8.00 C0.74,-12.92 0.60,-18.74 1.49,-22.92 C2.23,-18.74 2.16,-12.92 0.30,-8.00 Z" fill="#e3301f" opacity="0.55"/></g><g transform="rotate(-22)"><path d="M0,0 C-1.58,-2.64 -8.57,-7.92 -9.52,-16.36 C-10.00,-22.69 -6.29,-27.97 0.00,-25.99 C6.29,-27.97 10.00,-22.69 9.52,-16.36 C8.57,-7.92 1.58,-2.64 0.00,0.00 Z" fill="url(#pr)" stroke="#2a0705" stroke-width="1.4"/><path d="M-1.18,-6.60 C-8.00,-12.08 -8.42,-18.56 -5.91,-23.22 C-3.81,-18.56 -4.02,-12.08 -1.18,-6.60 Z" fill="#c21a16" opacity="0.7"/><path d="M0.14,-3.17 C-4.07,-9.96 -5.02,-17.98 0.69,-23.75 C5.46,-17.98 4.98,-9.96 0.14,-3.17 Z" fill="#f0603a" opacity="0.9"/><path d="M0.23,-5.28 C-0.38,-9.80 -0.69,-15.15 1.14,-19.00 C2.67,-15.15 2.51,-9.80 0.23,-5.28 Z" fill="#f7895a" opacity="0.8"/><path d="M-0.27,-7.92 C-2.00,-12.79 -2.13,-18.55 -1.33,-22.69 C-0.67,-18.55 -0.73,-12.79 -0.27,-7.92 Z" fill="#e3301f" opacity="0.55"/></g><circle r="15.0" fill="url(#glowR)"/><circle r="4.1" fill="#f0a23c" opacity="0.55"/><circle r="3.4" fill="#2f3812"/><circle r="2.3" fill="#9bb02e"/><circle r="1.1" fill="#6f8a22"/></g><g transform="translate(168.3,741.9)"><g fill="#190d0a" stroke="#190d0a" stroke-width="3.4" stroke-linejoin="round"><path d="M0,0 C-1.50,-2.50 -7.68,-7.49 -8.54,-15.48 C-8.96,-21.47 -5.63,-26.46 0.00,-24.59 C5.63,-26.46 8.96,-21.47 8.54,-15.48 C7.68,-7.49 1.50,-2.50 0.00,0.00 Z" transform="rotate(268)"/><path d="M0,0 C-1.87,-3.12 -12.27,-9.36 -13.63,-19.34 C-14.32,-26.83 -9.00,-33.07 0.00,-30.73 C9.00,-33.07 14.32,-26.83 13.63,-19.34 C12.27,-9.36 1.87,-3.12 0.00,0.00 Z" transform="rotate(142)"/><path d="M0,0 C-1.95,-3.24 -12.76,-9.73 -14.18,-20.12 C-14.89,-27.91 -9.36,-34.39 0.00,-31.96 C9.36,-34.39 14.89,-27.91 14.18,-20.12 C12.76,-9.73 1.95,-3.24 0.00,0.00 Z" transform="rotate(208)"/><path d="M0,0 C-1.68,-2.81 -10.80,-8.42 -12.00,-17.41 C-12.60,-24.15 -7.92,-29.76 0.00,-27.66 C7.92,-29.76 12.60,-24.15 12.00,-17.41 C10.80,-8.42 1.68,-2.81 0.00,0.00 Z" transform="rotate(70)"/><path d="M0,0 C-1.72,-2.87 -11.29,-8.61 -12.54,-17.80 C-13.17,-24.69 -8.28,-30.43 0.00,-28.27 C8.28,-30.43 13.17,-24.69 12.54,-17.80 C11.29,-8.61 1.72,-2.87 0.00,0.00 Z" transform="rotate(-56)"/><path d="M0,0 C-1.87,-3.12 -9.87,-9.36 -10.97,-19.34 C-11.52,-26.83 -7.24,-33.07 0.00,-30.73 C7.24,-33.07 11.52,-26.83 10.97,-19.34 C9.87,-9.36 1.87,-3.12 0.00,0.00 Z" transform="rotate(3)"/></g><g transform="rotate(268)"><path d="M0,0 C-1.50,-2.50 -7.68,-7.49 -8.54,-15.48 C-8.96,-21.47 -5.63,-26.46 0.00,-24.59 C5.63,-26.46 8.96,-21.47 8.54,-15.48 C7.68,-7.49 1.50,-2.50 0.00,0.00 Z" fill="url(#pr)" stroke="#2a0705" stroke-width="1.4"/><path d="M1.06,-6.24 C3.41,-11.43 3.04,-17.56 5.29,-21.96 C7.17,-17.56 6.98,-11.43 1.06,-6.24 Z" fill="#c21a16" opacity="0.7"/><path d="M0.12,-3.00 C-3.67,-9.42 -4.52,-17.01 0.60,-22.46 C4.87,-17.01 4.44,-9.42 0.12,-3.00 Z" fill="#f0603a" opacity="0.9"/><path d="M-0.20,-4.99 C-2.39,-9.28 -2.66,-14.34 -1.02,-17.97 C0.34,-14.34 0.20,-9.28 -0.20,-4.99 Z" fill="#f7895a" opacity="0.8"/><path d="M0.24,-7.49 C0.60,-12.10 0.48,-17.55 1.20,-21.47 C1.79,-17.55 1.73,-12.10 0.24,-7.49 Z" fill="#e3301f" opacity="0.55"/></g><g transform="rotate(142)"><path d="M0,0 C-1.87,-3.12 -12.27,-9.36 -13.63,-19.34 C-14.32,-26.83 -9.00,-33.07 0.00,-30.73 C9.00,-33.07 14.32,-26.83 13.63,-19.34 C12.27,-9.36 1.87,-3.12 0.00,0.00 Z" fill="url(#pr)" stroke="#2a0705" stroke-width="1.4"/><path d="M-1.69,-7.80 C-11.45,-14.29 -12.05,-21.95 -8.45,-27.46 C-5.45,-21.95 -5.75,-14.29 -1.69,-7.80 Z" fill="#c21a16" opacity="0.7"/><path d="M-0.17,-3.74 C-7.65,-11.77 -9.02,-21.27 -0.84,-28.08 C5.98,-21.27 5.30,-11.77 -0.17,-3.74 Z" fill="#f0603a" opacity="0.9"/><path d="M0.33,-6.24 C-0.55,-11.59 -0.98,-17.92 1.64,-22.46 C3.82,-17.92 3.60,-11.59 0.33,-6.24 Z" fill="#f7895a" opacity="0.8"/><path d="M-0.38,-9.36 C-2.86,-15.13 -3.05,-21.94 -1.91,-26.83 C-0.95,-21.94 -1.05,-15.13 -0.38,-9.36 Z" fill="#e3301f" opacity="0.55"/></g><g transform="rotate(208)"><path d="M0,0 C-1.95,-3.24 -12.76,-9.73 -14.18,-20.12 C-14.89,-27.91 -9.36,-34.39 0.00,-31.96 C9.36,-34.39 14.89,-27.91 14.18,-20.12 C12.76,-9.73 1.95,-3.24 0.00,0.00 Z" fill="url(#pr)" stroke="#2a0705" stroke-width="1.4"/><path d="M1.76,-8.11 C5.67,-14.86 5.05,-22.83 8.79,-28.55 C11.91,-22.83 11.60,-14.86 1.76,-8.11 Z" fill="#c21a16" opacity="0.7"/><path d="M0.07,-3.89 C-6.76,-12.25 -8.18,-22.12 0.33,-29.20 C7.42,-22.12 6.71,-12.25 0.07,-3.89 Z" fill="#f0603a" opacity="0.9"/><path d="M-0.34,-6.49 C-3.97,-12.06 -4.42,-18.64 -1.70,-23.36 C0.57,-18.64 0.34,-12.06 -0.34,-6.49 Z" fill="#f7895a" opacity="0.8"/><path d="M0.40,-9.73 C0.99,-15.73 0.79,-22.82 1.99,-27.91 C2.98,-22.82 2.88,-15.73 0.40,-9.73 Z" fill="#e3301f" opacity="0.55"/></g><g transform="rotate(70)"><path d="M0,0 C-1.68,-2.81 -10.80,-8.42 -12.00,-17.41 C-12.60,-24.15 -7.92,-29.76 0.00,-27.66 C7.92,-29.76 12.60,-24.15 12.00,-17.41 C10.80,-8.42 1.68,-2.81 0.00,0.00 Z" fill="url(#pr)" stroke="#2a0705" stroke-width="1.4"/><path d="M1.49,-7.02 C4.80,-12.86 4.27,-19.76 7.44,-24.71 C10.08,-19.76 9.82,-12.86 1.49,-7.02 Z" fill="#c21a16" opacity="0.7"/><path d="M-0.19,-3.37 C-6.93,-10.60 -8.13,-19.14 -0.93,-25.27 C5.07,-19.14 4.47,-10.60 -0.19,-3.37 Z" fill="#f0603a" opacity="0.9"/><path d="M-0.29,-5.62 C-3.36,-10.43 -3.75,-16.13 -1.44,-20.22 C0.48,-16.13 0.29,-10.43 -0.29,-5.62 Z" fill="#f7895a" opacity="0.8"/><path d="M0.34,-8.42 C0.84,-13.61 0.67,-19.75 1.68,-24.15 C2.52,-19.75 2.44,-13.61 0.34,-8.42 Z" fill="#e3301f" opacity="0.55"/></g><g transform="rotate(-56)"><path d="M0,0 C-1.72,-2.87 -11.29,-8.61 -12.54,-17.80 C-13.17,-24.69 -8.28,-30.43 0.00,-28.27 C8.28,-30.43 13.17,-24.69 12.54,-17.80 C11.29,-8.61 1.72,-2.87 0.00,0.00 Z" fill="url(#pr)" stroke="#2a0705" stroke-width="1.4"/><path d="M1.56,-7.18 C5.02,-13.14 4.47,-20.20 7.78,-25.26 C10.54,-20.20 10.26,-13.14 1.56,-7.18 Z" fill="#c21a16" opacity="0.7"/><path d="M0.08,-3.44 C-5.88,-10.83 -7.13,-19.56 0.39,-25.83 C6.67,-19.56 6.04,-10.83 0.08,-3.44 Z" fill="#f0603a" opacity="0.9"/><path d="M-0.30,-5.74 C-3.51,-10.67 -3.91,-16.49 -1.51,-20.67 C0.50,-16.49 0.30,-10.67 -0.30,-5.74 Z" fill="#f7895a" opacity="0.8"/><path d="M0.35,-8.61 C0.88,-13.92 0.70,-20.18 1.76,-24.69 C2.63,-20.18 2.55,-13.92 0.35,-8.61 Z" fill="#e3301f" opacity="0.55"/></g><g transform="rotate(3)"><path d="M0,0 C-1.87,-3.12 -9.87,-9.36 -10.97,-19.34 C-11.52,-26.83 -7.24,-33.07 0.00,-30.73 C7.24,-33.07 11.52,-26.83 10.97,-19.34 C9.87,-9.36 1.87,-3.12 0.00,0.00 Z" fill="url(#pr)" stroke="#2a0705" stroke-width="1.4"/><path d="M-1.36,-7.80 C-9.21,-14.29 -9.69,-21.95 -6.80,-27.46 C-4.39,-21.95 -4.63,-14.29 -1.36,-7.80 Z" fill="#c21a16" opacity="0.7"/><path d="M-0.16,-3.74 C-6.29,-11.77 -7.38,-21.27 -0.80,-28.08 C4.68,-21.27 4.13,-11.77 -0.16,-3.74 Z" fill="#f0603a" opacity="0.9"/><path d="M0.26,-6.24 C-0.44,-11.59 -0.79,-17.92 1.32,-22.46 C3.07,-17.92 2.90,-11.59 0.26,-6.24 Z" fill="#f7895a" opacity="0.8"/><path d="M-0.31,-9.36 C-2.30,-15.13 -2.46,-21.94 -1.54,-26.83 C-0.77,-21.94 -0.84,-15.13 -0.31,-9.36 Z" fill="#e3301f" opacity="0.55"/></g><circle r="17.2" fill="url(#glowR)"/><circle r="4.7" fill="#f0a23c" opacity="0.55"/><circle r="3.9" fill="#2f3812"/><circle r="2.7" fill="#9bb02e"/><circle r="1.2" fill="#6f8a22"/></g></g>
<g transform="translate(461.3,-0.4)"><g filter="url(#soft)" fill="#dfe6ca"><path d="M134,861 L113,861.5 Q107,864 110,871 Q106,878 110,885 Q99,888 99.5,896 Q102,904 112,912 Q122,919 136,921 L140,900Z"/><path d="M210,861 L231,861.5 Q234,866 230,873 Q233,880 238,884 Q244,889 241.5,897 Q237,906 228,914 Q217,920 205,919 L204,900Z"/><path d="M205,800 Q212,795 223,797 Q227,802 225,812 Q224,822 217,827 Q206,830 200,822Z" fill="#eceede" opacity="0.9"/></g><ellipse cx="171.85" cy="865.6" rx="43.6" ry="3.0" fill="#e6c6bb" stroke="#1a1110" stroke-width="1.3"/><path d="M161.8,868.0C160.5,865.6 158.6,860.7 154.0,853.8C149.4,846.9 142.0,834.7 134.5,826.4C127.0,818.1 117.6,808.2 109.1,804.0C100.6,799.8 87.6,801.8 83.3,801.4C86.0,803.3 92.4,806.9 99.3,812.7C106.2,818.5 117.5,829.4 124.7,836.2C131.9,843.1 137.8,848.5 142.3,853.8C146.9,859.1 150.4,865.6 152.0,868.0Z" fill="url(#lfB)" stroke="#16210c" stroke-width="1.9" stroke-linejoin="round"/><path d="M156.9,868.0C155.4,865.6 152.7,859.9 148.2,853.8C143.6,847.7 136.9,838.9 129.6,831.3C122.3,823.7 111.9,813.3 104.2,808.4C96.5,803.4 86.8,802.6 83.3,801.4" fill="none" stroke="#8fc04a" stroke-width="1.1" opacity="0.75" stroke-linecap="round"/><path d="M156.9,868.0C155.4,865.6 152.7,859.9 148.2,853.8C143.6,847.7 136.9,838.9 129.6,831.3C122.3,823.7 111.9,813.3 104.2,808.4C96.5,803.4 86.8,802.6 83.3,801.4C86.0,803.3 92.4,806.9 99.3,812.7C106.2,818.5 117.5,829.4 124.7,836.2C131.9,843.1 137.8,848.5 142.3,853.8C146.9,859.1 150.4,865.6 152.0,868.0Z" fill="#2f5f18" opacity="0.22"/><path d="M179.4,868.0C180.7,865.3 182.6,858.4 187.2,851.8C191.8,845.2 199.5,834.9 206.7,828.4C213.9,821.9 222.2,815.5 230.2,812.7C238.2,809.9 250.5,811.9 254.6,811.8C252.2,813.6 246.2,817.5 239.9,822.5C233.6,827.5 223.7,835.8 216.5,842.0C209.3,848.2 201.6,855.3 197.0,859.6C192.4,863.9 190.4,866.6 189.1,868.0Z" fill="url(#lfB)" stroke="#16210c" stroke-width="1.9" stroke-linejoin="round"/><path d="M184.2,868.0C185.6,866.0 187.5,861.2 192.1,855.7C196.7,850.2 204.4,841.6 211.6,835.2C218.8,828.9 227.9,821.5 235.1,817.6C242.2,813.7 251.3,812.8 254.6,811.8" fill="none" stroke="#8fc04a" stroke-width="1.1" opacity="0.75" stroke-linecap="round"/><path d="M184.2,868.0C185.6,866.0 187.5,861.2 192.1,855.7C196.7,850.2 204.4,841.6 211.6,835.2C218.8,828.9 227.9,821.5 235.1,817.6C242.2,813.7 251.3,812.8 254.6,811.8C252.2,813.6 246.2,817.5 239.9,822.5C233.6,827.5 223.7,835.8 216.5,842.0C209.3,848.2 201.6,855.3 197.0,859.6C192.4,863.9 190.4,866.6 189.1,868.0Z" fill="#2f5f18" opacity="0.22"/><path d="M152.0,867.0C150.7,865.5 148.8,861.5 144.2,857.7C139.6,853.9 131.5,846.9 124.7,844.0C117.9,841.1 106.8,841.1 103.2,840.5C105.2,842.4 109.7,848.0 114.9,851.8C120.1,855.6 129.8,860.8 134.5,863.5C139.2,866.2 141.6,867.2 143.0,868.0Z" fill="url(#lfB)" stroke="#16210c" stroke-width="1.9" stroke-linejoin="round"/><path d="M147.5,867.5C146.1,866.4 144.0,863.9 139.3,860.6C134.7,857.3 125.8,851.2 119.8,847.9C113.8,844.5 106.0,841.7 103.2,840.5" fill="none" stroke="#8fc04a" stroke-width="1.1" opacity="0.75" stroke-linecap="round"/><path d="M147.5,867.5C146.1,866.4 144.0,863.9 139.3,860.6C134.7,857.3 125.8,851.2 119.8,847.9C113.8,844.5 106.0,841.7 103.2,840.5C105.2,842.4 109.7,848.0 114.9,851.8C120.1,855.6 129.8,860.8 134.5,863.5C139.2,866.2 141.6,867.2 143.0,868.0Z" fill="#2f5f18" opacity="0.22"/><path d="M189.1,867.0C190.7,865.1 194.7,859.5 198.9,855.7C203.1,851.9 208.3,846.5 214.5,844.0C220.7,841.5 232.4,841.1 236.0,840.5C234.4,841.7 230.5,844.7 226.3,847.9C222.1,851.1 215.3,856.2 210.6,859.6C205.9,863.0 200.1,866.6 198.0,868.0Z" fill="url(#lfB)" stroke="#16210c" stroke-width="1.9" stroke-linejoin="round"/><path d="M193.6,867.5C195.4,865.9 200.3,861.2 204.8,857.7C209.2,854.1 215.2,848.8 220.4,846.0C225.6,843.1 233.4,841.4 236.0,840.5" fill="none" stroke="#8fc04a" stroke-width="1.1" opacity="0.75" stroke-linecap="round"/><path d="M193.6,867.5C195.4,865.9 200.3,861.2 204.8,857.7C209.2,854.1 215.2,848.8 220.4,846.0C225.6,843.1 233.4,841.4 236.0,840.5C234.4,841.7 230.5,844.7 226.3,847.9C222.1,851.1 215.3,856.2 210.6,859.6C205.9,863.0 200.1,866.6 198.0,868.0Z" fill="#2f5f18" opacity="0.22"/><path d="M159.8,868.0C157.9,863.0 152.0,848.0 148.1,838.1C144.2,828.2 139.8,817.6 136.4,808.8C133.0,799.9 129.1,789.0 127.6,785.0C131.0,789.6 142.4,803.9 148.1,812.7C153.8,821.6 158.5,828.9 161.8,838.1C165.1,847.3 166.7,863.0 167.7,868.0Z" fill="url(#lfB)" stroke="#16210c" stroke-width="1.9" stroke-linejoin="round"/><path d="M163.8,868.0C162.3,863.0 158.5,847.6 154.9,838.1C151.4,828.6 146.8,819.6 142.2,810.8C137.7,801.9 130.0,789.3 127.6,785.0" fill="none" stroke="#8fc04a" stroke-width="1.1" opacity="0.75" stroke-linecap="round"/><path d="M163.8,868.0C162.3,863.0 158.5,847.6 154.9,838.1C151.4,828.6 146.8,819.6 142.2,810.8C137.7,801.9 130.0,789.3 127.6,785.0C131.0,789.6 142.4,803.9 148.1,812.7C153.8,821.6 158.5,828.9 161.8,838.1C165.1,847.3 166.7,863.0 167.7,868.0Z" fill="#2f5f18" opacity="0.22"/><path d="M174.5,868.0C175.3,862.0 176.0,843.1 179.4,832.3C182.8,821.5 188.3,811.8 195.0,803.0C201.7,794.2 215.3,783.4 219.4,779.5C217.3,784.1 211.4,797.1 206.7,806.9C202.0,816.7 195.3,827.9 191.1,838.1C186.9,848.3 182.9,863.0 181.3,868.0Z" fill="url(#lfB)" stroke="#16210c" stroke-width="1.9" stroke-linejoin="round"/><path d="M177.9,868.0C179.1,862.5 181.4,845.7 185.2,835.2C189.1,824.7 195.2,814.2 200.8,805.0C206.5,795.7 216.3,783.7 219.4,779.5" fill="none" stroke="#8fc04a" stroke-width="1.1" opacity="0.75" stroke-linecap="round"/><path d="M177.9,868.0C179.1,862.5 181.4,845.7 185.2,835.2C189.1,824.7 195.2,814.2 200.8,805.0C206.5,795.7 216.3,783.7 219.4,779.5C217.3,784.1 211.4,797.1 206.7,806.9C202.0,816.7 195.3,827.9 191.1,838.1C186.9,848.3 182.9,863.0 181.3,868.0Z" fill="#2f5f18" opacity="0.22"/><path d="M138.4,764.9C139.7,767.1 143.7,773.3 146.0,778.0C148.3,782.7 149.7,786.1 152.0,793.2C154.3,800.3 157.7,812.7 159.8,820.5C161.9,828.3 163.7,836.8 164.5,840.0" fill="none" stroke="#2a4f17" stroke-width="3.3" stroke-linecap="round"/><path d="M138.4,764.9C139.7,767.1 143.7,773.3 146.0,778.0C148.3,782.7 149.7,786.1 152.0,793.2C154.3,800.3 157.7,812.7 159.8,820.5C161.9,828.3 163.7,836.8 164.5,840.0" fill="none" stroke="#5a962e" stroke-width="1.9" stroke-linecap="round"/><path d="M197.0,764.9C195.7,767.1 191.3,773.3 189.0,778.0C186.7,782.7 185.4,786.4 183.3,793.2C181.2,800.0 177.9,810.8 176.4,818.6C174.9,826.4 174.6,836.4 174.2,840.0" fill="none" stroke="#2a4f17" stroke-width="3.3" stroke-linecap="round"/><path d="M197.0,764.9C195.7,767.1 191.3,773.3 189.0,778.0C186.7,782.7 185.4,786.4 183.3,793.2C181.2,800.0 177.9,810.8 176.4,818.6C174.9,826.4 174.6,836.4 174.2,840.0" fill="none" stroke="#5a962e" stroke-width="1.9" stroke-linecap="round"/><path d="M165.5,868.0C165.6,863.0 165.5,849.3 165.8,838.0C166.1,826.7 166.9,811.2 167.5,800.0C168.1,788.8 169.2,775.8 169.6,771.0C170.1,775.8 171.6,788.8 172.4,800.0C173.2,811.2 174.2,826.7 174.6,838.0C175.0,849.3 174.9,863.0 175.0,868.0Z" fill="url(#lfC)" stroke="#16210c" stroke-width="1.5" stroke-linejoin="round"/><path d="M128.2,865.4 Q172,871.6 215.5,865.4 C215.3,878 214.8,888 213.6,896.7 C212,906 210,913 206.7,918.2 C203,923 198,927.4 191.1,929.2 C185,930.6 178,931 171.6,931 C166,931 160,930.6 152,928.4 C147,927.4 142,925 137.4,918.2 C134,914 132,908 130.5,896.7 C129.5,890 129,880 128.2,865.4 Z" fill="url(#potg)" stroke="#1a1110" stroke-width="1.8" stroke-linejoin="round"/><path d="M148,877 Q170,873 196,877 Q200,890 197,900 Q201,910 194,922 Q172,928 150,922 Q143,908 146,898 Q143,886 148,877Z" fill="#e0b9ad" opacity="0.6" filter="url(#soft2)"/><g transform="translate(120.1,743.1)"><g fill="#190d0a" stroke="#190d0a" stroke-width="3.4" stroke-linejoin="round"><path d="M0,0 C-1.47,-2.45 -7.16,-7.34 -7.95,-15.18 C-8.35,-21.05 -5.25,-25.95 0.00,-24.11 C5.25,-25.95 8.35,-21.05 7.95,-15.18 C7.16,-7.34 1.47,-2.45 0.00,0.00 Z" transform="rotate(75)"/><path d="M0,0 C-1.47,-2.45 -8.67,-7.34 -9.63,-15.18 C-10.11,-21.05 -6.35,-25.95 0.00,-24.11 C6.35,-25.95 10.11,-21.05 9.63,-15.18 C8.67,-7.34 1.47,-2.45 0.00,0.00 Z" transform="rotate(138)"/><path d="M0,0 C-1.89,-3.16 -10.68,-9.47 -11.87,-19.56 C-12.46,-27.13 -7.83,-33.45 0.00,-31.08 C7.83,-33.45 12.46,-27.13 11.87,-19.56 C10.68,-9.47 1.89,-3.16 0.00,0.00 Z" transform="rotate(226)"/><path d="M0,0 C-1.71,-2.86 -9.23,-8.57 -10.26,-17.71 C-10.77,-24.56 -6.77,-30.27 0.00,-28.13 C6.77,-30.27 10.77,-24.56 10.26,-17.71 C9.23,-8.57 1.71,-2.86 0.00,0.00 Z" transform="rotate(-65)"/><path d="M0,0 C-1.62,-2.69 -7.87,-8.08 -8.75,-16.70 C-9.19,-23.16 -5.77,-28.54 0.00,-26.52 C5.77,-28.54 9.19,-23.16 8.75,-16.70 C7.87,-8.08 1.62,-2.69 0.00,0.00 Z" transform="rotate(10)"/></g><g transform="rotate(75)"><path d="M0,0 C-1.47,-2.45 -7.16,-7.34 -7.95,-15.18 C-8.35,-21.05 -5.25,-25.95 0.00,-24.11 C5.25,-25.95 8.35,-21.05 7.95,-15.18 C7.16,-7.34 1.47,-2.45 0.00,0.00 Z" fill="url(#pq)" stroke="#3a1219" stroke-width="1.4"/><path d="M1.05,-7.34 C3.66,-12.19 3.34,-17.92 5.25,-22.03 C6.84,-17.92 6.68,-12.19 1.05,-7.34 Z" fill="#ea7f90" opacity="0.5"/><path d="M0.09,-2.94 C-2.71,-9.24 -3.34,-16.69 0.47,-22.03 C3.65,-16.69 3.34,-9.24 0.09,-2.94 Z" fill="#fde4df" opacity="0.9"/><path d="M0.32,-7.34 C0.95,-12.03 0.83,-17.57 1.59,-21.54 C2.23,-17.57 2.16,-12.03 0.32,-7.34 Z" fill="#f6b3b9" opacity="0.7"/></g><g transform="rotate(138)"><path d="M0,0 C-1.47,-2.45 -8.67,-7.34 -9.63,-15.18 C-10.11,-21.05 -6.35,-25.95 0.00,-24.11 C6.35,-25.95 10.11,-21.05 9.63,-15.18 C8.67,-7.34 1.47,-2.45 0.00,0.00 Z" fill="url(#pq)" stroke="#3a1219" stroke-width="1.4"/><path d="M-1.27,-7.34 C-8.28,-12.19 -8.67,-17.92 -6.35,-22.03 C-4.43,-17.92 -4.62,-12.19 -1.27,-7.34 Z" fill="#ea7f90" opacity="0.5"/><path d="M0.13,-2.94 C-3.18,-9.24 -3.95,-16.69 0.67,-22.03 C4.52,-16.69 4.13,-9.24 0.13,-2.94 Z" fill="#fde4df" opacity="0.9"/><path d="M-0.39,-7.34 C-2.70,-12.03 -2.85,-17.57 -1.93,-21.54 C-1.16,-17.57 -1.23,-12.03 -0.39,-7.34 Z" fill="#f6b3b9" opacity="0.7"/></g><g transform="rotate(226)"><path d="M0,0 C-1.89,-3.16 -10.68,-9.47 -11.87,-19.56 C-12.46,-27.13 -7.83,-33.45 0.00,-31.08 C7.83,-33.45 12.46,-27.13 11.87,-19.56 C10.68,-9.47 1.89,-3.16 0.00,0.00 Z" fill="url(#pq)" stroke="#3a1219" stroke-width="1.4"/><path d="M-1.57,-9.47 C-10.21,-15.71 -10.68,-23.10 -7.83,-28.40 C-5.46,-23.10 -5.70,-15.71 -1.57,-9.47 Z" fill="#ea7f90" opacity="0.5"/><path d="M0.08,-3.79 C-4.37,-11.91 -5.32,-21.51 0.38,-28.40 C5.12,-21.51 4.65,-11.91 0.08,-3.79 Z" fill="#fde4df" opacity="0.9"/><path d="M-0.47,-9.47 C-3.32,-15.50 -3.51,-22.64 -2.37,-27.77 C-1.42,-22.64 -1.52,-15.50 -0.47,-9.47 Z" fill="#f6b3b9" opacity="0.7"/></g><g transform="rotate(-65)"><path d="M0,0 C-1.71,-2.86 -9.23,-8.57 -10.26,-17.71 C-10.77,-24.56 -6.77,-30.27 0.00,-28.13 C6.77,-30.27 10.77,-24.56 10.26,-17.71 C9.23,-8.57 1.71,-2.86 0.00,0.00 Z" fill="url(#pq)" stroke="#3a1219" stroke-width="1.4"/><path d="M-1.35,-8.57 C-8.82,-14.22 -9.23,-20.91 -6.77,-25.70 C-4.72,-20.91 -4.92,-14.22 -1.35,-8.57 Z" fill="#ea7f90" opacity="0.5"/><path d="M-0.18,-3.43 C-4.99,-10.78 -5.81,-19.47 -0.88,-25.70 C3.22,-19.47 2.81,-10.78 -0.18,-3.43 Z" fill="#fde4df" opacity="0.9"/><path d="M-0.41,-8.57 C-2.87,-14.03 -3.04,-20.49 -2.05,-25.13 C-1.23,-20.49 -1.31,-14.03 -0.41,-8.57 Z" fill="#f6b3b9" opacity="0.7"/></g><g transform="rotate(10)"><path d="M0,0 C-1.62,-2.69 -7.87,-8.08 -8.75,-16.70 C-9.19,-23.16 -5.77,-28.54 0.00,-26.52 C5.77,-28.54 9.19,-23.16 8.75,-16.70 C7.87,-8.08 1.62,-2.69 0.00,0.00 Z" fill="url(#pq)" stroke="#3a1219" stroke-width="1.4"/><path d="M1.15,-8.08 C4.02,-13.41 3.67,-19.71 5.77,-24.24 C7.52,-19.71 7.35,-13.41 1.15,-8.08 Z" fill="#ea7f90" opacity="0.5"/><path d="M0.16,-3.23 C-2.71,-10.16 -3.41,-18.35 0.79,-24.24 C4.29,-18.35 3.94,-10.16 0.16,-3.23 Z" fill="#fde4df" opacity="0.9"/><path d="M0.35,-8.08 C1.05,-13.23 0.91,-19.32 1.75,-23.70 C2.45,-19.32 2.38,-13.23 0.35,-8.08 Z" fill="#f6b3b9" opacity="0.7"/></g><circle r="13.6" fill="url(#glowP)"/><circle r="5.2" fill="#f8d25a" opacity="0.9"/><circle r="3.9" fill="#ee7d1f"/><circle r="2.3" fill="#e4491c"/></g><g transform="translate(217.0,742.1)"><g fill="#190d0a" stroke="#190d0a" stroke-width="3.4" stroke-linejoin="round"><path d="M0,0 C-1.47,-2.45 -7.16,-7.34 -7.95,-15.18 C-8.35,-21.05 -5.25,-25.95 0.00,-24.11 C5.25,-25.95 8.35,-21.05 7.95,-15.18 C7.16,-7.34 1.47,-2.45 0.00,0.00 Z" transform="rotate(280)"/><path d="M0,0 C-1.47,-2.45 -8.67,-7.34 -9.63,-15.18 C-10.11,-21.05 -6.35,-25.95 0.00,-24.11 C6.35,-25.95 10.11,-21.05 9.63,-15.18 C8.67,-7.34 1.47,-2.45 0.00,0.00 Z" transform="rotate(210)"/><path d="M0,0 C-1.86,-3.10 -10.50,-9.30 -11.67,-19.22 C-12.25,-26.67 -7.70,-32.87 0.00,-30.54 C7.70,-32.87 12.25,-26.67 11.67,-19.22 C10.50,-9.30 1.86,-3.10 0.00,0.00 Z" transform="rotate(111)"/><path d="M0,0 C-1.60,-2.67 -8.61,-8.00 -9.57,-16.53 C-10.05,-22.92 -6.32,-28.26 0.00,-26.26 C6.32,-28.26 10.05,-22.92 9.57,-16.53 C8.61,-8.00 1.60,-2.67 0.00,0.00 Z" transform="rotate(42)"/><path d="M0,0 C-1.58,-2.64 -7.71,-7.92 -8.57,-16.36 C-9.00,-22.69 -5.66,-27.97 0.00,-25.99 C5.66,-27.97 9.00,-22.69 8.57,-16.36 C7.71,-7.92 1.58,-2.64 0.00,0.00 Z" transform="rotate(-22)"/></g><g transform="rotate(280)"><path d="M0,0 C-1.47,-2.45 -7.16,-7.34 -7.95,-15.18 C-8.35,-21.05 -5.25,-25.95 0.00,-24.11 C5.25,-25.95 8.35,-21.05 7.95,-15.18 C7.16,-7.34 1.47,-2.45 0.00,0.00 Z" fill="url(#pq)" stroke="#3a1219" stroke-width="1.4"/><path d="M1.05,-7.34 C3.66,-12.19 3.34,-17.92 5.25,-22.03 C6.84,-17.92 6.68,-12.19 1.05,-7.34 Z" fill="#ea7f90" opacity="0.5"/><path d="M0.02,-2.94 C-3.10,-9.24 -3.73,-16.69 0.09,-22.03 C3.27,-16.69 2.95,-9.24 0.02,-2.94 Z" fill="#fde4df" opacity="0.9"/><path d="M0.32,-7.34 C0.95,-12.03 0.83,-17.57 1.59,-21.54 C2.23,-17.57 2.16,-12.03 0.32,-7.34 Z" fill="#f6b3b9" opacity="0.7"/></g><g transform="rotate(210)"><path d="M0,0 C-1.47,-2.45 -8.67,-7.34 -9.63,-15.18 C-10.11,-21.05 -6.35,-25.95 0.00,-24.11 C6.35,-25.95 10.11,-21.05 9.63,-15.18 C8.67,-7.34 1.47,-2.45 0.00,0.00 Z" fill="url(#pq)" stroke="#3a1219" stroke-width="1.4"/><path d="M-1.27,-7.34 C-8.28,-12.19 -8.67,-17.92 -6.35,-22.03 C-4.43,-17.92 -4.62,-12.19 -1.27,-7.34 Z" fill="#ea7f90" opacity="0.5"/><path d="M-0.19,-2.94 C-4.80,-9.24 -5.57,-16.69 -0.95,-22.03 C2.90,-16.69 2.51,-9.24 -0.19,-2.94 Z" fill="#fde4df" opacity="0.9"/><path d="M-0.39,-7.34 C-2.70,-12.03 -2.85,-17.57 -1.93,-21.54 C-1.16,-17.57 -1.23,-12.03 -0.39,-7.34 Z" fill="#f6b3b9" opacity="0.7"/></g><g transform="rotate(111)"><path d="M0,0 C-1.86,-3.10 -10.50,-9.30 -11.67,-19.22 C-12.25,-26.67 -7.70,-32.87 0.00,-30.54 C7.70,-32.87 12.25,-26.67 11.67,-19.22 C10.50,-9.30 1.86,-3.10 0.00,0.00 Z" fill="url(#pq)" stroke="#3a1219" stroke-width="1.4"/><path d="M-1.54,-9.30 C-10.03,-15.44 -10.50,-22.70 -7.70,-27.91 C-5.37,-22.70 -5.60,-15.44 -1.54,-9.30 Z" fill="#ea7f90" opacity="0.5"/><path d="M-0.05,-3.72 C-4.89,-11.70 -5.83,-21.14 -0.23,-27.91 C4.44,-21.14 3.97,-11.70 -0.05,-3.72 Z" fill="#fde4df" opacity="0.9"/><path d="M-0.47,-9.30 C-3.27,-15.24 -3.45,-22.25 -2.33,-27.29 C-1.40,-22.25 -1.49,-15.24 -0.47,-9.30 Z" fill="#f6b3b9" opacity="0.7"/></g><g transform="rotate(42)"><path d="M0,0 C-1.60,-2.67 -8.61,-8.00 -9.57,-16.53 C-10.05,-22.92 -6.32,-28.26 0.00,-26.26 C6.32,-28.26 10.05,-22.92 9.57,-16.53 C8.61,-8.00 1.60,-2.67 0.00,0.00 Z" fill="url(#pq)" stroke="#3a1219" stroke-width="1.4"/><path d="M-1.26,-8.00 C-8.23,-13.27 -8.61,-19.51 -6.32,-23.99 C-4.40,-19.51 -4.59,-13.27 -1.26,-8.00 Z" fill="#ea7f90" opacity="0.5"/><path d="M0.18,-3.20 C-2.94,-10.06 -3.71,-18.17 0.89,-23.99 C4.72,-18.17 4.33,-10.06 0.18,-3.20 Z" fill="#fde4df" opacity="0.9"/><path d="M-0.38,-8.00 C-2.68,-13.10 -2.83,-19.13 -1.91,-23.46 C-1.15,-19.13 -1.23,-13.10 -0.38,-8.00 Z" fill="#f6b3b9" opacity="0.7"/></g><g transform="rotate(-22)"><path d="M0,0 C-1.58,-2.64 -7.71,-7.92 -8.57,-16.36 C-9.00,-22.69 -5.66,-27.97 0.00,-25.99 C5.66,-27.97 9.00,-22.69 8.57,-16.36 C7.71,-7.92 1.58,-2.64 0.00,0.00 Z" fill="url(#pq)" stroke="#3a1219" stroke-width="1.4"/><path d="M1.13,-7.92 C3.94,-13.14 3.60,-19.31 5.66,-23.75 C7.37,-19.31 7.20,-13.14 1.13,-7.92 Z" fill="#ea7f90" opacity="0.5"/><path d="M-0.14,-3.17 C-4.15,-9.96 -4.83,-17.98 -0.72,-23.75 C2.71,-17.98 2.37,-9.96 -0.14,-3.17 Z" fill="#fde4df" opacity="0.9"/><path d="M0.34,-7.92 C1.03,-12.97 0.89,-18.93 1.71,-23.22 C2.40,-18.93 2.33,-12.97 0.34,-7.92 Z" fill="#f6b3b9" opacity="0.7"/></g><circle r="13.6" fill="url(#glowP)"/><circle r="5.2" fill="#f8d25a" opacity="0.9"/><circle r="3.9" fill="#ee7d1f"/><circle r="2.3" fill="#e4491c"/></g><g transform="translate(168.3,741.9)"><g fill="#190d0a" stroke="#190d0a" stroke-width="3.4" stroke-linejoin="round"><path d="M0,0 C-1.50,-2.50 -6.91,-7.49 -7.68,-15.48 C-8.07,-21.47 -5.07,-26.46 0.00,-24.59 C5.07,-26.46 8.07,-21.47 7.68,-15.48 C6.91,-7.49 1.50,-2.50 0.00,0.00 Z" transform="rotate(268)"/><path d="M0,0 C-1.87,-3.12 -11.04,-9.36 -12.27,-19.34 C-12.88,-26.83 -8.10,-33.07 0.00,-30.73 C8.10,-33.07 12.88,-26.83 12.27,-19.34 C11.04,-9.36 1.87,-3.12 0.00,0.00 Z" transform="rotate(142)"/><path d="M0,0 C-1.95,-3.24 -11.49,-9.73 -12.76,-20.12 C-13.40,-27.91 -8.42,-34.39 0.00,-31.96 C8.42,-34.39 13.40,-27.91 12.76,-20.12 C11.49,-9.73 1.95,-3.24 0.00,0.00 Z" transform="rotate(208)"/><path d="M0,0 C-1.68,-2.81 -9.72,-8.42 -10.80,-17.41 C-11.34,-24.15 -7.13,-29.76 0.00,-27.66 C7.13,-29.76 11.34,-24.15 10.80,-17.41 C9.72,-8.42 1.68,-2.81 0.00,0.00 Z" transform="rotate(70)"/><path d="M0,0 C-1.72,-2.87 -10.16,-8.61 -11.29,-17.80 C-11.85,-24.69 -7.45,-30.43 0.00,-28.27 C7.45,-30.43 11.85,-24.69 11.29,-17.80 C10.16,-8.61 1.72,-2.87 0.00,0.00 Z" transform="rotate(-56)"/><path d="M0,0 C-1.87,-3.12 -8.88,-9.36 -9.87,-19.34 C-10.36,-26.83 -6.51,-33.07 0.00,-30.73 C6.51,-33.07 10.36,-26.83 9.87,-19.34 C8.88,-9.36 1.87,-3.12 0.00,0.00 Z" transform="rotate(3)"/></g><g transform="rotate(268)"><path d="M0,0 C-1.50,-2.50 -6.91,-7.49 -7.68,-15.48 C-8.07,-21.47 -5.07,-26.46 0.00,-24.59 C5.07,-26.46 8.07,-21.47 7.68,-15.48 C6.91,-7.49 1.50,-2.50 0.00,0.00 Z" fill="url(#pq)" stroke="#3a1219" stroke-width="1.4"/><path d="M-1.01,-7.49 C-6.61,-12.43 -6.91,-18.27 -5.07,-22.46 C-3.53,-18.27 -3.69,-12.43 -1.01,-7.49 Z" fill="#ea7f90" opacity="0.5"/><path d="M-0.14,-3.00 C-3.79,-9.42 -4.41,-17.01 -0.72,-22.46 C2.35,-17.01 2.04,-9.42 -0.14,-3.00 Z" fill="#fde4df" opacity="0.9"/><path d="M-0.31,-7.49 C-2.15,-12.27 -2.27,-17.91 -1.54,-21.96 C-0.92,-17.91 -0.98,-12.27 -0.31,-7.49 Z" fill="#f6b3b9" opacity="0.7"/></g><g transform="rotate(142)"><path d="M0,0 C-1.87,-3.12 -11.04,-9.36 -12.27,-19.34 C-12.88,-26.83 -8.10,-33.07 0.00,-30.73 C8.10,-33.07 12.88,-26.83 12.27,-19.34 C11.04,-9.36 1.87,-3.12 0.00,0.00 Z" fill="url(#pq)" stroke="#3a1219" stroke-width="1.4"/><path d="M1.62,-9.36 C5.64,-15.54 5.15,-22.84 8.10,-28.08 C10.55,-22.84 10.31,-15.54 1.62,-9.36 Z" fill="#ea7f90" opacity="0.5"/><path d="M-0.19,-3.74 C-5.84,-11.77 -6.82,-21.27 -0.93,-28.08 C3.98,-21.27 3.49,-11.77 -0.19,-3.74 Z" fill="#fde4df" opacity="0.9"/><path d="M0.49,-9.36 C1.47,-15.33 1.28,-22.39 2.45,-27.46 C3.44,-22.39 3.34,-15.33 0.49,-9.36 Z" fill="#f6b3b9" opacity="0.7"/></g><g transform="rotate(208)"><path d="M0,0 C-1.95,-3.24 -11.49,-9.73 -12.76,-20.12 C-13.40,-27.91 -8.42,-34.39 0.00,-31.96 C8.42,-34.39 13.40,-27.91 12.76,-20.12 C11.49,-9.73 1.95,-3.24 0.00,0.00 Z" fill="url(#pq)" stroke="#3a1219" stroke-width="1.4"/><path d="M-1.68,-9.73 C-10.98,-16.16 -11.49,-23.75 -8.42,-29.20 C-5.87,-23.75 -6.13,-16.16 -1.68,-9.73 Z" fill="#ea7f90" opacity="0.5"/><path d="M0.25,-3.89 C-3.88,-12.25 -4.90,-22.12 1.23,-29.20 C6.33,-22.12 5.82,-12.25 0.25,-3.89 Z" fill="#fde4df" opacity="0.9"/><path d="M-0.51,-9.73 C-3.57,-15.94 -3.78,-23.28 -2.55,-28.55 C-1.53,-23.28 -1.63,-15.94 -0.51,-9.73 Z" fill="#f6b3b9" opacity="0.7"/></g><g transform="rotate(70)"><path d="M0,0 C-1.68,-2.81 -9.72,-8.42 -10.80,-17.41 C-11.34,-24.15 -7.13,-29.76 0.00,-27.66 C7.13,-29.76 11.34,-24.15 10.80,-17.41 C9.72,-8.42 1.68,-2.81 0.00,0.00 Z" fill="url(#pq)" stroke="#3a1219" stroke-width="1.4"/><path d="M-1.43,-8.42 C-9.29,-13.98 -9.72,-20.55 -7.13,-25.27 C-4.97,-20.55 -5.19,-13.98 -1.43,-8.42 Z" fill="#ea7f90" opacity="0.5"/><path d="M-0.13,-3.37 C-4.97,-10.60 -5.84,-19.14 -0.65,-25.27 C3.67,-19.14 3.24,-10.60 -0.13,-3.37 Z" fill="#fde4df" opacity="0.9"/><path d="M-0.43,-8.42 C-3.03,-13.80 -3.20,-20.15 -2.16,-24.71 C-1.30,-20.15 -1.38,-13.80 -0.43,-8.42 Z" fill="#f6b3b9" opacity="0.7"/></g><g transform="rotate(-56)"><path d="M0,0 C-1.72,-2.87 -10.16,-8.61 -11.29,-17.80 C-11.85,-24.69 -7.45,-30.43 0.00,-28.27 C7.45,-30.43 11.85,-24.69 11.29,-17.80 C10.16,-8.61 1.72,-2.87 0.00,0.00 Z" fill="url(#pq)" stroke="#3a1219" stroke-width="1.4"/><path d="M-1.49,-8.61 C-9.71,-14.29 -10.16,-21.01 -7.45,-25.83 C-5.19,-21.01 -5.42,-14.29 -1.49,-8.61 Z" fill="#ea7f90" opacity="0.5"/><path d="M0.21,-3.44 C-3.46,-10.83 -4.36,-19.56 1.06,-25.83 C5.57,-19.56 5.12,-10.83 0.21,-3.44 Z" fill="#fde4df" opacity="0.9"/><path d="M-0.45,-8.61 C-3.16,-14.11 -3.34,-20.60 -2.26,-25.26 C-1.35,-20.60 -1.45,-14.11 -0.45,-8.61 Z" fill="#f6b3b9" opacity="0.7"/></g><g transform="rotate(3)"><path d="M0,0 C-1.87,-3.12 -8.88,-9.36 -9.87,-19.34 C-10.36,-26.83 -6.51,-33.07 0.00,-30.73 C6.51,-33.07 10.36,-26.83 9.87,-19.34 C8.88,-9.36 1.87,-3.12 0.00,0.00 Z" fill="url(#pq)" stroke="#3a1219" stroke-width="1.4"/><path d="M-1.30,-9.36 C-8.49,-15.54 -8.88,-22.84 -6.51,-28.08 C-4.54,-22.84 -4.74,-15.54 -1.30,-9.36 Z" fill="#ea7f90" opacity="0.5"/><path d="M0.19,-3.74 C-3.02,-11.77 -3.81,-21.27 0.93,-28.08 C4.88,-21.27 4.48,-11.77 0.19,-3.74 Z" fill="#fde4df" opacity="0.9"/><path d="M-0.39,-9.36 C-2.76,-15.33 -2.92,-22.39 -1.97,-27.46 C-1.18,-22.39 -1.26,-15.33 -0.39,-9.36 Z" fill="#f6b3b9" opacity="0.7"/></g><circle r="15.6" fill="url(#glowP)"/><circle r="5.9" fill="#f8d25a" opacity="0.9"/><circle r="4.5" fill="#ee7d1f"/><circle r="2.7" fill="#e4491c"/></g></g>
<g transform="translate(683.8,-0.4)"><g filter="url(#soft)" fill="#dfe6ca"><path d="M134,861 L113,861.5 Q107,864 110,871 Q106,878 110,885 Q99,888 99.5,896 Q102,904 112,912 Q122,919 136,921 L140,900Z"/><path d="M210,861 L231,861.5 Q234,866 230,873 Q233,880 238,884 Q244,889 241.5,897 Q237,906 228,914 Q217,920 205,919 L204,900Z"/><path d="M205,800 Q212,795 223,797 Q227,802 225,812 Q224,822 217,827 Q206,830 200,822Z" fill="#eceede" opacity="0.9"/></g><ellipse cx="171.85" cy="865.6" rx="43.6" ry="3.0" fill="#e6c6bb" stroke="#1a1110" stroke-width="1.3"/><path d="M161.8,868.0C160.5,865.6 158.6,860.7 154.0,853.8C149.4,846.9 142.0,834.7 134.5,826.4C127.0,818.1 117.6,808.2 109.1,804.0C100.6,799.8 87.6,801.8 83.3,801.4C86.0,803.3 92.4,806.9 99.3,812.7C106.2,818.5 117.5,829.4 124.7,836.2C131.9,843.1 137.8,848.5 142.3,853.8C146.9,859.1 150.4,865.6 152.0,868.0Z" fill="url(#lfB)" stroke="#16210c" stroke-width="1.9" stroke-linejoin="round"/><path d="M156.9,868.0C155.4,865.6 152.7,859.9 148.2,853.8C143.6,847.7 136.9,838.9 129.6,831.3C122.3,823.7 111.9,813.3 104.2,808.4C96.5,803.4 86.8,802.6 83.3,801.4" fill="none" stroke="#8fc04a" stroke-width="1.1" opacity="0.75" stroke-linecap="round"/><path d="M156.9,868.0C155.4,865.6 152.7,859.9 148.2,853.8C143.6,847.7 136.9,838.9 129.6,831.3C122.3,823.7 111.9,813.3 104.2,808.4C96.5,803.4 86.8,802.6 83.3,801.4C86.0,803.3 92.4,806.9 99.3,812.7C106.2,818.5 117.5,829.4 124.7,836.2C131.9,843.1 137.8,848.5 142.3,853.8C146.9,859.1 150.4,865.6 152.0,868.0Z" fill="#2f5f18" opacity="0.22"/><path d="M179.4,868.0C180.7,865.4 182.6,858.6 187.2,852.2C191.8,845.9 199.5,836.1 206.7,829.9C213.9,823.7 222.4,817.8 230.2,815.2C238.0,812.7 249.8,814.9 253.7,814.8C251.4,816.5 246.1,820.1 239.9,824.9C233.7,829.7 223.7,837.5 216.5,843.4C209.3,849.2 201.6,855.8 197.0,859.9C192.4,864.0 190.4,866.6 189.1,868.0Z" fill="url(#lfB)" stroke="#16210c" stroke-width="1.9" stroke-linejoin="round"/><path d="M184.2,868.0C185.6,866.0 187.5,861.3 192.1,856.1C196.7,850.8 204.4,842.6 211.6,836.6C218.8,830.6 228.0,823.7 235.1,820.1C242.1,816.4 250.6,815.7 253.7,814.8" fill="none" stroke="#8fc04a" stroke-width="1.1" opacity="0.75" stroke-linecap="round"/><path d="M184.2,868.0C185.6,866.0 187.5,861.3 192.1,856.1C196.7,850.8 204.4,842.6 211.6,836.6C218.8,830.6 228.0,823.7 235.1,820.1C242.1,816.4 250.6,815.7 253.7,814.8C251.4,816.5 246.1,820.1 239.9,824.9C233.7,829.7 223.7,837.5 216.5,843.4C209.3,849.2 201.6,855.8 197.0,859.9C192.4,864.0 190.4,866.6 189.1,868.0Z" fill="#2f5f18" opacity="0.22"/><path d="M152.0,867.0C150.7,865.5 148.8,861.5 144.2,857.7C139.6,853.9 131.5,846.9 124.7,844.0C117.9,841.1 106.8,841.1 103.2,840.5C105.2,842.4 109.7,848.0 114.9,851.8C120.1,855.6 129.8,860.8 134.5,863.5C139.2,866.2 141.6,867.2 143.0,868.0Z" fill="url(#lfB)" stroke="#16210c" stroke-width="1.9" stroke-linejoin="round"/><path d="M147.5,867.5C146.1,866.4 144.0,863.9 139.3,860.6C134.7,857.3 125.8,851.2 119.8,847.9C113.8,844.5 106.0,841.7 103.2,840.5" fill="none" stroke="#8fc04a" stroke-width="1.1" opacity="0.75" stroke-linecap="round"/><path d="M147.5,867.5C146.1,866.4 144.0,863.9 139.3,860.6C134.7,857.3 125.8,851.2 119.8,847.9C113.8,844.5 106.0,841.7 103.2,840.5C105.2,842.4 109.7,848.0 114.9,851.8C120.1,855.6 129.8,860.8 134.5,863.5C139.2,866.2 141.6,867.2 143.0,868.0Z" fill="#2f5f18" opacity="0.22"/><path d="M189.1,867.0C190.7,865.1 194.7,859.5 198.9,855.7C203.1,851.9 208.3,846.5 214.5,844.0C220.7,841.5 232.4,841.1 236.0,840.5C234.4,841.7 230.5,844.7 226.3,847.9C222.1,851.1 215.3,856.2 210.6,859.6C205.9,863.0 200.1,866.6 198.0,868.0Z" fill="url(#lfB)" stroke="#16210c" stroke-width="1.9" stroke-linejoin="round"/><path d="M193.6,867.5C195.4,865.9 200.3,861.2 204.8,857.7C209.2,854.1 215.2,848.8 220.4,846.0C225.6,843.1 233.4,841.4 236.0,840.5" fill="none" stroke="#8fc04a" stroke-width="1.1" opacity="0.75" stroke-linecap="round"/><path d="M193.6,867.5C195.4,865.9 200.3,861.2 204.8,857.7C209.2,854.1 215.2,848.8 220.4,846.0C225.6,843.1 233.4,841.4 236.0,840.5C234.4,841.7 230.5,844.7 226.3,847.9C222.1,851.1 215.3,856.2 210.6,859.6C205.9,863.0 200.1,866.6 198.0,868.0Z" fill="#2f5f18" opacity="0.22"/><path d="M159.8,868.0C157.9,863.0 152.0,848.0 148.1,838.1C144.2,828.2 139.8,817.6 136.4,808.8C133.0,799.9 129.1,789.0 127.6,785.0C131.0,789.6 142.4,803.9 148.1,812.7C153.8,821.6 158.5,828.9 161.8,838.1C165.1,847.3 166.7,863.0 167.7,868.0Z" fill="url(#lfB)" stroke="#16210c" stroke-width="1.9" stroke-linejoin="round"/><path d="M163.8,868.0C162.3,863.0 158.5,847.6 154.9,838.1C151.4,828.6 146.8,819.6 142.2,810.8C137.7,801.9 130.0,789.3 127.6,785.0" fill="none" stroke="#8fc04a" stroke-width="1.1" opacity="0.75" stroke-linecap="round"/><path d="M163.8,868.0C162.3,863.0 158.5,847.6 154.9,838.1C151.4,828.6 146.8,819.6 142.2,810.8C137.7,801.9 130.0,789.3 127.6,785.0C131.0,789.6 142.4,803.9 148.1,812.7C153.8,821.6 158.5,828.9 161.8,838.1C165.1,847.3 166.7,863.0 167.7,868.0Z" fill="#2f5f18" opacity="0.22"/><path d="M174.5,868.0C175.3,862.0 176.0,843.1 179.4,832.3C182.8,821.5 188.3,811.8 195.0,803.0C201.7,794.2 215.3,783.4 219.4,779.5C217.3,784.1 211.4,797.1 206.7,806.9C202.0,816.7 195.3,827.9 191.1,838.1C186.9,848.3 182.9,863.0 181.3,868.0Z" fill="url(#lfB)" stroke="#16210c" stroke-width="1.9" stroke-linejoin="round"/><path d="M177.9,868.0C179.1,862.5 181.4,845.7 185.2,835.2C189.1,824.7 195.2,814.2 200.8,805.0C206.5,795.7 216.3,783.7 219.4,779.5" fill="none" stroke="#8fc04a" stroke-width="1.1" opacity="0.75" stroke-linecap="round"/><path d="M177.9,868.0C179.1,862.5 181.4,845.7 185.2,835.2C189.1,824.7 195.2,814.2 200.8,805.0C206.5,795.7 216.3,783.7 219.4,779.5C217.3,784.1 211.4,797.1 206.7,806.9C202.0,816.7 195.3,827.9 191.1,838.1C186.9,848.3 182.9,863.0 181.3,868.0Z" fill="#2f5f18" opacity="0.22"/><path d="M138.4,764.9C139.7,767.1 143.7,773.3 146.0,778.0C148.3,782.7 149.7,786.1 152.0,793.2C154.3,800.3 157.7,812.7 159.8,820.5C161.9,828.3 163.7,836.8 164.5,840.0" fill="none" stroke="#2a4f17" stroke-width="3.3" stroke-linecap="round"/><path d="M138.4,764.9C139.7,767.1 143.7,773.3 146.0,778.0C148.3,782.7 149.7,786.1 152.0,793.2C154.3,800.3 157.7,812.7 159.8,820.5C161.9,828.3 163.7,836.8 164.5,840.0" fill="none" stroke="#5a962e" stroke-width="1.9" stroke-linecap="round"/><path d="M197.0,764.9C195.7,767.1 191.3,773.3 189.0,778.0C186.7,782.7 185.4,786.4 183.3,793.2C181.2,800.0 177.9,810.8 176.4,818.6C174.9,826.4 174.6,836.4 174.2,840.0" fill="none" stroke="#2a4f17" stroke-width="3.3" stroke-linecap="round"/><path d="M197.0,764.9C195.7,767.1 191.3,773.3 189.0,778.0C186.7,782.7 185.4,786.4 183.3,793.2C181.2,800.0 177.9,810.8 176.4,818.6C174.9,826.4 174.6,836.4 174.2,840.0" fill="none" stroke="#5a962e" stroke-width="1.9" stroke-linecap="round"/><path d="M165.5,868.0C165.6,863.0 165.5,849.3 165.8,838.0C166.1,826.7 166.9,811.2 167.5,800.0C168.1,788.8 169.2,775.8 169.6,771.0C170.1,775.8 171.6,788.8 172.4,800.0C173.2,811.2 174.2,826.7 174.6,838.0C175.0,849.3 174.9,863.0 175.0,868.0Z" fill="url(#lfC)" stroke="#16210c" stroke-width="1.5" stroke-linejoin="round"/><path d="M128.2,865.4 Q172,871.6 215.5,865.4 C215.3,878 214.8,888 213.6,896.7 C212,906 210,913 206.7,918.2 C203,923 198,927.4 191.1,929.2 C185,930.6 178,931 171.6,931 C166,931 160,930.6 152,928.4 C147,927.4 142,925 137.4,918.2 C134,914 132,908 130.5,896.7 C129.5,890 129,880 128.2,865.4 Z" fill="url(#potg)" stroke="#1a1110" stroke-width="1.8" stroke-linejoin="round"/><path d="M148,877 Q170,873 196,877 Q200,890 197,900 Q201,910 194,922 Q172,928 150,922 Q143,908 146,898 Q143,886 148,877Z" fill="#e0b9ad" opacity="0.6" filter="url(#soft2)"/><g transform="translate(120.1,743.1)"><g fill="#190d0a" stroke="#190d0a" stroke-width="3.4" stroke-linejoin="round"><path d="M0,0 C-1.47,-2.45 -7.16,-7.34 -7.95,-15.18 C-8.35,-21.05 -5.25,-25.95 0.00,-24.11 C5.25,-25.95 8.35,-21.05 7.95,-15.18 C7.16,-7.34 1.47,-2.45 0.00,0.00 Z" transform="rotate(75)"/><path d="M0,0 C-1.47,-2.45 -8.67,-7.34 -9.63,-15.18 C-10.11,-21.05 -6.35,-25.95 0.00,-24.11 C6.35,-25.95 10.11,-21.05 9.63,-15.18 C8.67,-7.34 1.47,-2.45 0.00,0.00 Z" transform="rotate(138)"/><path d="M0,0 C-1.89,-3.16 -10.68,-9.47 -11.87,-19.56 C-12.46,-27.13 -7.83,-33.45 0.00,-31.08 C7.83,-33.45 12.46,-27.13 11.87,-19.56 C10.68,-9.47 1.89,-3.16 0.00,0.00 Z" transform="rotate(226)"/><path d="M0,0 C-1.71,-2.86 -9.23,-8.57 -10.26,-17.71 C-10.77,-24.56 -6.77,-30.27 0.00,-28.13 C6.77,-30.27 10.77,-24.56 10.26,-17.71 C9.23,-8.57 1.71,-2.86 0.00,0.00 Z" transform="rotate(-65)"/><path d="M0,0 C-1.62,-2.69 -7.87,-8.08 -8.75,-16.70 C-9.19,-23.16 -5.77,-28.54 0.00,-26.52 C5.77,-28.54 9.19,-23.16 8.75,-16.70 C7.87,-8.08 1.62,-2.69 0.00,0.00 Z" transform="rotate(10)"/></g><g transform="rotate(75)"><path d="M0,0 C-1.47,-2.45 -7.16,-7.34 -7.95,-15.18 C-8.35,-21.05 -5.25,-25.95 0.00,-24.11 C5.25,-25.95 8.35,-21.05 7.95,-15.18 C7.16,-7.34 1.47,-2.45 0.00,0.00 Z" fill="url(#pq)" stroke="#3a1219" stroke-width="1.4"/><path d="M-1.05,-7.34 C-6.84,-12.19 -7.16,-17.92 -5.25,-22.03 C-3.66,-17.92 -3.82,-12.19 -1.05,-7.34 Z" fill="#ea7f90" opacity="0.5"/><path d="M-0.01,-2.94 C-3.21,-9.24 -3.85,-16.69 -0.03,-22.03 C3.15,-16.69 2.83,-9.24 -0.01,-2.94 Z" fill="#fde4df" opacity="0.9"/><path d="M-0.32,-7.34 C-2.23,-12.03 -2.35,-17.57 -1.59,-21.54 C-0.95,-17.57 -1.02,-12.03 -0.32,-7.34 Z" fill="#f6b3b9" opacity="0.7"/></g><g transform="rotate(138)"><path d="M0,0 C-1.47,-2.45 -8.67,-7.34 -9.63,-15.18 C-10.11,-21.05 -6.35,-25.95 0.00,-24.11 C6.35,-25.95 10.11,-21.05 9.63,-15.18 C8.67,-7.34 1.47,-2.45 0.00,0.00 Z" fill="url(#pq)" stroke="#3a1219" stroke-width="1.4"/><path d="M1.27,-7.34 C4.43,-12.19 4.04,-17.92 6.35,-22.03 C8.28,-17.92 8.09,-12.19 1.27,-7.34 Z" fill="#ea7f90" opacity="0.5"/><path d="M-0.18,-2.94 C-4.76,-9.24 -5.53,-16.69 -0.91,-22.03 C2.94,-16.69 2.56,-9.24 -0.18,-2.94 Z" fill="#fde4df" opacity="0.9"/><path d="M0.39,-7.34 C1.16,-12.03 1.00,-17.57 1.93,-21.54 C2.70,-17.57 2.62,-12.03 0.39,-7.34 Z" fill="#f6b3b9" opacity="0.7"/></g><g transform="rotate(226)"><path d="M0,0 C-1.89,-3.16 -10.68,-9.47 -11.87,-19.56 C-12.46,-27.13 -7.83,-33.45 0.00,-31.08 C7.83,-33.45 12.46,-27.13 11.87,-19.56 C10.68,-9.47 1.89,-3.16 0.00,0.00 Z" fill="url(#pq)" stroke="#3a1219" stroke-width="1.4"/><path d="M-1.57,-9.47 C-10.21,-15.71 -10.68,-23.10 -7.83,-28.40 C-5.46,-23.10 -5.70,-15.71 -1.57,-9.47 Z" fill="#ea7f90" opacity="0.5"/><path d="M0.08,-3.79 C-4.34,-11.91 -5.29,-21.51 0.41,-28.40 C5.16,-21.51 4.68,-11.91 0.08,-3.79 Z" fill="#fde4df" opacity="0.9"/><path d="M-0.47,-9.47 C-3.32,-15.50 -3.51,-22.64 -2.37,-27.77 C-1.42,-22.64 -1.52,-15.50 -0.47,-9.47 Z" fill="#f6b3b9" opacity="0.7"/></g><g transform="rotate(-65)"><path d="M0,0 C-1.71,-2.86 -9.23,-8.57 -10.26,-17.71 C-10.77,-24.56 -6.77,-30.27 0.00,-28.13 C6.77,-30.27 10.77,-24.56 10.26,-17.71 C9.23,-8.57 1.71,-2.86 0.00,0.00 Z" fill="url(#pq)" stroke="#3a1219" stroke-width="1.4"/><path d="M1.35,-8.57 C4.72,-14.22 4.31,-20.91 6.77,-25.70 C8.82,-20.91 8.61,-14.22 1.35,-8.57 Z" fill="#ea7f90" opacity="0.5"/><path d="M0.21,-3.43 C-3.04,-10.78 -3.86,-19.47 1.06,-25.70 C5.17,-19.47 4.76,-10.78 0.21,-3.43 Z" fill="#fde4df" opacity="0.9"/><path d="M0.41,-8.57 C1.23,-14.03 1.07,-20.49 2.05,-25.13 C2.87,-20.49 2.79,-14.03 0.41,-8.57 Z" fill="#f6b3b9" opacity="0.7"/></g><g transform="rotate(10)"><path d="M0,0 C-1.62,-2.69 -7.87,-8.08 -8.75,-16.70 C-9.19,-23.16 -5.77,-28.54 0.00,-26.52 C5.77,-28.54 9.19,-23.16 8.75,-16.70 C7.87,-8.08 1.62,-2.69 0.00,0.00 Z" fill="url(#pq)" stroke="#3a1219" stroke-width="1.4"/><path d="M1.15,-8.08 C4.02,-13.41 3.67,-19.71 5.77,-24.24 C7.52,-19.71 7.35,-13.41 1.15,-8.08 Z" fill="#ea7f90" opacity="0.5"/><path d="M-0.08,-3.23 C-3.89,-10.16 -4.59,-18.35 -0.39,-24.24 C3.11,-18.35 2.76,-10.16 -0.08,-3.23 Z" fill="#fde4df" opacity="0.9"/><path d="M0.35,-8.08 C1.05,-13.23 0.91,-19.32 1.75,-23.70 C2.45,-19.32 2.38,-13.23 0.35,-8.08 Z" fill="#f6b3b9" opacity="0.7"/></g><circle r="13.6" fill="url(#glowP)"/><circle r="5.2" fill="#f8d25a" opacity="0.9"/><circle r="3.9" fill="#ee7d1f"/><circle r="2.3" fill="#e4491c"/></g><g transform="translate(217.0,742.1)"><g fill="#190d0a" stroke="#190d0a" stroke-width="3.4" stroke-linejoin="round"><path d="M0,0 C-1.47,-2.45 -7.16,-7.34 -7.95,-15.18 C-8.35,-21.05 -5.25,-25.95 0.00,-24.11 C5.25,-25.95 8.35,-21.05 7.95,-15.18 C7.16,-7.34 1.47,-2.45 0.00,0.00 Z" transform="rotate(280)"/><path d="M0,0 C-1.47,-2.45 -8.67,-7.34 -9.63,-15.18 C-10.11,-21.05 -6.35,-25.95 0.00,-24.11 C6.35,-25.95 10.11,-21.05 9.63,-15.18 C8.67,-7.34 1.47,-2.45 0.00,0.00 Z" transform="rotate(210)"/><path d="M0,0 C-1.86,-3.10 -10.50,-9.30 -11.67,-19.22 C-12.25,-26.67 -7.70,-32.87 0.00,-30.54 C7.70,-32.87 12.25,-26.67 11.67,-19.22 C10.50,-9.30 1.86,-3.10 0.00,0.00 Z" transform="rotate(111)"/><path d="M0,0 C-1.60,-2.67 -8.61,-8.00 -9.57,-16.53 C-10.05,-22.92 -6.32,-28.26 0.00,-26.26 C6.32,-28.26 10.05,-22.92 9.57,-16.53 C8.61,-8.00 1.60,-2.67 0.00,0.00 Z" transform="rotate(42)"/><path d="M0,0 C-1.58,-2.64 -7.71,-7.92 -8.57,-16.36 C-9.00,-22.69 -5.66,-27.97 0.00,-25.99 C5.66,-27.97 9.00,-22.69 8.57,-16.36 C7.71,-7.92 1.58,-2.64 0.00,0.00 Z" transform="rotate(-22)"/></g><g transform="rotate(280)"><path d="M0,0 C-1.47,-2.45 -7.16,-7.34 -7.95,-15.18 C-8.35,-21.05 -5.25,-25.95 0.00,-24.11 C5.25,-25.95 8.35,-21.05 7.95,-15.18 C7.16,-7.34 1.47,-2.45 0.00,0.00 Z" fill="url(#pq)" stroke="#3a1219" stroke-width="1.4"/><path d="M-1.05,-7.34 C-6.84,-12.19 -7.16,-17.92 -5.25,-22.03 C-3.66,-17.92 -3.82,-12.19 -1.05,-7.34 Z" fill="#ea7f90" opacity="0.5"/><path d="M-0.09,-2.94 C-3.63,-9.24 -4.26,-16.69 -0.45,-22.03 C2.74,-16.69 2.42,-9.24 -0.09,-2.94 Z" fill="#fde4df" opacity="0.9"/><path d="M-0.32,-7.34 C-2.23,-12.03 -2.35,-17.57 -1.59,-21.54 C-0.95,-17.57 -1.02,-12.03 -0.32,-7.34 Z" fill="#f6b3b9" opacity="0.7"/></g><g transform="rotate(210)"><path d="M0,0 C-1.47,-2.45 -8.67,-7.34 -9.63,-15.18 C-10.11,-21.05 -6.35,-25.95 0.00,-24.11 C6.35,-25.95 10.11,-21.05 9.63,-15.18 C8.67,-7.34 1.47,-2.45 0.00,0.00 Z" fill="url(#pq)" stroke="#3a1219" stroke-width="1.4"/><path d="M-1.27,-7.34 C-8.28,-12.19 -8.67,-17.92 -6.35,-22.03 C-4.43,-17.92 -4.62,-12.19 -1.27,-7.34 Z" fill="#ea7f90" opacity="0.5"/><path d="M0.09,-2.94 C-3.40,-9.24 -4.17,-16.69 0.45,-22.03 C4.30,-16.69 3.92,-9.24 0.09,-2.94 Z" fill="#fde4df" opacity="0.9"/><path d="M-0.39,-7.34 C-2.70,-12.03 -2.85,-17.57 -1.93,-21.54 C-1.16,-17.57 -1.23,-12.03 -0.39,-7.34 Z" fill="#f6b3b9" opacity="0.7"/></g><g transform="rotate(111)"><path d="M0,0 C-1.86,-3.10 -10.50,-9.30 -11.67,-19.22 C-12.25,-26.67 -7.70,-32.87 0.00,-30.54 C7.70,-32.87 12.25,-26.67 11.67,-19.22 C10.50,-9.30 1.86,-3.10 0.00,0.00 Z" fill="url(#pq)" stroke="#3a1219" stroke-width="1.4"/><path d="M1.54,-9.30 C5.37,-15.44 4.90,-22.70 7.70,-27.91 C10.03,-22.70 9.80,-15.44 1.54,-9.30 Z" fill="#ea7f90" opacity="0.5"/><path d="M0.20,-3.72 C-3.65,-11.70 -4.58,-21.14 1.02,-27.91 C5.68,-21.14 5.22,-11.70 0.20,-3.72 Z" fill="#fde4df" opacity="0.9"/><path d="M0.47,-9.30 C1.40,-15.24 1.21,-22.25 2.33,-27.29 C3.27,-22.25 3.17,-15.24 0.47,-9.30 Z" fill="#f6b3b9" opacity="0.7"/></g><g transform="rotate(42)"><path d="M0,0 C-1.60,-2.67 -8.61,-8.00 -9.57,-16.53 C-10.05,-22.92 -6.32,-28.26 0.00,-26.26 C6.32,-28.26 10.05,-22.92 9.57,-16.53 C8.61,-8.00 1.60,-2.67 0.00,0.00 Z" fill="url(#pq)" stroke="#3a1219" stroke-width="1.4"/><path d="M-1.26,-8.00 C-8.23,-13.27 -8.61,-19.51 -6.32,-23.99 C-4.40,-19.51 -4.59,-13.27 -1.26,-8.00 Z" fill="#ea7f90" opacity="0.5"/><path d="M-0.13,-3.20 C-4.48,-10.06 -5.25,-18.17 -0.65,-23.99 C3.17,-18.17 2.79,-10.06 -0.13,-3.20 Z" fill="#fde4df" opacity="0.9"/><path d="M-0.38,-8.00 C-2.68,-13.10 -2.83,-19.13 -1.91,-23.46 C-1.15,-19.13 -1.23,-13.10 -0.38,-8.00 Z" fill="#f6b3b9" opacity="0.7"/></g><g transform="rotate(-22)"><path d="M0,0 C-1.58,-2.64 -7.71,-7.92 -8.57,-16.36 C-9.00,-22.69 -5.66,-27.97 0.00,-25.99 C5.66,-27.97 9.00,-22.69 8.57,-16.36 C7.71,-7.92 1.58,-2.64 0.00,0.00 Z" fill="url(#pq)" stroke="#3a1219" stroke-width="1.4"/><path d="M1.13,-7.92 C3.94,-13.14 3.60,-19.31 5.66,-23.75 C7.37,-19.31 7.20,-13.14 1.13,-7.92 Z" fill="#ea7f90" opacity="0.5"/><path d="M0.07,-3.17 C-3.09,-9.96 -3.77,-17.98 0.34,-23.75 C3.77,-17.98 3.43,-9.96 0.07,-3.17 Z" fill="#fde4df" opacity="0.9"/><path d="M0.34,-7.92 C1.03,-12.97 0.89,-18.93 1.71,-23.22 C2.40,-18.93 2.33,-12.97 0.34,-7.92 Z" fill="#f6b3b9" opacity="0.7"/></g><circle r="13.6" fill="url(#glowP)"/><circle r="5.2" fill="#f8d25a" opacity="0.9"/><circle r="3.9" fill="#ee7d1f"/><circle r="2.3" fill="#e4491c"/></g><g transform="translate(168.3,741.9)"><g fill="#190d0a" stroke="#190d0a" stroke-width="3.4" stroke-linejoin="round"><path d="M0,0 C-1.50,-2.50 -6.91,-7.49 -7.68,-15.48 C-8.07,-21.47 -5.07,-26.46 0.00,-24.59 C5.07,-26.46 8.07,-21.47 7.68,-15.48 C6.91,-7.49 1.50,-2.50 0.00,0.00 Z" transform="rotate(268)"/><path d="M0,0 C-1.87,-3.12 -11.04,-9.36 -12.27,-19.34 C-12.88,-26.83 -8.10,-33.07 0.00,-30.73 C8.10,-33.07 12.88,-26.83 12.27,-19.34 C11.04,-9.36 1.87,-3.12 0.00,0.00 Z" transform="rotate(142)"/><path d="M0,0 C-1.95,-3.24 -11.49,-9.73 -12.76,-20.12 C-13.40,-27.91 -8.42,-34.39 0.00,-31.96 C8.42,-34.39 13.40,-27.91 12.76,-20.12 C11.49,-9.73 1.95,-3.24 0.00,0.00 Z" transform="rotate(208)"/><path d="M0,0 C-1.68,-2.81 -9.72,-8.42 -10.80,-17.41 C-11.34,-24.15 -7.13,-29.76 0.00,-27.66 C7.13,-29.76 11.34,-24.15 10.80,-17.41 C9.72,-8.42 1.68,-2.81 0.00,0.00 Z" transform="rotate(70)"/><path d="M0,0 C-1.72,-2.87 -10.16,-8.61 -11.29,-17.80 C-11.85,-24.69 -7.45,-30.43 0.00,-28.27 C7.45,-30.43 11.85,-24.69 11.29,-17.80 C10.16,-8.61 1.72,-2.87 0.00,0.00 Z" transform="rotate(-56)"/><path d="M0,0 C-1.87,-3.12 -8.88,-9.36 -9.87,-19.34 C-10.36,-26.83 -6.51,-33.07 0.00,-30.73 C6.51,-33.07 10.36,-26.83 9.87,-19.34 C8.88,-9.36 1.87,-3.12 0.00,0.00 Z" transform="rotate(3)"/></g><g transform="rotate(268)"><path d="M0,0 C-1.50,-2.50 -6.91,-7.49 -7.68,-15.48 C-8.07,-21.47 -5.07,-26.46 0.00,-24.59 C5.07,-26.46 8.07,-21.47 7.68,-15.48 C6.91,-7.49 1.50,-2.50 0.00,0.00 Z" fill="url(#pq)" stroke="#3a1219" stroke-width="1.4"/><path d="M-1.01,-7.49 C-6.61,-12.43 -6.91,-18.27 -5.07,-22.46 C-3.53,-18.27 -3.69,-12.43 -1.01,-7.49 Z" fill="#ea7f90" opacity="0.5"/><path d="M0.14,-3.00 C-2.39,-9.42 -3.00,-17.01 0.69,-22.46 C3.76,-17.01 3.45,-9.42 0.14,-3.00 Z" fill="#fde4df" opacity="0.9"/><path d="M-0.31,-7.49 C-2.15,-12.27 -2.27,-17.91 -1.54,-21.96 C-0.92,-17.91 -0.98,-12.27 -0.31,-7.49 Z" fill="#f6b3b9" opacity="0.7"/></g><g transform="rotate(142)"><path d="M0,0 C-1.87,-3.12 -11.04,-9.36 -12.27,-19.34 C-12.88,-26.83 -8.10,-33.07 0.00,-30.73 C8.10,-33.07 12.88,-26.83 12.27,-19.34 C11.04,-9.36 1.87,-3.12 0.00,0.00 Z" fill="url(#pq)" stroke="#3a1219" stroke-width="1.4"/><path d="M1.62,-9.36 C5.64,-15.54 5.15,-22.84 8.10,-28.08 C10.55,-22.84 10.31,-15.54 1.62,-9.36 Z" fill="#ea7f90" opacity="0.5"/><path d="M0.24,-3.74 C-3.68,-11.77 -4.67,-21.27 1.22,-28.08 C6.13,-21.27 5.64,-11.77 0.24,-3.74 Z" fill="#fde4df" opacity="0.9"/><path d="M0.49,-9.36 C1.47,-15.33 1.28,-22.39 2.45,-27.46 C3.44,-22.39 3.34,-15.33 0.49,-9.36 Z" fill="#f6b3b9" opacity="0.7"/></g><g transform="rotate(208)"><path d="M0,0 C-1.95,-3.24 -11.49,-9.73 -12.76,-20.12 C-13.40,-27.91 -8.42,-34.39 0.00,-31.96 C8.42,-34.39 13.40,-27.91 12.76,-20.12 C11.49,-9.73 1.95,-3.24 0.00,0.00 Z" fill="url(#pq)" stroke="#3a1219" stroke-width="1.4"/><path d="M1.68,-9.73 C5.87,-16.16 5.36,-23.75 8.42,-29.20 C10.98,-23.75 10.72,-16.16 1.68,-9.73 Z" fill="#ea7f90" opacity="0.5"/><path d="M0.16,-3.89 C-4.33,-12.25 -5.35,-22.12 0.78,-29.20 C5.88,-22.12 5.37,-12.25 0.16,-3.89 Z" fill="#fde4df" opacity="0.9"/><path d="M0.51,-9.73 C1.53,-15.94 1.33,-23.28 2.55,-28.55 C3.57,-23.28 3.47,-15.94 0.51,-9.73 Z" fill="#f6b3b9" opacity="0.7"/></g><g transform="rotate(70)"><path d="M0,0 C-1.68,-2.81 -9.72,-8.42 -10.80,-17.41 C-11.34,-24.15 -7.13,-29.76 0.00,-27.66 C7.13,-29.76 11.34,-24.15 10.80,-17.41 C9.72,-8.42 1.68,-2.81 0.00,0.00 Z" fill="url(#pq)" stroke="#3a1219" stroke-width="1.4"/><path d="M1.43,-8.42 C4.97,-13.98 4.54,-20.55 7.13,-25.27 C9.29,-20.55 9.08,-13.98 1.43,-8.42 Z" fill="#ea7f90" opacity="0.5"/><path d="M-0.02,-3.37 C-4.44,-10.60 -5.31,-19.14 -0.12,-25.27 C4.20,-19.14 3.77,-10.60 -0.02,-3.37 Z" fill="#fde4df" opacity="0.9"/><path d="M0.43,-8.42 C1.30,-13.80 1.12,-20.15 2.16,-24.71 C3.03,-20.15 2.94,-13.80 0.43,-8.42 Z" fill="#f6b3b9" opacity="0.7"/></g><g transform="rotate(-56)"><path d="M0,0 C-1.72,-2.87 -10.16,-8.61 -11.29,-17.80 C-11.85,-24.69 -7.45,-30.43 0.00,-28.27 C7.45,-30.43 11.85,-24.69 11.29,-17.80 C10.16,-8.61 1.72,-2.87 0.00,0.00 Z" fill="url(#pq)" stroke="#3a1219" stroke-width="1.4"/><path d="M-1.49,-8.61 C-9.71,-14.29 -10.16,-21.01 -7.45,-25.83 C-5.19,-21.01 -5.42,-14.29 -1.49,-8.61 Z" fill="#ea7f90" opacity="0.5"/><path d="M0.12,-3.44 C-3.93,-10.83 -4.83,-19.56 0.59,-25.83 C5.10,-19.56 4.65,-10.83 0.12,-3.44 Z" fill="#fde4df" opacity="0.9"/><path d="M-0.45,-8.61 C-3.16,-14.11 -3.34,-20.60 -2.26,-25.26 C-1.35,-20.60 -1.45,-14.11 -0.45,-8.61 Z" fill="#f6b3b9" opacity="0.7"/></g><g transform="rotate(3)"><path d="M0,0 C-1.87,-3.12 -8.88,-9.36 -9.87,-19.34 C-10.36,-26.83 -6.51,-33.07 0.00,-30.73 C6.51,-33.07 10.36,-26.83 9.87,-19.34 C8.88,-9.36 1.87,-3.12 0.00,0.00 Z" fill="url(#pq)" stroke="#3a1219" stroke-width="1.4"/><path d="M1.30,-9.36 C4.54,-15.54 4.15,-22.84 6.51,-28.08 C8.49,-22.84 8.29,-15.54 1.30,-9.36 Z" fill="#ea7f90" opacity="0.5"/><path d="M-0.20,-3.74 C-4.95,-11.77 -5.74,-21.27 -1.00,-28.08 C2.94,-21.27 2.55,-11.77 -0.20,-3.74 Z" fill="#fde4df" opacity="0.9"/><path d="M0.39,-9.36 C1.18,-15.33 1.03,-22.39 1.97,-27.46 C2.76,-22.39 2.68,-15.33 0.39,-9.36 Z" fill="#f6b3b9" opacity="0.7"/></g><circle r="15.6" fill="url(#glowP)"/><circle r="5.9" fill="#f8d25a" opacity="0.9"/><circle r="4.5" fill="#ee7d1f"/><circle r="2.7" fill="#e4491c"/></g></g>
</svg>
</body></html>
